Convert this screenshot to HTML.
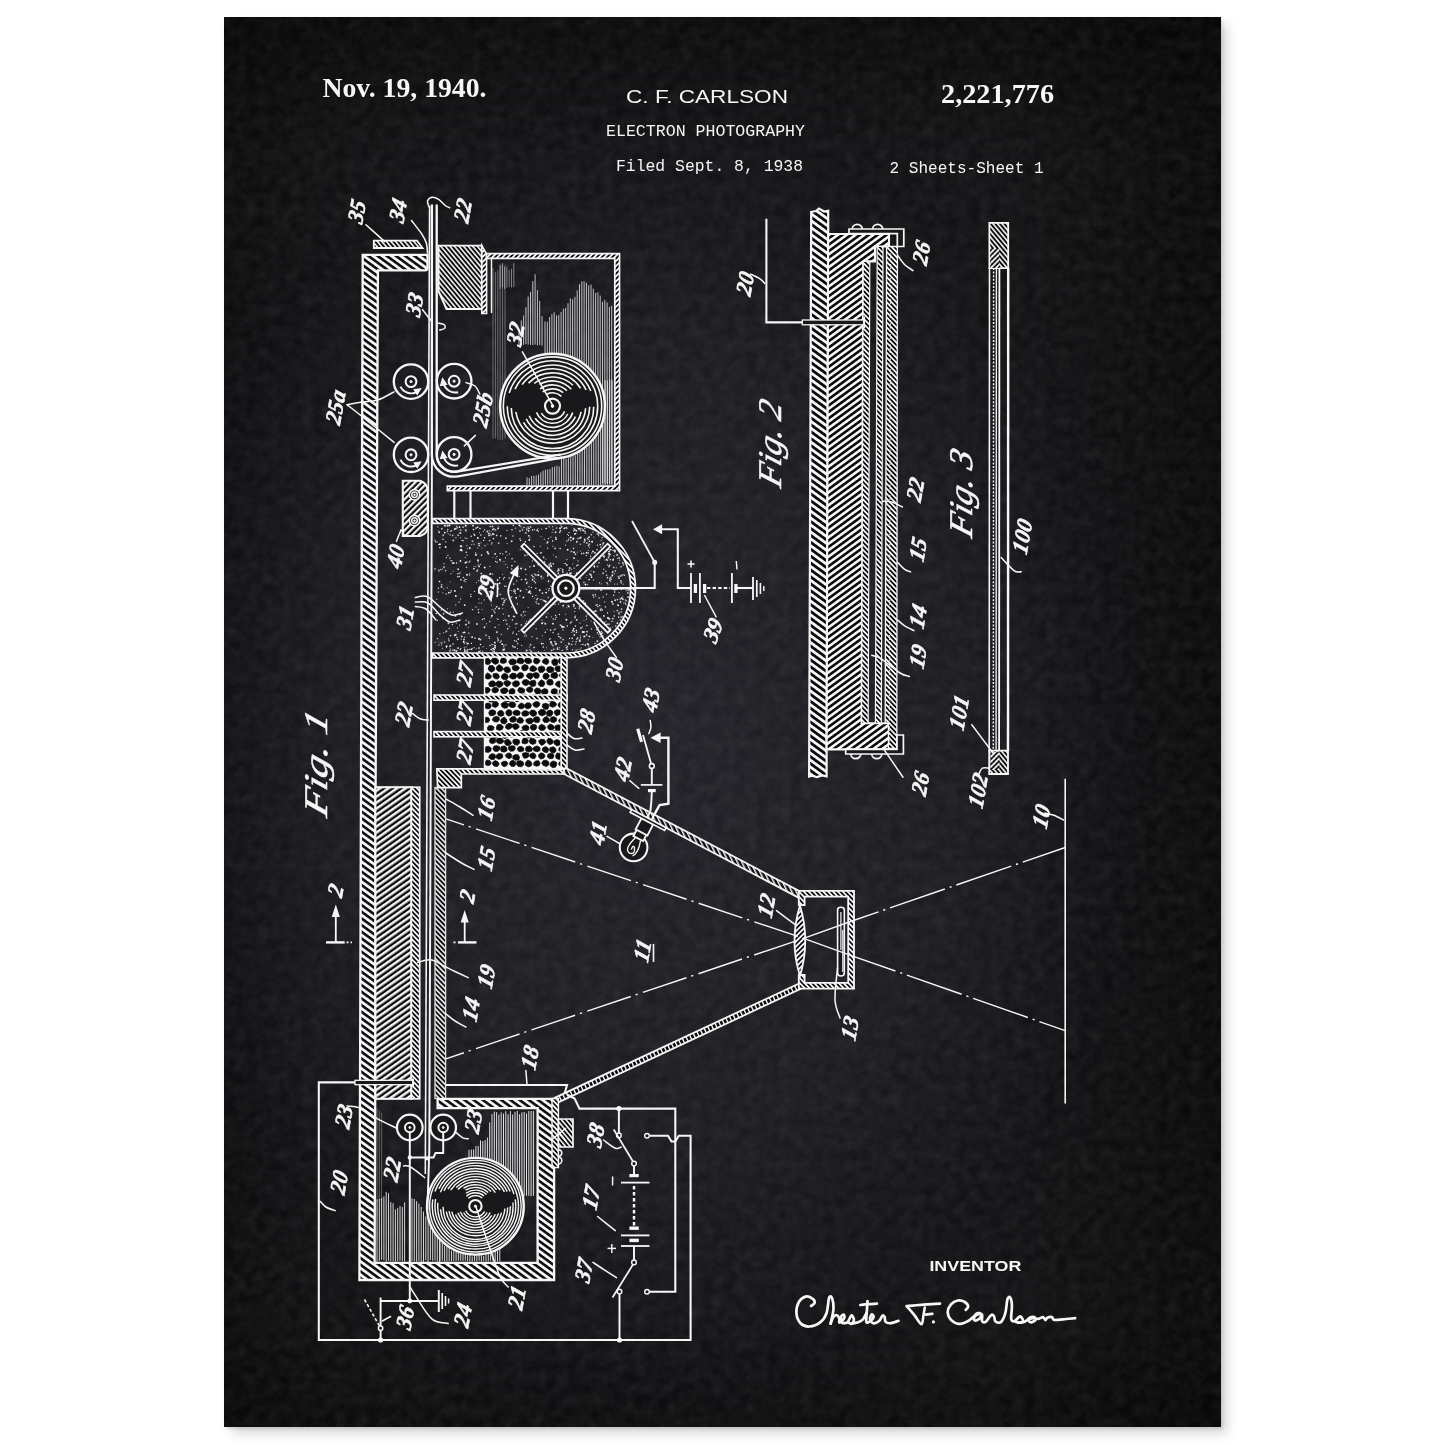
<!DOCTYPE html>
<html><head><meta charset="utf-8"><title>Electron Photography Patent</title>
<style>
html,body{margin:0;padding:0;background:#fff;}
body{width:1445px;height:1445px;overflow:hidden;position:relative;font-family:"Liberation Sans",sans-serif;}
#poster{position:absolute;left:224px;top:17px;width:997px;height:1410px;background:#121214;
 box-shadow:7px 7px 11px -1px rgba(0,0,0,0.17), 2px 2px 3px rgba(0,0,0,0.10);overflow:hidden;}
#poster .g1{position:absolute;inset:0;background:
 radial-gradient(ellipse 620px 800px at 42% 52%, rgba(40,40,48,0.72) 0%, rgba(36,36,44,0.52) 50%, rgba(20,20,26,0.2) 80%, rgba(10,10,14,0) 100%),
 linear-gradient(90deg, rgba(0,0,0,0.35) 0%, rgba(0,0,0,0.12) 9%, rgba(0,0,0,0) 20%, rgba(0,0,0,0) 78%, rgba(0,0,0,0.45) 100%),
 linear-gradient(180deg, rgba(0,0,0,0.45) 0%, rgba(0,0,0,0) 10%, rgba(0,0,0,0) 92%, rgba(0,0,0,0.35) 100%);}
svg{position:absolute;left:0;top:0;}
.lb{font-family:"Liberation Serif",serif;font-style:italic;font-weight:bold;fill:#f6f6f6;stroke:#f6f6f6;stroke-width:0.55;text-anchor:middle;}
</style></head>
<body>
<div id="poster"><div class="g1"></div>
<svg width="997" height="1410" style="position:absolute;left:0;top:0"><filter id="nz" x="0" y="0" width="100%" height="100%"><feTurbulence type="fractalNoise" baseFrequency="0.09" numOctaves="4" seed="11"/><feColorMatrix type="matrix" values="0 0 0 0 1  0 0 0 0 1  0 0 0 0 1  0.065 0.065 0 0 -0.04"/></filter><rect width="997" height="1410" filter="url(#nz)"/></svg>
</div>
<svg width="1445" height="1445" style="will-change:transform" viewBox="0 0 1445 1445">
<defs>
<pattern id="hA" width="5.4" height="5.4" patternUnits="userSpaceOnUse" patternTransform="rotate(-54)"><rect width="5.4" height="5.4" fill="#0c0c0e"/><rect width="2.8" height="5.4" fill="#f6f6f6"/></pattern>
<pattern id="hB" width="3.5" height="3.5" patternUnits="userSpaceOnUse" patternTransform="rotate(-40)"><rect width="3.5" height="3.5" fill="#0c0c0e"/><rect width="1.6" height="3.5" fill="#f6f6f6"/></pattern>
<pattern id="hC" width="3.6" height="3.6" patternUnits="userSpaceOnUse" patternTransform="rotate(45)"><rect width="3.6" height="3.6" fill="#0c0c0e"/><rect width="1.8" height="3.6" fill="#f6f6f6"/></pattern>
<pattern id="hD" width="3.5" height="3.5" patternUnits="userSpaceOnUse" patternTransform="rotate(-44)"><rect width="3.5" height="3.5" fill="#0c0c0e"/><rect width="1.75" height="3.5" fill="#f6f6f6"/></pattern>
<pattern id="hR" width="4.9" height="4.9" patternUnits="userSpaceOnUse" patternTransform="rotate(55)"><rect width="4.9" height="4.9" fill="#0c0c0e"/><rect width="2.5" height="4.9" fill="#f6f6f6"/></pattern>
<pattern id="hF" width="5.0" height="5.0" patternUnits="userSpaceOnUse" patternTransform="rotate(50)"><rect width="5.0" height="5.0" fill="#0c0c0e"/><rect width="2.3" height="5.0" fill="#f6f6f6"/></pattern>
<pattern id="hC40" width="4.4" height="4.4" patternUnits="userSpaceOnUse" patternTransform="rotate(45)"><rect width="4.4" height="4.4" fill="#0c0c0e"/><rect width="2.2" height="4.4" fill="#f6f6f6"/></pattern>
<pattern id="peb" width="25.5" height="27" patternUnits="userSpaceOnUse"><rect width="25.5" height="27" fill="#f6f6f6"/><ellipse cx="-22.31" cy="3.38" rx="2.14" ry="2.43" transform="rotate(33 -22.31 3.38)" fill="#0c0c0e"/><ellipse cx="3.19" cy="3.38" rx="2.14" ry="2.43" transform="rotate(33 3.19 3.38)" fill="#0c0c0e"/><ellipse cx="28.69" cy="3.38" rx="2.14" ry="2.43" transform="rotate(33 28.69 3.38)" fill="#0c0c0e"/><ellipse cx="-15.94" cy="3.38" rx="2.36" ry="2.48" transform="rotate(6 -15.94 3.38)" fill="#0c0c0e"/><ellipse cx="9.56" cy="3.38" rx="2.36" ry="2.48" transform="rotate(6 9.56 3.38)" fill="#0c0c0e"/><ellipse cx="35.06" cy="3.38" rx="2.36" ry="2.48" transform="rotate(6 35.06 3.38)" fill="#0c0c0e"/><ellipse cx="-9.56" cy="3.38" rx="2.01" ry="2.60" transform="rotate(23 -9.56 3.38)" fill="#0c0c0e"/><ellipse cx="15.94" cy="3.38" rx="2.01" ry="2.60" transform="rotate(23 15.94 3.38)" fill="#0c0c0e"/><ellipse cx="41.44" cy="3.38" rx="2.01" ry="2.60" transform="rotate(23 41.44 3.38)" fill="#0c0c0e"/><ellipse cx="-3.19" cy="3.38" rx="2.14" ry="2.70" transform="rotate(42 -3.19 3.38)" fill="#0c0c0e"/><ellipse cx="22.31" cy="3.38" rx="2.14" ry="2.70" transform="rotate(42 22.31 3.38)" fill="#0c0c0e"/><ellipse cx="47.81" cy="3.38" rx="2.14" ry="2.70" transform="rotate(42 47.81 3.38)" fill="#0c0c0e"/><ellipse cx="-19.12" cy="10.12" rx="2.50" ry="2.39" transform="rotate(58 -19.12 10.12)" fill="#0c0c0e"/><ellipse cx="6.38" cy="10.12" rx="2.50" ry="2.39" transform="rotate(58 6.38 10.12)" fill="#0c0c0e"/><ellipse cx="31.88" cy="10.12" rx="2.50" ry="2.39" transform="rotate(58 31.88 10.12)" fill="#0c0c0e"/><ellipse cx="-12.75" cy="10.12" rx="2.09" ry="2.48" transform="rotate(78 -12.75 10.12)" fill="#0c0c0e"/><ellipse cx="12.75" cy="10.12" rx="2.09" ry="2.48" transform="rotate(78 12.75 10.12)" fill="#0c0c0e"/><ellipse cx="38.25" cy="10.12" rx="2.09" ry="2.48" transform="rotate(78 38.25 10.12)" fill="#0c0c0e"/><ellipse cx="-6.38" cy="10.12" rx="2.31" ry="2.54" transform="rotate(60 -6.38 10.12)" fill="#0c0c0e"/><ellipse cx="19.12" cy="10.12" rx="2.31" ry="2.54" transform="rotate(60 19.12 10.12)" fill="#0c0c0e"/><ellipse cx="44.62" cy="10.12" rx="2.31" ry="2.54" transform="rotate(60 44.62 10.12)" fill="#0c0c0e"/><ellipse cx="0.00" cy="10.12" rx="2.04" ry="2.55" transform="rotate(53 0.00 10.12)" fill="#0c0c0e"/><ellipse cx="25.50" cy="10.12" rx="2.04" ry="2.55" transform="rotate(53 25.50 10.12)" fill="#0c0c0e"/><ellipse cx="51.00" cy="10.12" rx="2.04" ry="2.55" transform="rotate(53 51.00 10.12)" fill="#0c0c0e"/><ellipse cx="-22.31" cy="16.88" rx="2.18" ry="2.12" transform="rotate(78 -22.31 16.88)" fill="#0c0c0e"/><ellipse cx="3.19" cy="16.88" rx="2.18" ry="2.12" transform="rotate(78 3.19 16.88)" fill="#0c0c0e"/><ellipse cx="28.69" cy="16.88" rx="2.18" ry="2.12" transform="rotate(78 28.69 16.88)" fill="#0c0c0e"/><ellipse cx="-15.94" cy="16.88" rx="2.28" ry="2.53" transform="rotate(79 -15.94 16.88)" fill="#0c0c0e"/><ellipse cx="9.56" cy="16.88" rx="2.28" ry="2.53" transform="rotate(79 9.56 16.88)" fill="#0c0c0e"/><ellipse cx="35.06" cy="16.88" rx="2.28" ry="2.53" transform="rotate(79 35.06 16.88)" fill="#0c0c0e"/><ellipse cx="-9.56" cy="16.88" rx="2.43" ry="2.65" transform="rotate(36 -9.56 16.88)" fill="#0c0c0e"/><ellipse cx="15.94" cy="16.88" rx="2.43" ry="2.65" transform="rotate(36 15.94 16.88)" fill="#0c0c0e"/><ellipse cx="41.44" cy="16.88" rx="2.43" ry="2.65" transform="rotate(36 41.44 16.88)" fill="#0c0c0e"/><ellipse cx="-3.19" cy="16.88" rx="2.48" ry="2.37" transform="rotate(84 -3.19 16.88)" fill="#0c0c0e"/><ellipse cx="22.31" cy="16.88" rx="2.48" ry="2.37" transform="rotate(84 22.31 16.88)" fill="#0c0c0e"/><ellipse cx="47.81" cy="16.88" rx="2.48" ry="2.37" transform="rotate(84 47.81 16.88)" fill="#0c0c0e"/><ellipse cx="-19.12" cy="23.62" rx="2.53" ry="2.16" transform="rotate(12 -19.12 23.62)" fill="#0c0c0e"/><ellipse cx="6.38" cy="23.62" rx="2.53" ry="2.16" transform="rotate(12 6.38 23.62)" fill="#0c0c0e"/><ellipse cx="31.88" cy="23.62" rx="2.53" ry="2.16" transform="rotate(12 31.88 23.62)" fill="#0c0c0e"/><ellipse cx="-12.75" cy="23.62" rx="2.13" ry="2.68" transform="rotate(39 -12.75 23.62)" fill="#0c0c0e"/><ellipse cx="12.75" cy="23.62" rx="2.13" ry="2.68" transform="rotate(39 12.75 23.62)" fill="#0c0c0e"/><ellipse cx="38.25" cy="23.62" rx="2.13" ry="2.68" transform="rotate(39 38.25 23.62)" fill="#0c0c0e"/><ellipse cx="-6.38" cy="23.62" rx="2.38" ry="2.28" transform="rotate(46 -6.38 23.62)" fill="#0c0c0e"/><ellipse cx="19.12" cy="23.62" rx="2.38" ry="2.28" transform="rotate(46 19.12 23.62)" fill="#0c0c0e"/><ellipse cx="44.62" cy="23.62" rx="2.38" ry="2.28" transform="rotate(46 44.62 23.62)" fill="#0c0c0e"/><ellipse cx="0.00" cy="23.62" rx="2.23" ry="2.31" transform="rotate(53 0.00 23.62)" fill="#0c0c0e"/><ellipse cx="25.50" cy="23.62" rx="2.23" ry="2.31" transform="rotate(53 25.50 23.62)" fill="#0c0c0e"/><ellipse cx="51.00" cy="23.62" rx="2.23" ry="2.31" transform="rotate(53 51.00 23.62)" fill="#0c0c0e"/></pattern>
<pattern id="hSq" width="4" height="5.6" patternUnits="userSpaceOnUse" patternTransform="rotate(-25.1) translate(0,-0.4)"><rect width="4" height="5.6" fill="#f6f6f6"/><rect x="1.3" y="1.7" width="2.7" height="2.4" fill="#0c0c0e"/></pattern>
<pattern id="hA2" width="5.6" height="5.6" patternUnits="userSpaceOnUse" patternTransform="rotate(-54)"><rect width="5.6" height="5.6" fill="#0c0c0e"/><rect width="2.8" height="5.6" fill="#f6f6f6"/></pattern>
<pattern id="hR2" width="5.2" height="5.2" patternUnits="userSpaceOnUse" patternTransform="rotate(54)"><rect width="5.2" height="5.2" fill="#0c0c0e"/><rect width="2.6" height="5.2" fill="#f6f6f6"/></pattern>
<pattern id="hW" width="4.0" height="4.0" patternUnits="userSpaceOnUse" patternTransform="rotate(-26)"><rect width="4.0" height="4.0" fill="#0c0c0e"/><rect width="1.5" height="4.0" fill="#f6f6f6"/></pattern>
</defs>
<g stroke="#f6f6f6" fill="none" stroke-linecap="butt" stroke-linejoin="miter">
<g stroke="none" fill="#f6f6f6">
<text x="322.5" y="96.5" font-family="Liberation Serif" font-weight="bold" font-size="27.5" textLength="164" lengthAdjust="spacingAndGlyphs">Nov. 19, 1940.</text>
<text x="626" y="103.2" font-family="Liberation Sans" font-size="17.5" textLength="162" lengthAdjust="spacingAndGlyphs">C. F. CARLSON</text>
<text x="606" y="135.6" font-family="Liberation Mono" font-size="16.4" textLength="199" lengthAdjust="spacingAndGlyphs">ELECTRON PHOTOGRAPHY</text>
<text x="616" y="170.8" font-family="Liberation Mono" font-size="16.4" textLength="187" lengthAdjust="spacingAndGlyphs">Filed Sept. 8, 1938</text>
<text x="941" y="102.8" font-family="Liberation Serif" font-weight="bold" font-size="27.5" textLength="113" lengthAdjust="spacingAndGlyphs">2,221,776</text>
<text x="889.5" y="173.3" font-family="Liberation Mono" font-size="16" textLength="154" lengthAdjust="spacingAndGlyphs">2 Sheets-Sheet 1</text>
<text x="929.4" y="1270.6" font-family="Liberation Sans" font-weight="bold" font-size="14.6" textLength="92" lengthAdjust="spacingAndGlyphs">INVENTOR</text>
</g>
<path d="M362.7,254.8 L427.5,254.8 L427.5,268 Q427.5,270.3 425,270.3 L377.9,270.3 L375.6,787.2 L375.2,1098.8 L374.6,1262.8 L537.6,1262.8 L537.6,1108.2 L437.6,1108.2 L437.6,1098.8 L554.1,1098.8 L554.1,1280 L359.4,1280 Z" stroke-width="2.32" fill="url(#hA)" />
<path d="M373.8,240.6 L417,240.6 L422.5,248 L373.8,248 Z" stroke-width="1.83" fill="url(#hB)" />
<path d="M438.5,245.6 L481.8,245.6 L481.8,309 L446.5,309 L438.5,291 Z" stroke-width="1.95" fill="url(#hB)" />
<path d="M481.8,245.6 L486.6,254 L486.6,313.5 L481.8,313.5 Z" stroke-width="1.59" fill="url(#hC)" />
<line x1="493.0" y1="267.9" x2="493.0" y2="438.7" stroke-width="0.8" opacity="0.45"/>
<line x1="495.4" y1="271.8" x2="495.4" y2="438.5" stroke-width="0.8" opacity="0.45"/>
<line x1="497.8" y1="270.4" x2="497.8" y2="439.5" stroke-width="0.8" opacity="0.45"/>
<line x1="500.2" y1="264.7" x2="500.2" y2="440.0" stroke-width="0.8" opacity="0.45"/>
<line x1="502.6" y1="264.4" x2="502.6" y2="439.8" stroke-width="0.8" opacity="0.45"/>
<line x1="505.0" y1="264.8" x2="505.0" y2="438.5" stroke-width="0.8" opacity="0.45"/>
<line x1="500.0" y1="265.4" x2="500.0" y2="288.8" stroke-width="0.8" opacity="0.6"/>
<line x1="502.3" y1="263.0" x2="502.3" y2="287.3" stroke-width="0.8" opacity="0.6"/>
<line x1="504.6" y1="267.0" x2="504.6" y2="289.1" stroke-width="0.8" opacity="0.6"/>
<line x1="506.9" y1="266.6" x2="506.9" y2="287.8" stroke-width="0.8" opacity="0.6"/>
<line x1="509.2" y1="269.8" x2="509.2" y2="286.9" stroke-width="0.8" opacity="0.6"/>
<line x1="511.5" y1="268.9" x2="511.5" y2="287.5" stroke-width="0.8" opacity="0.6"/>
<line x1="513.8" y1="263.2" x2="513.8" y2="287.1" stroke-width="0.8" opacity="0.6"/>
<line x1="519.0" y1="328.9" x2="519.0" y2="345.6" stroke-width="0.9" opacity="0.85"/>
<line x1="521.3" y1="320.4" x2="521.3" y2="345.1" stroke-width="0.9" opacity="0.85"/>
<line x1="523.6" y1="315.5" x2="523.6" y2="344.8" stroke-width="0.9" opacity="0.85"/>
<line x1="525.9" y1="307.3" x2="525.9" y2="344.2" stroke-width="0.9" opacity="0.85"/>
<line x1="528.2" y1="296.6" x2="528.2" y2="344.5" stroke-width="0.9" opacity="0.85"/>
<line x1="530.5" y1="291.8" x2="530.5" y2="344.9" stroke-width="0.9" opacity="0.85"/>
<line x1="532.8" y1="281.1" x2="532.8" y2="345.2" stroke-width="0.9" opacity="0.85"/>
<line x1="535.1" y1="274.3" x2="535.1" y2="344.6" stroke-width="0.9" opacity="0.85"/>
<line x1="537.4" y1="290.2" x2="537.4" y2="345.4" stroke-width="0.9" opacity="0.85"/>
<line x1="539.7" y1="300.7" x2="539.7" y2="345.1" stroke-width="0.9" opacity="0.85"/>
<line x1="542.0" y1="316.2" x2="542.0" y2="345.7" stroke-width="0.9" opacity="0.85"/>
<line x1="545.0" y1="321.4" x2="545.0" y2="353.9" stroke-width="0.9" opacity="0.85"/>
<line x1="547.3" y1="321.7" x2="547.3" y2="353.3" stroke-width="0.9" opacity="0.85"/>
<line x1="549.6" y1="317.1" x2="549.6" y2="354.2" stroke-width="0.9" opacity="0.85"/>
<line x1="551.9" y1="314.2" x2="551.9" y2="353.7" stroke-width="0.9" opacity="0.85"/>
<line x1="554.2" y1="312.3" x2="554.2" y2="354.0" stroke-width="0.9" opacity="0.85"/>
<line x1="556.5" y1="315.5" x2="556.5" y2="354.0" stroke-width="0.9" opacity="0.85"/>
<line x1="558.8" y1="314.9" x2="558.8" y2="353.7" stroke-width="0.9" opacity="0.85"/>
<line x1="561.1" y1="312.0" x2="561.1" y2="354.6" stroke-width="0.9" opacity="0.85"/>
<line x1="563.4" y1="308.8" x2="563.4" y2="354.8" stroke-width="0.9" opacity="0.85"/>
<line x1="565.7" y1="307.9" x2="565.7" y2="356.2" stroke-width="0.9" opacity="0.85"/>
<line x1="568.0" y1="303.2" x2="568.0" y2="356.3" stroke-width="0.9" opacity="0.85"/>
<line x1="570.3" y1="298.3" x2="570.3" y2="357.2" stroke-width="0.9" opacity="0.85"/>
<line x1="572.6" y1="299.3" x2="572.6" y2="358.6" stroke-width="0.9" opacity="0.85"/>
<line x1="574.9" y1="296.8" x2="574.9" y2="358.3" stroke-width="0.9" opacity="0.85"/>
<line x1="577.2" y1="290.3" x2="577.2" y2="360.2" stroke-width="0.9" opacity="0.85"/>
<line x1="579.5" y1="284.3" x2="579.5" y2="361.1" stroke-width="0.9" opacity="0.85"/>
<line x1="581.8" y1="281.3" x2="581.8" y2="362.0" stroke-width="0.9" opacity="0.85"/>
<line x1="584.1" y1="281.3" x2="584.1" y2="364.8" stroke-width="0.9" opacity="0.85"/>
<line x1="586.4" y1="282.8" x2="586.4" y2="365.7" stroke-width="0.9" opacity="0.85"/>
<line x1="588.7" y1="285.4" x2="588.7" y2="368.9" stroke-width="0.9" opacity="0.85"/>
<line x1="591.0" y1="284.6" x2="591.0" y2="370.5" stroke-width="0.9" opacity="0.85"/>
<line x1="593.3" y1="288.6" x2="593.3" y2="373.9" stroke-width="0.9" opacity="0.85"/>
<line x1="595.6" y1="292.9" x2="595.6" y2="377.0" stroke-width="0.9" opacity="0.85"/>
<line x1="597.9" y1="292.4" x2="597.9" y2="379.8" stroke-width="0.9" opacity="0.85"/>
<line x1="600.2" y1="295.6" x2="600.2" y2="385.1" stroke-width="0.9" opacity="0.85"/>
<line x1="602.5" y1="301.8" x2="602.5" y2="483.4" stroke-width="0.9" opacity="0.85"/>
<line x1="604.8" y1="299.8" x2="604.8" y2="483.5" stroke-width="0.9" opacity="0.85"/>
<line x1="607.1" y1="302.5" x2="607.1" y2="484.0" stroke-width="0.9" opacity="0.85"/>
<line x1="609.4" y1="306.9" x2="609.4" y2="483.6" stroke-width="0.9" opacity="0.85"/>
<line x1="611.7" y1="305.7" x2="611.7" y2="483.9" stroke-width="0.9" opacity="0.85"/>
<line x1="527.0" y1="477.2" x2="527.0" y2="485.1" stroke-width="0.9" opacity="0.85"/>
<line x1="529.3" y1="478.1" x2="529.3" y2="485.2" stroke-width="0.9" opacity="0.85"/>
<line x1="531.6" y1="476.0" x2="531.6" y2="485.1" stroke-width="0.9" opacity="0.85"/>
<line x1="533.9" y1="475.7" x2="533.9" y2="484.6" stroke-width="0.9" opacity="0.85"/>
<line x1="536.2" y1="475.5" x2="536.2" y2="485.3" stroke-width="0.9" opacity="0.85"/>
<line x1="538.5" y1="474.6" x2="538.5" y2="485.3" stroke-width="0.9" opacity="0.85"/>
<line x1="540.8" y1="472.4" x2="540.8" y2="484.9" stroke-width="0.9" opacity="0.85"/>
<line x1="543.1" y1="470.7" x2="543.1" y2="485.1" stroke-width="0.9" opacity="0.85"/>
<line x1="545.4" y1="469.8" x2="545.4" y2="484.6" stroke-width="0.9" opacity="0.85"/>
<line x1="547.7" y1="469.4" x2="547.7" y2="484.7" stroke-width="0.9" opacity="0.85"/>
<line x1="550.0" y1="469.0" x2="550.0" y2="484.6" stroke-width="0.9" opacity="0.85"/>
<line x1="552.3" y1="467.2" x2="552.3" y2="484.7" stroke-width="0.9" opacity="0.85"/>
<line x1="554.6" y1="466.7" x2="554.6" y2="484.9" stroke-width="0.9" opacity="0.85"/>
<line x1="556.9" y1="465.7" x2="556.9" y2="485.3" stroke-width="0.9" opacity="0.85"/>
<line x1="559.2" y1="466.6" x2="559.2" y2="484.7" stroke-width="0.9" opacity="0.85"/>
<line x1="561.5" y1="458.0" x2="561.5" y2="484.9" stroke-width="0.9" opacity="0.85"/>
<line x1="563.8" y1="457.9" x2="563.8" y2="484.7" stroke-width="0.9" opacity="0.85"/>
<line x1="566.1" y1="458.8" x2="566.1" y2="485.4" stroke-width="0.9" opacity="0.85"/>
<line x1="568.4" y1="456.9" x2="568.4" y2="485.0" stroke-width="0.9" opacity="0.85"/>
<line x1="570.7" y1="455.0" x2="570.7" y2="484.6" stroke-width="0.9" opacity="0.85"/>
<line x1="573.0" y1="454.9" x2="573.0" y2="484.8" stroke-width="0.9" opacity="0.85"/>
<line x1="575.3" y1="455.3" x2="575.3" y2="484.7" stroke-width="0.9" opacity="0.85"/>
<line x1="577.6" y1="451.7" x2="577.6" y2="485.4" stroke-width="0.9" opacity="0.85"/>
<line x1="579.9" y1="451.9" x2="579.9" y2="484.7" stroke-width="0.9" opacity="0.85"/>
<line x1="582.2" y1="450.4" x2="582.2" y2="484.6" stroke-width="0.9" opacity="0.85"/>
<line x1="584.5" y1="448.7" x2="584.5" y2="485.4" stroke-width="0.9" opacity="0.85"/>
<line x1="586.8" y1="447.8" x2="586.8" y2="485.2" stroke-width="0.9" opacity="0.85"/>
<line x1="589.1" y1="443.9" x2="589.1" y2="484.9" stroke-width="0.9" opacity="0.85"/>
<line x1="591.4" y1="441.2" x2="591.4" y2="485.2" stroke-width="0.9" opacity="0.85"/>
<line x1="593.7" y1="439.6" x2="593.7" y2="485.3" stroke-width="0.9" opacity="0.85"/>
<line x1="596.0" y1="435.8" x2="596.0" y2="484.8" stroke-width="0.9" opacity="0.85"/>
<line x1="598.3" y1="433.5" x2="598.3" y2="485.4" stroke-width="0.9" opacity="0.85"/>
<line x1="600.6" y1="428.9" x2="600.6" y2="485.3" stroke-width="0.9" opacity="0.85"/>
<line x1="602.9" y1="422.4" x2="602.9" y2="485.2" stroke-width="0.9" opacity="0.85"/>
<line x1="605.2" y1="380.2" x2="605.2" y2="485.0" stroke-width="0.9" opacity="0.85"/>
<line x1="607.5" y1="380.6" x2="607.5" y2="484.6" stroke-width="0.9" opacity="0.85"/>
<line x1="609.8" y1="379.6" x2="609.8" y2="484.8" stroke-width="0.9" opacity="0.85"/>
<line x1="612.1" y1="380.3" x2="612.1" y2="485.2" stroke-width="0.9" opacity="0.85"/>
<path d="M486.6,253.6 L619.5,253.6 L619.5,490.6 L447.3,490.6 L447.3,486.2 L614.8,486.2 L614.8,258.4 L486.6,258.4 Z" stroke-width="1.71" fill="url(#hC)" />
<line x1="491.5" y1="258.0" x2="491.5" y2="313.0" stroke-width="1.46" />
<line x1="454.3" y1="491.0" x2="454.3" y2="518.0" stroke-width="2.2" />
<line x1="470.5" y1="491.0" x2="470.5" y2="518.0" stroke-width="2.2" />
<line x1="553.0" y1="491.0" x2="553.0" y2="518.0" stroke-width="2.2" />
<line x1="568.0" y1="491.0" x2="568.0" y2="518.0" stroke-width="2.2" />
<circle cx="552.5" cy="406.1" r="52.4" stroke-width="2.44" fill="#19191c" />
<circle cx="552.5" cy="406.1" r="49.2" stroke-width="1.59" fill="none" />
<path d="M597.7,406.1 A45.2,45.2 0 0 1 507.3,406.2" stroke-width="1.59" fill="none" />
<path d="M509.2,393.0 A45.2,45.2 0 0 1 597.7,406.1" stroke-width="1.59" fill="none" />
<path d="M593.7,406.8 A41.2,41.2 0 0 1 511.3,407.9" stroke-width="1.59" fill="none" />
<path d="M515.0,389.1 A41.2,41.2 0 0 1 590.8,390.9" stroke-width="1.59" fill="none" />
<path d="M589.7,406.7 A37.2,37.2 0 0 1 515.8,411.9" stroke-width="1.59" fill="none" />
<path d="M522.1,384.6 A37.2,37.2 0 0 1 586.1,390.0" stroke-width="1.59" fill="none" />
<path d="M585.6,408.2 A33.2,33.2 0 0 1 523.5,422.3" stroke-width="1.59" fill="none" />
<path d="M528.5,383.1 A33.2,33.2 0 0 1 580.5,388.3" stroke-width="1.59" fill="none" />
<path d="M581.1,411.8 A29.2,29.2 0 0 1 526.2,418.9" stroke-width="1.59" fill="none" />
<path d="M534.2,383.4 A29.2,29.2 0 0 1 573.0,385.3" stroke-width="1.59" fill="none" />
<path d="M575.4,416.6 A25.2,25.2 0 0 1 529.2,415.7" stroke-width="1.59" fill="none" />
<path d="M539.5,384.5 A25.2,25.2 0 0 1 571.3,389.3" stroke-width="1.59" fill="none" />
<path d="M572.7,412.5 A21.2,21.2 0 0 1 535.1,418.3" stroke-width="1.59" fill="none" />
<path d="M540.1,388.9 A21.2,21.2 0 0 1 566.9,390.6" stroke-width="1.59" fill="none" />
<path d="M567.8,414.0 A17.2,17.2 0 0 1 536.5,412.4" stroke-width="1.59" fill="none" />
<path d="M542.7,391.9 A17.2,17.2 0 0 1 563.1,392.6" stroke-width="1.59" fill="none" />
<path d="M564.6,411.4 A13.2,13.2 0 0 1 541.3,413.1" stroke-width="1.59" fill="none" />
<path d="M546.7,394.2 A13.2,13.2 0 0 1 561.4,396.3" stroke-width="1.59" fill="none" />
<circle cx="552.5" cy="406.1" r="7.5" stroke-width="2.2" fill="none" />
<circle cx="552.5" cy="406.1" r="1.2" stroke-width="1.22" fill="#f6f6f6" />
<circle cx="411.0" cy="381.6" r="17.2" stroke-width="2.32" fill="none" />
<circle cx="411.0" cy="381.6" r="5.4" stroke-width="2.07" fill="none" />
<circle cx="411.0" cy="381.6" r="1.1" stroke-width="0.98" fill="#f6f6f6" />
<path d="M400.5,386.6 A12,12 0 0 0 417.0,391.9" stroke-width="1.95" fill="none" />
<path d="M420.5,388.8 L414.2,389.8 L417.2,394.4 Z" stroke-width="1.22" fill="#f6f6f6" />
<circle cx="411.0" cy="454.8" r="17.2" stroke-width="2.32" fill="none" />
<circle cx="411.0" cy="454.8" r="5.4" stroke-width="2.07" fill="none" />
<circle cx="411.0" cy="454.8" r="1.1" stroke-width="0.98" fill="#f6f6f6" />
<path d="M400.5,459.8 A12,12 0 0 0 417.0,465.1" stroke-width="1.95" fill="none" />
<path d="M420.5,462.0 L414.2,463.0 L417.2,467.6 Z" stroke-width="1.22" fill="#f6f6f6" />
<circle cx="454.1" cy="381.2" r="17.3" stroke-width="2.32" fill="none" />
<circle cx="454.1" cy="381.2" r="5.4" stroke-width="2.07" fill="none" />
<circle cx="454.1" cy="381.2" r="1.1" stroke-width="0.98" fill="#f6f6f6" />
<path d="M458.1,392.2 A12,12 0 0 1 443.6,383.2" stroke-width="1.95" fill="none" />
<path d="M442.6,378.7 L440.6,385.4 L446.6,384.4 Z" stroke-width="1.22" fill="#f6f6f6" />
<circle cx="454.1" cy="454.4" r="17.3" stroke-width="2.32" fill="none" />
<circle cx="454.1" cy="454.4" r="5.4" stroke-width="2.07" fill="none" />
<circle cx="454.1" cy="454.4" r="1.1" stroke-width="0.98" fill="#f6f6f6" />
<path d="M458.1,465.4 A12,12 0 0 1 443.6,456.4" stroke-width="1.95" fill="none" />
<path d="M442.6,451.9 L440.6,458.6 L446.6,457.6 Z" stroke-width="1.22" fill="#f6f6f6" />
<path d="M436.7,204.5 L436.7,454.4 A17.4,17.4 0 0 0 456.9,471.6 L560.4,454.7" stroke-width="2.32" fill="none" />
<path d="M431.9,204.5 L431.8,454.4 A22.3,22.3 0 0 0 458.1,476.3 L561.8,457.7" stroke-width="2.32" fill="none" />
<rect x="375.4" y="787.2" width="36.0" height="311.6" stroke-width="2.07" fill="url(#hR)" />
<rect x="411.4" y="787.2" width="8.3" height="311.6" stroke-width="1.71" fill="url(#hD)" />
<rect x="435" y="787.5" width="10.6" height="311" fill="url(#hD)" stroke-width="1.3" opacity="0.9"/>
<line x1="429.6" y1="206.0" x2="425.3" y2="1174.0" stroke-width="1.59" />
<line x1="432.0" y1="440.0" x2="429.3" y2="1150.0" stroke-width="1.95" />
<path d="M436.8,768.8 L563.5,768.8 L566,774 L461.3,774 L461.3,787.6 L437.7,787.6 Z" stroke-width="1.71" fill="url(#hD)" />
<path d="M402.8,480.8 L420,480.8 Q427.8,483 427.8,492 L427.8,526 Q427.8,534 420,536 L402.8,536 Z" stroke-width="2.07" fill="url(#hC40)" />
<circle cx="414.5" cy="494.8" r="5.2" stroke-width="1.59" fill="#19191c" />
<circle cx="414.5" cy="494.8" r="2.8" stroke-width="1.46" fill="#19191c" />
<circle cx="414.5" cy="494.8" r="0.9" stroke-width="0.73" fill="#f6f6f6" />
<circle cx="414.5" cy="520.6" r="5.2" stroke-width="1.59" fill="#19191c" />
<circle cx="414.5" cy="520.6" r="2.8" stroke-width="1.46" fill="#19191c" />
<circle cx="414.5" cy="520.6" r="0.9" stroke-width="0.73" fill="#f6f6f6" />
<path d="M432.6,518.6 L565.9,518.6 A69.6,69.6 0 0 1 565.9,657.8 L432.6,657.8 L432.6,653 L565.9,653 A64.8,64.8 0 0 0 565.9,523.4 L432.6,523.4 Z" stroke-width="1.71" fill="url(#hD)" />
<circle cx="549.2" cy="526.7" r="0.75" fill="#f6f6f6" stroke="none" opacity="0.7"/>
<circle cx="617.4" cy="622.2" r="0.55" fill="#f6f6f6" stroke="none" opacity="0.7"/>
<circle cx="558.0" cy="581.5" r="0.55" fill="#f6f6f6" stroke="none" opacity="0.7"/>
<circle cx="588.9" cy="646.9" r="0.65" fill="#f6f6f6" stroke="none" opacity="0.85"/>
<circle cx="474.2" cy="647.6" r="0.55" fill="#f6f6f6" stroke="none" opacity="0.85"/>
<circle cx="517.6" cy="643.8" r="0.75" fill="#f6f6f6" stroke="none" opacity="0.85"/>
<circle cx="575.8" cy="533.4" r="0.75" fill="#f6f6f6" stroke="none" opacity="0.85"/>
<circle cx="573.6" cy="548.5" r="0.65" fill="#f6f6f6" stroke="none" opacity="0.7"/>
<circle cx="537.0" cy="638.4" r="0.85" fill="#f6f6f6" stroke="none" opacity="0.7"/>
<circle cx="453.3" cy="612.1" r="0.55" fill="#f6f6f6" stroke="none" opacity="1"/>
<circle cx="541.2" cy="576.5" r="0.95" fill="#f6f6f6" stroke="none" opacity="0.85"/>
<circle cx="599.4" cy="582.9" r="0.55" fill="#f6f6f6" stroke="none" opacity="1"/>
<circle cx="560.4" cy="625.1" r="0.85" fill="#f6f6f6" stroke="none" opacity="0.85"/>
<circle cx="464.7" cy="632.3" r="0.85" fill="#f6f6f6" stroke="none" opacity="1"/>
<circle cx="626.0" cy="604.6" r="0.75" fill="#f6f6f6" stroke="none" opacity="0.7"/>
<circle cx="564.3" cy="598.7" r="0.95" fill="#f6f6f6" stroke="none" opacity="0.85"/>
<circle cx="499.9" cy="559.8" r="0.95" fill="#f6f6f6" stroke="none" opacity="1"/>
<circle cx="569.1" cy="570.3" r="0.75" fill="#f6f6f6" stroke="none" opacity="1"/>
<circle cx="507.5" cy="567.5" r="0.65" fill="#f6f6f6" stroke="none" opacity="0.7"/>
<circle cx="578.4" cy="528.5" r="0.85" fill="#f6f6f6" stroke="none" opacity="1"/>
<circle cx="560.5" cy="530.3" r="0.65" fill="#f6f6f6" stroke="none" opacity="0.7"/>
<circle cx="445.8" cy="542.0" r="0.65" fill="#f6f6f6" stroke="none" opacity="0.85"/>
<circle cx="473.5" cy="529.5" r="0.85" fill="#f6f6f6" stroke="none" opacity="1"/>
<circle cx="556.7" cy="600.0" r="0.75" fill="#f6f6f6" stroke="none" opacity="0.7"/>
<circle cx="607.4" cy="612.5" r="0.55" fill="#f6f6f6" stroke="none" opacity="1"/>
<circle cx="562.8" cy="571.9" r="0.95" fill="#f6f6f6" stroke="none" opacity="0.85"/>
<circle cx="612.4" cy="572.7" r="0.65" fill="#f6f6f6" stroke="none" opacity="0.85"/>
<circle cx="493.0" cy="648.5" r="0.65" fill="#f6f6f6" stroke="none" opacity="1"/>
<circle cx="553.2" cy="619.1" r="0.75" fill="#f6f6f6" stroke="none" opacity="0.85"/>
<circle cx="438.9" cy="645.0" r="0.75" fill="#f6f6f6" stroke="none" opacity="0.7"/>
<circle cx="590.6" cy="556.2" r="0.65" fill="#f6f6f6" stroke="none" opacity="1"/>
<circle cx="555.2" cy="619.4" r="0.65" fill="#f6f6f6" stroke="none" opacity="0.85"/>
<circle cx="580.5" cy="528.4" r="0.95" fill="#f6f6f6" stroke="none" opacity="0.7"/>
<circle cx="596.6" cy="533.7" r="0.55" fill="#f6f6f6" stroke="none" opacity="0.7"/>
<circle cx="567.1" cy="528.2" r="0.55" fill="#f6f6f6" stroke="none" opacity="0.85"/>
<circle cx="576.8" cy="542.1" r="0.85" fill="#f6f6f6" stroke="none" opacity="0.7"/>
<circle cx="566.4" cy="619.7" r="0.95" fill="#f6f6f6" stroke="none" opacity="1"/>
<circle cx="492.8" cy="644.6" r="0.65" fill="#f6f6f6" stroke="none" opacity="0.85"/>
<circle cx="606.8" cy="582.6" r="0.65" fill="#f6f6f6" stroke="none" opacity="1"/>
<circle cx="575.4" cy="626.1" r="0.75" fill="#f6f6f6" stroke="none" opacity="1"/>
<circle cx="477.8" cy="547.9" r="0.55" fill="#f6f6f6" stroke="none" opacity="0.7"/>
<circle cx="621.5" cy="609.0" r="0.85" fill="#f6f6f6" stroke="none" opacity="0.85"/>
<circle cx="499.3" cy="583.7" r="0.65" fill="#f6f6f6" stroke="none" opacity="0.7"/>
<circle cx="465.3" cy="557.3" r="0.65" fill="#f6f6f6" stroke="none" opacity="0.85"/>
<circle cx="503.5" cy="620.5" r="0.55" fill="#f6f6f6" stroke="none" opacity="1"/>
<circle cx="466.0" cy="624.7" r="0.85" fill="#f6f6f6" stroke="none" opacity="1"/>
<circle cx="482.7" cy="651.2" r="0.55" fill="#f6f6f6" stroke="none" opacity="1"/>
<circle cx="480.9" cy="534.9" r="0.75" fill="#f6f6f6" stroke="none" opacity="1"/>
<circle cx="497.1" cy="584.4" r="0.85" fill="#f6f6f6" stroke="none" opacity="0.7"/>
<circle cx="589.4" cy="547.3" r="0.55" fill="#f6f6f6" stroke="none" opacity="1"/>
<circle cx="556.1" cy="617.3" r="0.85" fill="#f6f6f6" stroke="none" opacity="0.7"/>
<circle cx="525.2" cy="611.5" r="0.55" fill="#f6f6f6" stroke="none" opacity="1"/>
<circle cx="601.3" cy="631.3" r="0.55" fill="#f6f6f6" stroke="none" opacity="1"/>
<circle cx="483.4" cy="531.4" r="0.55" fill="#f6f6f6" stroke="none" opacity="0.7"/>
<circle cx="485.8" cy="576.7" r="0.55" fill="#f6f6f6" stroke="none" opacity="0.7"/>
<circle cx="573.5" cy="606.4" r="0.65" fill="#f6f6f6" stroke="none" opacity="0.7"/>
<circle cx="452.3" cy="650.1" r="0.55" fill="#f6f6f6" stroke="none" opacity="1"/>
<circle cx="477.7" cy="527.2" r="0.85" fill="#f6f6f6" stroke="none" opacity="0.85"/>
<circle cx="579.4" cy="641.0" r="0.85" fill="#f6f6f6" stroke="none" opacity="0.7"/>
<circle cx="590.2" cy="558.5" r="0.65" fill="#f6f6f6" stroke="none" opacity="0.7"/>
<circle cx="491.9" cy="644.4" r="0.55" fill="#f6f6f6" stroke="none" opacity="0.85"/>
<circle cx="438.7" cy="531.0" r="0.55" fill="#f6f6f6" stroke="none" opacity="0.85"/>
<circle cx="546.8" cy="565.8" r="0.65" fill="#f6f6f6" stroke="none" opacity="0.85"/>
<circle cx="534.0" cy="566.0" r="0.95" fill="#f6f6f6" stroke="none" opacity="1"/>
<circle cx="545.9" cy="528.5" r="0.65" fill="#f6f6f6" stroke="none" opacity="0.85"/>
<circle cx="438.3" cy="592.0" r="0.65" fill="#f6f6f6" stroke="none" opacity="0.85"/>
<circle cx="467.5" cy="649.8" r="0.95" fill="#f6f6f6" stroke="none" opacity="0.7"/>
<circle cx="521.5" cy="579.5" r="0.85" fill="#f6f6f6" stroke="none" opacity="0.7"/>
<circle cx="587.7" cy="643.9" r="0.85" fill="#f6f6f6" stroke="none" opacity="1"/>
<circle cx="571.4" cy="551.4" r="0.95" fill="#f6f6f6" stroke="none" opacity="0.7"/>
<circle cx="477.9" cy="560.2" r="0.95" fill="#f6f6f6" stroke="none" opacity="1"/>
<circle cx="506.0" cy="620.4" r="0.75" fill="#f6f6f6" stroke="none" opacity="0.7"/>
<circle cx="447.4" cy="587.8" r="0.65" fill="#f6f6f6" stroke="none" opacity="0.7"/>
<circle cx="532.5" cy="529.8" r="0.55" fill="#f6f6f6" stroke="none" opacity="1"/>
<circle cx="541.2" cy="536.6" r="0.55" fill="#f6f6f6" stroke="none" opacity="0.7"/>
<circle cx="536.8" cy="599.5" r="0.85" fill="#f6f6f6" stroke="none" opacity="0.7"/>
<circle cx="498.1" cy="528.4" r="0.85" fill="#f6f6f6" stroke="none" opacity="1"/>
<circle cx="618.9" cy="613.0" r="0.95" fill="#f6f6f6" stroke="none" opacity="0.7"/>
<circle cx="570.2" cy="591.3" r="0.55" fill="#f6f6f6" stroke="none" opacity="0.7"/>
<circle cx="586.2" cy="615.7" r="0.55" fill="#f6f6f6" stroke="none" opacity="0.85"/>
<circle cx="620.5" cy="601.9" r="0.85" fill="#f6f6f6" stroke="none" opacity="1"/>
<circle cx="453.3" cy="540.4" r="0.95" fill="#f6f6f6" stroke="none" opacity="0.85"/>
<circle cx="513.3" cy="525.4" r="0.65" fill="#f6f6f6" stroke="none" opacity="1"/>
<circle cx="484.6" cy="537.7" r="0.75" fill="#f6f6f6" stroke="none" opacity="1"/>
<circle cx="450.5" cy="645.7" r="0.85" fill="#f6f6f6" stroke="none" opacity="0.7"/>
<circle cx="600.2" cy="636.6" r="0.85" fill="#f6f6f6" stroke="none" opacity="0.7"/>
<circle cx="555.1" cy="548.4" r="0.95" fill="#f6f6f6" stroke="none" opacity="0.7"/>
<circle cx="529.9" cy="537.8" r="0.65" fill="#f6f6f6" stroke="none" opacity="0.7"/>
<circle cx="559.4" cy="647.6" r="0.55" fill="#f6f6f6" stroke="none" opacity="0.7"/>
<circle cx="473.9" cy="566.2" r="0.55" fill="#f6f6f6" stroke="none" opacity="0.7"/>
<circle cx="586.2" cy="616.6" r="0.55" fill="#f6f6f6" stroke="none" opacity="0.85"/>
<circle cx="473.9" cy="568.6" r="0.85" fill="#f6f6f6" stroke="none" opacity="1"/>
<circle cx="538.3" cy="531.4" r="0.65" fill="#f6f6f6" stroke="none" opacity="0.85"/>
<circle cx="567.6" cy="534.3" r="0.55" fill="#f6f6f6" stroke="none" opacity="1"/>
<circle cx="530.0" cy="650.0" r="0.85" fill="#f6f6f6" stroke="none" opacity="0.7"/>
<circle cx="511.2" cy="590.6" r="0.65" fill="#f6f6f6" stroke="none" opacity="0.7"/>
<circle cx="528.9" cy="535.8" r="0.85" fill="#f6f6f6" stroke="none" opacity="1"/>
<circle cx="596.7" cy="629.6" r="0.85" fill="#f6f6f6" stroke="none" opacity="0.7"/>
<circle cx="492.0" cy="609.6" r="0.65" fill="#f6f6f6" stroke="none" opacity="0.85"/>
<circle cx="450.3" cy="612.3" r="0.85" fill="#f6f6f6" stroke="none" opacity="0.7"/>
<circle cx="626.2" cy="601.1" r="0.65" fill="#f6f6f6" stroke="none" opacity="0.7"/>
<circle cx="589.3" cy="544.3" r="0.95" fill="#f6f6f6" stroke="none" opacity="0.7"/>
<circle cx="463.0" cy="527.2" r="0.85" fill="#f6f6f6" stroke="none" opacity="0.7"/>
<circle cx="482.3" cy="609.5" r="0.55" fill="#f6f6f6" stroke="none" opacity="0.7"/>
<circle cx="592.8" cy="532.1" r="0.55" fill="#f6f6f6" stroke="none" opacity="1"/>
<circle cx="511.7" cy="568.9" r="0.75" fill="#f6f6f6" stroke="none" opacity="0.85"/>
<circle cx="468.2" cy="643.4" r="0.85" fill="#f6f6f6" stroke="none" opacity="0.7"/>
<circle cx="619.0" cy="563.0" r="0.85" fill="#f6f6f6" stroke="none" opacity="0.7"/>
<circle cx="525.8" cy="533.0" r="0.95" fill="#f6f6f6" stroke="none" opacity="0.7"/>
<circle cx="463.6" cy="540.8" r="0.55" fill="#f6f6f6" stroke="none" opacity="1"/>
<circle cx="564.3" cy="528.3" r="0.85" fill="#f6f6f6" stroke="none" opacity="1"/>
<circle cx="578.1" cy="600.1" r="0.85" fill="#f6f6f6" stroke="none" opacity="0.85"/>
<circle cx="459.0" cy="620.8" r="0.75" fill="#f6f6f6" stroke="none" opacity="0.85"/>
<circle cx="614.5" cy="584.1" r="0.65" fill="#f6f6f6" stroke="none" opacity="0.85"/>
<circle cx="464.9" cy="651.2" r="0.85" fill="#f6f6f6" stroke="none" opacity="1"/>
<circle cx="538.1" cy="575.1" r="0.85" fill="#f6f6f6" stroke="none" opacity="0.7"/>
<circle cx="493.4" cy="538.7" r="0.75" fill="#f6f6f6" stroke="none" opacity="1"/>
<circle cx="588.2" cy="567.7" r="0.75" fill="#f6f6f6" stroke="none" opacity="1"/>
<circle cx="497.1" cy="562.2" r="0.85" fill="#f6f6f6" stroke="none" opacity="0.7"/>
<circle cx="448.2" cy="533.8" r="0.55" fill="#f6f6f6" stroke="none" opacity="1"/>
<circle cx="613.4" cy="589.3" r="0.85" fill="#f6f6f6" stroke="none" opacity="0.7"/>
<circle cx="480.0" cy="528.4" r="0.75" fill="#f6f6f6" stroke="none" opacity="1"/>
<circle cx="623.2" cy="584.2" r="0.65" fill="#f6f6f6" stroke="none" opacity="0.7"/>
<circle cx="567.1" cy="573.3" r="0.75" fill="#f6f6f6" stroke="none" opacity="1"/>
<circle cx="525.3" cy="629.2" r="0.95" fill="#f6f6f6" stroke="none" opacity="0.7"/>
<circle cx="549.2" cy="588.5" r="0.75" fill="#f6f6f6" stroke="none" opacity="0.85"/>
<circle cx="461.5" cy="546.3" r="0.85" fill="#f6f6f6" stroke="none" opacity="0.85"/>
<circle cx="558.3" cy="633.9" r="0.85" fill="#f6f6f6" stroke="none" opacity="0.7"/>
<circle cx="476.1" cy="528.0" r="0.85" fill="#f6f6f6" stroke="none" opacity="1"/>
<circle cx="602.6" cy="636.1" r="0.95" fill="#f6f6f6" stroke="none" opacity="0.85"/>
<circle cx="555.5" cy="532.3" r="0.95" fill="#f6f6f6" stroke="none" opacity="0.85"/>
<circle cx="441.5" cy="586.9" r="0.85" fill="#f6f6f6" stroke="none" opacity="1"/>
<circle cx="509.3" cy="553.9" r="0.55" fill="#f6f6f6" stroke="none" opacity="1"/>
<circle cx="511.6" cy="606.9" r="0.75" fill="#f6f6f6" stroke="none" opacity="0.7"/>
<circle cx="475.8" cy="555.0" r="0.95" fill="#f6f6f6" stroke="none" opacity="0.85"/>
<circle cx="523.5" cy="612.1" r="0.75" fill="#f6f6f6" stroke="none" opacity="1"/>
<circle cx="602.3" cy="543.7" r="0.55" fill="#f6f6f6" stroke="none" opacity="0.7"/>
<circle cx="587.5" cy="538.5" r="0.85" fill="#f6f6f6" stroke="none" opacity="0.85"/>
<circle cx="529.8" cy="591.3" r="0.95" fill="#f6f6f6" stroke="none" opacity="1"/>
<circle cx="469.3" cy="575.2" r="0.55" fill="#f6f6f6" stroke="none" opacity="0.85"/>
<circle cx="588.6" cy="539.5" r="0.65" fill="#f6f6f6" stroke="none" opacity="0.7"/>
<circle cx="461.3" cy="639.3" r="0.55" fill="#f6f6f6" stroke="none" opacity="0.85"/>
<circle cx="523.2" cy="549.2" r="0.75" fill="#f6f6f6" stroke="none" opacity="1"/>
<circle cx="570.7" cy="622.7" r="0.95" fill="#f6f6f6" stroke="none" opacity="0.7"/>
<circle cx="507.1" cy="543.3" r="0.55" fill="#f6f6f6" stroke="none" opacity="1"/>
<circle cx="464.6" cy="579.0" r="0.55" fill="#f6f6f6" stroke="none" opacity="1"/>
<circle cx="499.9" cy="642.4" r="0.65" fill="#f6f6f6" stroke="none" opacity="0.85"/>
<circle cx="522.6" cy="629.5" r="0.75" fill="#f6f6f6" stroke="none" opacity="0.7"/>
<circle cx="597.5" cy="534.0" r="0.65" fill="#f6f6f6" stroke="none" opacity="0.7"/>
<circle cx="567.4" cy="600.5" r="0.75" fill="#f6f6f6" stroke="none" opacity="0.85"/>
<circle cx="587.1" cy="635.6" r="0.55" fill="#f6f6f6" stroke="none" opacity="0.7"/>
<circle cx="531.9" cy="636.7" r="0.75" fill="#f6f6f6" stroke="none" opacity="0.7"/>
<circle cx="628.0" cy="590.6" r="0.55" fill="#f6f6f6" stroke="none" opacity="1"/>
<circle cx="495.2" cy="643.3" r="0.55" fill="#f6f6f6" stroke="none" opacity="0.7"/>
<circle cx="503.8" cy="645.0" r="0.75" fill="#f6f6f6" stroke="none" opacity="0.7"/>
<circle cx="505.9" cy="538.2" r="0.85" fill="#f6f6f6" stroke="none" opacity="0.85"/>
<circle cx="539.7" cy="590.2" r="0.95" fill="#f6f6f6" stroke="none" opacity="1"/>
<circle cx="610.7" cy="577.4" r="0.85" fill="#f6f6f6" stroke="none" opacity="0.85"/>
<circle cx="459.7" cy="533.0" r="0.55" fill="#f6f6f6" stroke="none" opacity="0.85"/>
<circle cx="456.5" cy="526.2" r="0.75" fill="#f6f6f6" stroke="none" opacity="0.7"/>
<circle cx="444.5" cy="642.1" r="0.75" fill="#f6f6f6" stroke="none" opacity="0.85"/>
<circle cx="502.7" cy="604.7" r="0.85" fill="#f6f6f6" stroke="none" opacity="0.85"/>
<circle cx="620.4" cy="576.1" r="0.95" fill="#f6f6f6" stroke="none" opacity="0.7"/>
<circle cx="589.9" cy="563.9" r="0.95" fill="#f6f6f6" stroke="none" opacity="0.85"/>
<circle cx="467.3" cy="643.6" r="0.85" fill="#f6f6f6" stroke="none" opacity="0.7"/>
<circle cx="489.4" cy="591.8" r="0.65" fill="#f6f6f6" stroke="none" opacity="0.85"/>
<circle cx="591.8" cy="553.1" r="0.55" fill="#f6f6f6" stroke="none" opacity="1"/>
<circle cx="497.0" cy="556.5" r="0.55" fill="#f6f6f6" stroke="none" opacity="1"/>
<circle cx="551.3" cy="642.1" r="0.75" fill="#f6f6f6" stroke="none" opacity="0.85"/>
<circle cx="516.8" cy="623.7" r="0.85" fill="#f6f6f6" stroke="none" opacity="0.7"/>
<circle cx="587.7" cy="584.7" r="0.55" fill="#f6f6f6" stroke="none" opacity="1"/>
<circle cx="478.4" cy="609.5" r="0.85" fill="#f6f6f6" stroke="none" opacity="0.7"/>
<circle cx="571.8" cy="525.5" r="0.55" fill="#f6f6f6" stroke="none" opacity="0.7"/>
<circle cx="436.3" cy="613.5" r="0.75" fill="#f6f6f6" stroke="none" opacity="1"/>
<circle cx="605.2" cy="625.4" r="0.65" fill="#f6f6f6" stroke="none" opacity="1"/>
<circle cx="436.8" cy="599.2" r="0.55" fill="#f6f6f6" stroke="none" opacity="1"/>
<circle cx="495.1" cy="554.0" r="0.95" fill="#f6f6f6" stroke="none" opacity="0.7"/>
<circle cx="491.1" cy="617.8" r="0.65" fill="#f6f6f6" stroke="none" opacity="0.7"/>
<circle cx="437.9" cy="526.8" r="0.65" fill="#f6f6f6" stroke="none" opacity="1"/>
<circle cx="604.5" cy="601.9" r="0.65" fill="#f6f6f6" stroke="none" opacity="0.85"/>
<circle cx="471.0" cy="594.4" r="0.65" fill="#f6f6f6" stroke="none" opacity="0.85"/>
<circle cx="514.6" cy="640.5" r="0.75" fill="#f6f6f6" stroke="none" opacity="0.85"/>
<circle cx="573.3" cy="604.4" r="0.65" fill="#f6f6f6" stroke="none" opacity="0.85"/>
<circle cx="486.4" cy="588.9" r="0.85" fill="#f6f6f6" stroke="none" opacity="1"/>
<circle cx="595.8" cy="610.9" r="0.85" fill="#f6f6f6" stroke="none" opacity="1"/>
<circle cx="491.3" cy="649.5" r="0.85" fill="#f6f6f6" stroke="none" opacity="1"/>
<circle cx="478.9" cy="543.6" r="0.85" fill="#f6f6f6" stroke="none" opacity="1"/>
<circle cx="528.2" cy="607.6" r="0.65" fill="#f6f6f6" stroke="none" opacity="0.7"/>
<circle cx="498.4" cy="588.5" r="0.65" fill="#f6f6f6" stroke="none" opacity="1"/>
<circle cx="619.8" cy="560.2" r="0.65" fill="#f6f6f6" stroke="none" opacity="0.85"/>
<circle cx="529.9" cy="566.7" r="0.75" fill="#f6f6f6" stroke="none" opacity="0.85"/>
<circle cx="435.0" cy="540.2" r="0.75" fill="#f6f6f6" stroke="none" opacity="0.85"/>
<circle cx="587.9" cy="644.6" r="0.65" fill="#f6f6f6" stroke="none" opacity="0.85"/>
<circle cx="455.8" cy="596.0" r="0.95" fill="#f6f6f6" stroke="none" opacity="1"/>
<circle cx="479.1" cy="566.4" r="0.85" fill="#f6f6f6" stroke="none" opacity="1"/>
<circle cx="519.4" cy="525.4" r="0.95" fill="#f6f6f6" stroke="none" opacity="1"/>
<circle cx="512.9" cy="536.1" r="0.75" fill="#f6f6f6" stroke="none" opacity="0.85"/>
<circle cx="607.3" cy="560.3" r="0.95" fill="#f6f6f6" stroke="none" opacity="0.7"/>
<circle cx="483.6" cy="578.7" r="0.65" fill="#f6f6f6" stroke="none" opacity="1"/>
<circle cx="538.7" cy="571.6" r="0.55" fill="#f6f6f6" stroke="none" opacity="0.7"/>
<circle cx="459.1" cy="576.5" r="0.85" fill="#f6f6f6" stroke="none" opacity="0.85"/>
<circle cx="445.6" cy="547.0" r="0.95" fill="#f6f6f6" stroke="none" opacity="1"/>
<circle cx="589.2" cy="579.5" r="0.85" fill="#f6f6f6" stroke="none" opacity="1"/>
<circle cx="494.2" cy="649.5" r="0.75" fill="#f6f6f6" stroke="none" opacity="1"/>
<circle cx="621.0" cy="617.3" r="0.75" fill="#f6f6f6" stroke="none" opacity="1"/>
<circle cx="442.8" cy="569.1" r="0.65" fill="#f6f6f6" stroke="none" opacity="0.7"/>
<circle cx="518.8" cy="631.2" r="0.65" fill="#f6f6f6" stroke="none" opacity="1"/>
<circle cx="520.2" cy="549.7" r="0.55" fill="#f6f6f6" stroke="none" opacity="1"/>
<circle cx="504.4" cy="577.4" r="0.75" fill="#f6f6f6" stroke="none" opacity="0.85"/>
<circle cx="612.8" cy="621.2" r="0.55" fill="#f6f6f6" stroke="none" opacity="1"/>
<circle cx="533.9" cy="647.7" r="0.65" fill="#f6f6f6" stroke="none" opacity="1"/>
<circle cx="563.1" cy="639.6" r="0.95" fill="#f6f6f6" stroke="none" opacity="0.7"/>
<circle cx="572.5" cy="649.8" r="0.65" fill="#f6f6f6" stroke="none" opacity="1"/>
<circle cx="531.3" cy="651.5" r="0.85" fill="#f6f6f6" stroke="none" opacity="0.85"/>
<circle cx="577.9" cy="564.9" r="0.75" fill="#f6f6f6" stroke="none" opacity="1"/>
<circle cx="461.7" cy="636.5" r="0.95" fill="#f6f6f6" stroke="none" opacity="0.85"/>
<circle cx="499.0" cy="608.4" r="0.95" fill="#f6f6f6" stroke="none" opacity="1"/>
<circle cx="553.3" cy="554.7" r="0.55" fill="#f6f6f6" stroke="none" opacity="0.7"/>
<circle cx="454.9" cy="590.9" r="0.95" fill="#f6f6f6" stroke="none" opacity="1"/>
<circle cx="550.5" cy="563.4" r="0.95" fill="#f6f6f6" stroke="none" opacity="0.85"/>
<circle cx="512.0" cy="529.7" r="0.75" fill="#f6f6f6" stroke="none" opacity="1"/>
<circle cx="597.5" cy="566.5" r="0.85" fill="#f6f6f6" stroke="none" opacity="0.7"/>
<circle cx="621.1" cy="566.7" r="0.85" fill="#f6f6f6" stroke="none" opacity="0.7"/>
<circle cx="502.5" cy="574.5" r="0.55" fill="#f6f6f6" stroke="none" opacity="0.7"/>
<circle cx="568.7" cy="590.4" r="0.85" fill="#f6f6f6" stroke="none" opacity="0.85"/>
<circle cx="585.2" cy="568.9" r="0.75" fill="#f6f6f6" stroke="none" opacity="0.7"/>
<circle cx="615.1" cy="600.3" r="0.95" fill="#f6f6f6" stroke="none" opacity="0.85"/>
<circle cx="625.3" cy="600.0" r="0.65" fill="#f6f6f6" stroke="none" opacity="0.85"/>
<circle cx="560.4" cy="531.1" r="0.75" fill="#f6f6f6" stroke="none" opacity="0.85"/>
<circle cx="450.5" cy="635.6" r="0.95" fill="#f6f6f6" stroke="none" opacity="0.7"/>
<circle cx="547.2" cy="629.5" r="0.55" fill="#f6f6f6" stroke="none" opacity="0.85"/>
<circle cx="607.3" cy="630.9" r="0.65" fill="#f6f6f6" stroke="none" opacity="1"/>
<circle cx="526.8" cy="528.3" r="0.75" fill="#f6f6f6" stroke="none" opacity="0.7"/>
<circle cx="443.0" cy="539.2" r="0.75" fill="#f6f6f6" stroke="none" opacity="0.85"/>
<circle cx="479.0" cy="648.0" r="0.95" fill="#f6f6f6" stroke="none" opacity="0.7"/>
<circle cx="552.7" cy="604.4" r="0.75" fill="#f6f6f6" stroke="none" opacity="1"/>
<circle cx="530.6" cy="526.9" r="0.85" fill="#f6f6f6" stroke="none" opacity="0.7"/>
<circle cx="463.5" cy="641.4" r="0.75" fill="#f6f6f6" stroke="none" opacity="1"/>
<circle cx="573.4" cy="548.4" r="0.65" fill="#f6f6f6" stroke="none" opacity="0.85"/>
<circle cx="484.7" cy="567.5" r="0.95" fill="#f6f6f6" stroke="none" opacity="1"/>
<circle cx="492.9" cy="557.3" r="0.55" fill="#f6f6f6" stroke="none" opacity="0.85"/>
<circle cx="607.4" cy="624.1" r="0.65" fill="#f6f6f6" stroke="none" opacity="1"/>
<circle cx="502.7" cy="553.9" r="0.55" fill="#f6f6f6" stroke="none" opacity="1"/>
<circle cx="544.8" cy="601.0" r="0.95" fill="#f6f6f6" stroke="none" opacity="0.85"/>
<circle cx="599.2" cy="552.0" r="0.75" fill="#f6f6f6" stroke="none" opacity="0.7"/>
<circle cx="615.4" cy="571.0" r="0.75" fill="#f6f6f6" stroke="none" opacity="1"/>
<circle cx="486.6" cy="648.5" r="0.55" fill="#f6f6f6" stroke="none" opacity="0.7"/>
<circle cx="545.8" cy="601.8" r="0.95" fill="#f6f6f6" stroke="none" opacity="1"/>
<circle cx="599.7" cy="605.4" r="0.75" fill="#f6f6f6" stroke="none" opacity="0.85"/>
<circle cx="460.7" cy="648.6" r="0.65" fill="#f6f6f6" stroke="none" opacity="1"/>
<circle cx="467.0" cy="574.8" r="0.95" fill="#f6f6f6" stroke="none" opacity="1"/>
<circle cx="493.8" cy="528.6" r="0.95" fill="#f6f6f6" stroke="none" opacity="0.7"/>
<circle cx="438.4" cy="588.3" r="0.75" fill="#f6f6f6" stroke="none" opacity="0.85"/>
<circle cx="466.2" cy="642.2" r="0.55" fill="#f6f6f6" stroke="none" opacity="0.85"/>
<circle cx="464.7" cy="637.2" r="0.65" fill="#f6f6f6" stroke="none" opacity="0.7"/>
<circle cx="524.8" cy="555.4" r="0.95" fill="#f6f6f6" stroke="none" opacity="0.7"/>
<circle cx="607.4" cy="547.1" r="0.95" fill="#f6f6f6" stroke="none" opacity="0.7"/>
<circle cx="559.1" cy="649.2" r="0.55" fill="#f6f6f6" stroke="none" opacity="0.7"/>
<circle cx="614.3" cy="616.1" r="0.75" fill="#f6f6f6" stroke="none" opacity="1"/>
<circle cx="452.7" cy="535.4" r="0.85" fill="#f6f6f6" stroke="none" opacity="0.7"/>
<circle cx="513.7" cy="584.1" r="0.85" fill="#f6f6f6" stroke="none" opacity="0.7"/>
<circle cx="560.5" cy="637.8" r="0.85" fill="#f6f6f6" stroke="none" opacity="0.85"/>
<circle cx="477.6" cy="569.6" r="0.65" fill="#f6f6f6" stroke="none" opacity="0.7"/>
<circle cx="599.0" cy="562.7" r="0.75" fill="#f6f6f6" stroke="none" opacity="0.85"/>
<circle cx="604.4" cy="556.0" r="0.85" fill="#f6f6f6" stroke="none" opacity="0.7"/>
<circle cx="596.4" cy="615.3" r="0.85" fill="#f6f6f6" stroke="none" opacity="1"/>
<circle cx="489.7" cy="621.5" r="0.85" fill="#f6f6f6" stroke="none" opacity="0.7"/>
<circle cx="584.8" cy="568.5" r="0.75" fill="#f6f6f6" stroke="none" opacity="0.85"/>
<circle cx="608.3" cy="546.8" r="0.55" fill="#f6f6f6" stroke="none" opacity="0.7"/>
<circle cx="580.8" cy="537.4" r="0.95" fill="#f6f6f6" stroke="none" opacity="0.85"/>
<circle cx="584.0" cy="620.5" r="0.55" fill="#f6f6f6" stroke="none" opacity="0.7"/>
<circle cx="604.8" cy="548.0" r="0.65" fill="#f6f6f6" stroke="none" opacity="0.85"/>
<circle cx="540.9" cy="552.8" r="0.85" fill="#f6f6f6" stroke="none" opacity="1"/>
<circle cx="472.1" cy="637.1" r="0.95" fill="#f6f6f6" stroke="none" opacity="1"/>
<circle cx="495.1" cy="627.2" r="0.75" fill="#f6f6f6" stroke="none" opacity="1"/>
<circle cx="444.6" cy="526.1" r="0.65" fill="#f6f6f6" stroke="none" opacity="0.7"/>
<circle cx="466.2" cy="620.3" r="0.75" fill="#f6f6f6" stroke="none" opacity="0.7"/>
<circle cx="515.5" cy="528.1" r="0.65" fill="#f6f6f6" stroke="none" opacity="1"/>
<circle cx="586.8" cy="543.1" r="0.95" fill="#f6f6f6" stroke="none" opacity="0.7"/>
<circle cx="597.9" cy="606.6" r="0.75" fill="#f6f6f6" stroke="none" opacity="0.85"/>
<circle cx="543.9" cy="569.6" r="0.55" fill="#f6f6f6" stroke="none" opacity="0.7"/>
<circle cx="611.6" cy="621.2" r="0.55" fill="#f6f6f6" stroke="none" opacity="1"/>
<circle cx="446.1" cy="593.9" r="0.75" fill="#f6f6f6" stroke="none" opacity="0.85"/>
<circle cx="576.5" cy="632.3" r="0.85" fill="#f6f6f6" stroke="none" opacity="0.85"/>
<circle cx="623.5" cy="565.0" r="0.65" fill="#f6f6f6" stroke="none" opacity="0.85"/>
<circle cx="466.1" cy="579.4" r="0.65" fill="#f6f6f6" stroke="none" opacity="1"/>
<circle cx="557.4" cy="649.0" r="0.95" fill="#f6f6f6" stroke="none" opacity="0.85"/>
<circle cx="596.4" cy="589.4" r="0.75" fill="#f6f6f6" stroke="none" opacity="0.7"/>
<circle cx="536.0" cy="595.6" r="0.65" fill="#f6f6f6" stroke="none" opacity="1"/>
<circle cx="531.5" cy="587.5" r="0.65" fill="#f6f6f6" stroke="none" opacity="0.85"/>
<circle cx="474.0" cy="544.2" r="0.65" fill="#f6f6f6" stroke="none" opacity="0.85"/>
<circle cx="574.9" cy="529.9" r="0.95" fill="#f6f6f6" stroke="none" opacity="1"/>
<circle cx="598.7" cy="634.3" r="0.55" fill="#f6f6f6" stroke="none" opacity="1"/>
<circle cx="528.7" cy="528.4" r="0.85" fill="#f6f6f6" stroke="none" opacity="0.7"/>
<circle cx="529.1" cy="592.4" r="0.85" fill="#f6f6f6" stroke="none" opacity="1"/>
<circle cx="582.7" cy="632.0" r="0.95" fill="#f6f6f6" stroke="none" opacity="1"/>
<circle cx="441.6" cy="584.7" r="0.85" fill="#f6f6f6" stroke="none" opacity="0.7"/>
<circle cx="550.7" cy="642.1" r="0.85" fill="#f6f6f6" stroke="none" opacity="1"/>
<circle cx="526.3" cy="621.2" r="0.55" fill="#f6f6f6" stroke="none" opacity="1"/>
<circle cx="578.9" cy="575.8" r="0.95" fill="#f6f6f6" stroke="none" opacity="0.85"/>
<circle cx="520.5" cy="590.8" r="0.95" fill="#f6f6f6" stroke="none" opacity="1"/>
<circle cx="580.0" cy="623.1" r="0.55" fill="#f6f6f6" stroke="none" opacity="1"/>
<circle cx="543.4" cy="600.5" r="0.95" fill="#f6f6f6" stroke="none" opacity="0.7"/>
<circle cx="558.4" cy="604.1" r="0.55" fill="#f6f6f6" stroke="none" opacity="1"/>
<circle cx="496.0" cy="558.5" r="0.55" fill="#f6f6f6" stroke="none" opacity="0.85"/>
<circle cx="622.3" cy="616.7" r="0.85" fill="#f6f6f6" stroke="none" opacity="0.7"/>
<circle cx="574.0" cy="528.6" r="0.85" fill="#f6f6f6" stroke="none" opacity="0.7"/>
<circle cx="588.7" cy="645.0" r="0.75" fill="#f6f6f6" stroke="none" opacity="0.7"/>
<circle cx="457.1" cy="528.9" r="0.55" fill="#f6f6f6" stroke="none" opacity="0.7"/>
<circle cx="495.0" cy="553.7" r="0.55" fill="#f6f6f6" stroke="none" opacity="0.85"/>
<circle cx="585.1" cy="636.2" r="0.65" fill="#f6f6f6" stroke="none" opacity="0.7"/>
<circle cx="532.7" cy="579.7" r="0.95" fill="#f6f6f6" stroke="none" opacity="0.85"/>
<circle cx="540.9" cy="613.9" r="0.95" fill="#f6f6f6" stroke="none" opacity="1"/>
<circle cx="474.4" cy="591.3" r="0.65" fill="#f6f6f6" stroke="none" opacity="1"/>
<circle cx="492.9" cy="533.9" r="0.95" fill="#f6f6f6" stroke="none" opacity="1"/>
<circle cx="563.8" cy="627.1" r="0.95" fill="#f6f6f6" stroke="none" opacity="1"/>
<circle cx="467.5" cy="643.9" r="0.65" fill="#f6f6f6" stroke="none" opacity="0.7"/>
<circle cx="558.9" cy="636.5" r="0.75" fill="#f6f6f6" stroke="none" opacity="1"/>
<circle cx="541.9" cy="578.6" r="0.65" fill="#f6f6f6" stroke="none" opacity="0.7"/>
<circle cx="487.3" cy="531.5" r="0.95" fill="#f6f6f6" stroke="none" opacity="0.85"/>
<circle cx="594.4" cy="567.0" r="0.75" fill="#f6f6f6" stroke="none" opacity="0.85"/>
<circle cx="559.1" cy="597.1" r="0.95" fill="#f6f6f6" stroke="none" opacity="0.7"/>
<circle cx="518.3" cy="639.1" r="0.85" fill="#f6f6f6" stroke="none" opacity="1"/>
<circle cx="617.3" cy="584.1" r="0.65" fill="#f6f6f6" stroke="none" opacity="0.85"/>
<circle cx="609.3" cy="553.9" r="0.95" fill="#f6f6f6" stroke="none" opacity="0.85"/>
<circle cx="496.9" cy="632.1" r="0.85" fill="#f6f6f6" stroke="none" opacity="1"/>
<circle cx="464.2" cy="647.2" r="0.55" fill="#f6f6f6" stroke="none" opacity="0.85"/>
<circle cx="440.9" cy="569.5" r="0.65" fill="#f6f6f6" stroke="none" opacity="1"/>
<circle cx="577.3" cy="552.1" r="0.55" fill="#f6f6f6" stroke="none" opacity="0.7"/>
<circle cx="501.0" cy="641.1" r="0.95" fill="#f6f6f6" stroke="none" opacity="0.7"/>
<circle cx="568.4" cy="535.3" r="0.65" fill="#f6f6f6" stroke="none" opacity="1"/>
<circle cx="571.6" cy="644.4" r="0.95" fill="#f6f6f6" stroke="none" opacity="0.7"/>
<circle cx="514.6" cy="616.8" r="0.75" fill="#f6f6f6" stroke="none" opacity="0.7"/>
<circle cx="497.1" cy="618.6" r="0.55" fill="#f6f6f6" stroke="none" opacity="0.85"/>
<circle cx="450.2" cy="535.1" r="0.75" fill="#f6f6f6" stroke="none" opacity="0.7"/>
<circle cx="629.2" cy="589.4" r="0.85" fill="#f6f6f6" stroke="none" opacity="0.85"/>
<circle cx="513.7" cy="616.4" r="0.95" fill="#f6f6f6" stroke="none" opacity="0.85"/>
<circle cx="612.8" cy="618.6" r="0.95" fill="#f6f6f6" stroke="none" opacity="0.85"/>
<circle cx="573.3" cy="538.9" r="0.85" fill="#f6f6f6" stroke="none" opacity="1"/>
<circle cx="486.4" cy="623.7" r="0.55" fill="#f6f6f6" stroke="none" opacity="1"/>
<circle cx="455.3" cy="528.6" r="0.75" fill="#f6f6f6" stroke="none" opacity="0.7"/>
<circle cx="529.3" cy="646.8" r="0.65" fill="#f6f6f6" stroke="none" opacity="0.7"/>
<circle cx="464.7" cy="605.1" r="0.95" fill="#f6f6f6" stroke="none" opacity="1"/>
<circle cx="582.2" cy="529.1" r="0.85" fill="#f6f6f6" stroke="none" opacity="0.7"/>
<circle cx="523.4" cy="597.4" r="0.95" fill="#f6f6f6" stroke="none" opacity="1"/>
<circle cx="512.4" cy="619.9" r="0.75" fill="#f6f6f6" stroke="none" opacity="1"/>
<circle cx="486.1" cy="582.6" r="0.85" fill="#f6f6f6" stroke="none" opacity="0.85"/>
<circle cx="553.7" cy="649.3" r="0.85" fill="#f6f6f6" stroke="none" opacity="0.85"/>
<circle cx="526.5" cy="589.6" r="0.75" fill="#f6f6f6" stroke="none" opacity="0.7"/>
<circle cx="509.0" cy="590.8" r="0.75" fill="#f6f6f6" stroke="none" opacity="0.85"/>
<circle cx="580.0" cy="639.6" r="0.75" fill="#f6f6f6" stroke="none" opacity="0.7"/>
<circle cx="497.7" cy="641.3" r="0.55" fill="#f6f6f6" stroke="none" opacity="0.7"/>
<circle cx="601.7" cy="608.8" r="0.65" fill="#f6f6f6" stroke="none" opacity="0.85"/>
<circle cx="535.9" cy="588.3" r="0.75" fill="#f6f6f6" stroke="none" opacity="1"/>
<circle cx="467.0" cy="538.5" r="0.75" fill="#f6f6f6" stroke="none" opacity="0.7"/>
<circle cx="599.6" cy="558.5" r="0.95" fill="#f6f6f6" stroke="none" opacity="0.85"/>
<circle cx="607.9" cy="618.0" r="0.95" fill="#f6f6f6" stroke="none" opacity="1"/>
<circle cx="538.1" cy="528.7" r="0.55" fill="#f6f6f6" stroke="none" opacity="0.85"/>
<circle cx="465.6" cy="581.7" r="0.55" fill="#f6f6f6" stroke="none" opacity="1"/>
<circle cx="446.6" cy="646.2" r="0.95" fill="#f6f6f6" stroke="none" opacity="1"/>
<circle cx="548.4" cy="581.6" r="0.55" fill="#f6f6f6" stroke="none" opacity="1"/>
<circle cx="624.3" cy="575.3" r="0.75" fill="#f6f6f6" stroke="none" opacity="0.85"/>
<circle cx="449.2" cy="628.3" r="0.65" fill="#f6f6f6" stroke="none" opacity="1"/>
<circle cx="605.4" cy="606.8" r="0.85" fill="#f6f6f6" stroke="none" opacity="0.7"/>
<circle cx="494.8" cy="612.7" r="0.85" fill="#f6f6f6" stroke="none" opacity="0.7"/>
<circle cx="566.6" cy="647.8" r="0.95" fill="#f6f6f6" stroke="none" opacity="0.85"/>
<circle cx="490.7" cy="573.6" r="0.85" fill="#f6f6f6" stroke="none" opacity="0.85"/>
<circle cx="454.3" cy="650.3" r="0.95" fill="#f6f6f6" stroke="none" opacity="1"/>
<circle cx="507.1" cy="555.5" r="0.55" fill="#f6f6f6" stroke="none" opacity="0.7"/>
<circle cx="520.6" cy="540.4" r="0.75" fill="#f6f6f6" stroke="none" opacity="0.85"/>
<circle cx="462.0" cy="550.6" r="0.85" fill="#f6f6f6" stroke="none" opacity="0.85"/>
<circle cx="584.2" cy="636.5" r="0.95" fill="#f6f6f6" stroke="none" opacity="0.85"/>
<circle cx="597.2" cy="604.7" r="0.65" fill="#f6f6f6" stroke="none" opacity="0.85"/>
<circle cx="609.3" cy="551.3" r="0.85" fill="#f6f6f6" stroke="none" opacity="0.7"/>
<circle cx="576.6" cy="573.1" r="0.75" fill="#f6f6f6" stroke="none" opacity="1"/>
<circle cx="586.6" cy="634.7" r="0.65" fill="#f6f6f6" stroke="none" opacity="1"/>
<circle cx="521.3" cy="614.9" r="0.95" fill="#f6f6f6" stroke="none" opacity="0.7"/>
<circle cx="552.9" cy="546.3" r="0.55" fill="#f6f6f6" stroke="none" opacity="1"/>
<circle cx="612.3" cy="575.6" r="0.85" fill="#f6f6f6" stroke="none" opacity="1"/>
<circle cx="609.9" cy="618.6" r="0.55" fill="#f6f6f6" stroke="none" opacity="0.7"/>
<circle cx="580.9" cy="628.1" r="0.85" fill="#f6f6f6" stroke="none" opacity="1"/>
<circle cx="585.0" cy="540.5" r="0.95" fill="#f6f6f6" stroke="none" opacity="0.7"/>
<circle cx="568.9" cy="606.6" r="0.95" fill="#f6f6f6" stroke="none" opacity="0.85"/>
<circle cx="440.2" cy="615.2" r="0.55" fill="#f6f6f6" stroke="none" opacity="0.85"/>
<circle cx="521.2" cy="625.0" r="0.75" fill="#f6f6f6" stroke="none" opacity="1"/>
<circle cx="598.1" cy="556.4" r="0.95" fill="#f6f6f6" stroke="none" opacity="0.7"/>
<circle cx="532.5" cy="596.4" r="0.55" fill="#f6f6f6" stroke="none" opacity="1"/>
<circle cx="564.2" cy="563.3" r="0.55" fill="#f6f6f6" stroke="none" opacity="0.7"/>
<circle cx="579.4" cy="528.9" r="0.95" fill="#f6f6f6" stroke="none" opacity="1"/>
<circle cx="481.0" cy="542.8" r="0.55" fill="#f6f6f6" stroke="none" opacity="0.85"/>
<circle cx="578.0" cy="538.4" r="0.85" fill="#f6f6f6" stroke="none" opacity="0.7"/>
<circle cx="481.3" cy="593.7" r="0.75" fill="#f6f6f6" stroke="none" opacity="0.7"/>
<circle cx="531.3" cy="555.7" r="0.55" fill="#f6f6f6" stroke="none" opacity="0.85"/>
<circle cx="545.3" cy="566.3" r="0.65" fill="#f6f6f6" stroke="none" opacity="1"/>
<circle cx="550.0" cy="602.4" r="0.65" fill="#f6f6f6" stroke="none" opacity="0.85"/>
<circle cx="615.7" cy="626.1" r="0.95" fill="#f6f6f6" stroke="none" opacity="0.7"/>
<circle cx="477.0" cy="624.0" r="0.95" fill="#f6f6f6" stroke="none" opacity="0.85"/>
<circle cx="474.6" cy="535.1" r="0.85" fill="#f6f6f6" stroke="none" opacity="1"/>
<circle cx="568.8" cy="643.4" r="0.95" fill="#f6f6f6" stroke="none" opacity="0.7"/>
<circle cx="566.8" cy="541.0" r="0.75" fill="#f6f6f6" stroke="none" opacity="0.85"/>
<circle cx="620.9" cy="580.9" r="0.95" fill="#f6f6f6" stroke="none" opacity="0.7"/>
<circle cx="517.1" cy="613.5" r="0.55" fill="#f6f6f6" stroke="none" opacity="1"/>
<circle cx="453.0" cy="643.9" r="0.85" fill="#f6f6f6" stroke="none" opacity="0.7"/>
<circle cx="503.9" cy="561.4" r="0.55" fill="#f6f6f6" stroke="none" opacity="0.7"/>
<circle cx="545.3" cy="623.8" r="0.95" fill="#f6f6f6" stroke="none" opacity="0.85"/>
<circle cx="443.6" cy="613.7" r="0.95" fill="#f6f6f6" stroke="none" opacity="0.7"/>
<circle cx="574.0" cy="606.0" r="0.65" fill="#f6f6f6" stroke="none" opacity="0.85"/>
<circle cx="560.1" cy="528.3" r="0.95" fill="#f6f6f6" stroke="none" opacity="1"/>
<circle cx="523.7" cy="549.2" r="0.55" fill="#f6f6f6" stroke="none" opacity="0.7"/>
<circle cx="577.5" cy="638.3" r="0.95" fill="#f6f6f6" stroke="none" opacity="0.85"/>
<circle cx="594.0" cy="611.8" r="0.95" fill="#f6f6f6" stroke="none" opacity="0.85"/>
<circle cx="567.7" cy="549.8" r="0.95" fill="#f6f6f6" stroke="none" opacity="1"/>
<circle cx="489.0" cy="535.5" r="0.85" fill="#f6f6f6" stroke="none" opacity="1"/>
<circle cx="536.9" cy="603.6" r="0.65" fill="#f6f6f6" stroke="none" opacity="0.85"/>
<circle cx="503.8" cy="602.4" r="0.95" fill="#f6f6f6" stroke="none" opacity="0.85"/>
<circle cx="464.2" cy="580.7" r="0.85" fill="#f6f6f6" stroke="none" opacity="0.7"/>
<circle cx="447.5" cy="608.9" r="0.55" fill="#f6f6f6" stroke="none" opacity="0.7"/>
<circle cx="555.0" cy="604.2" r="0.65" fill="#f6f6f6" stroke="none" opacity="1"/>
<circle cx="478.9" cy="651.9" r="0.95" fill="#f6f6f6" stroke="none" opacity="1"/>
<circle cx="555.5" cy="644.6" r="0.75" fill="#f6f6f6" stroke="none" opacity="0.85"/>
<circle cx="605.9" cy="621.6" r="0.65" fill="#f6f6f6" stroke="none" opacity="0.85"/>
<circle cx="446.5" cy="631.3" r="0.95" fill="#f6f6f6" stroke="none" opacity="0.7"/>
<circle cx="457.4" cy="627.9" r="0.55" fill="#f6f6f6" stroke="none" opacity="1"/>
<circle cx="603.4" cy="542.9" r="0.95" fill="#f6f6f6" stroke="none" opacity="0.85"/>
<circle cx="586.5" cy="619.1" r="0.55" fill="#f6f6f6" stroke="none" opacity="1"/>
<circle cx="608.9" cy="566.5" r="0.95" fill="#f6f6f6" stroke="none" opacity="0.7"/>
<circle cx="601.1" cy="590.1" r="0.85" fill="#f6f6f6" stroke="none" opacity="1"/>
<circle cx="459.1" cy="602.2" r="0.65" fill="#f6f6f6" stroke="none" opacity="1"/>
<circle cx="617.0" cy="588.9" r="0.85" fill="#f6f6f6" stroke="none" opacity="1"/>
<circle cx="527.0" cy="582.2" r="0.75" fill="#f6f6f6" stroke="none" opacity="0.85"/>
<circle cx="535.5" cy="617.3" r="0.55" fill="#f6f6f6" stroke="none" opacity="1"/>
<circle cx="562.2" cy="650.4" r="0.65" fill="#f6f6f6" stroke="none" opacity="1"/>
<circle cx="506.1" cy="586.3" r="0.65" fill="#f6f6f6" stroke="none" opacity="1"/>
<circle cx="582.9" cy="644.5" r="0.75" fill="#f6f6f6" stroke="none" opacity="1"/>
<circle cx="628.4" cy="596.9" r="0.75" fill="#f6f6f6" stroke="none" opacity="0.85"/>
<circle cx="451.2" cy="590.8" r="0.85" fill="#f6f6f6" stroke="none" opacity="0.7"/>
<circle cx="514.4" cy="590.0" r="0.95" fill="#f6f6f6" stroke="none" opacity="0.7"/>
<circle cx="499.7" cy="583.2" r="0.85" fill="#f6f6f6" stroke="none" opacity="0.85"/>
<circle cx="463.8" cy="642.1" r="0.95" fill="#f6f6f6" stroke="none" opacity="0.85"/>
<circle cx="575.0" cy="617.5" r="0.95" fill="#f6f6f6" stroke="none" opacity="0.7"/>
<circle cx="498.7" cy="543.1" r="0.95" fill="#f6f6f6" stroke="none" opacity="0.7"/>
<circle cx="445.6" cy="632.0" r="0.55" fill="#f6f6f6" stroke="none" opacity="0.85"/>
<circle cx="466.0" cy="647.1" r="0.65" fill="#f6f6f6" stroke="none" opacity="0.7"/>
<circle cx="591.4" cy="629.0" r="0.65" fill="#f6f6f6" stroke="none" opacity="0.85"/>
<circle cx="588.1" cy="639.7" r="0.55" fill="#f6f6f6" stroke="none" opacity="1"/>
<circle cx="503.4" cy="579.0" r="0.65" fill="#f6f6f6" stroke="none" opacity="1"/>
<circle cx="575.4" cy="591.2" r="0.85" fill="#f6f6f6" stroke="none" opacity="0.85"/>
<circle cx="550.2" cy="638.7" r="0.75" fill="#f6f6f6" stroke="none" opacity="0.85"/>
<circle cx="552.8" cy="645.6" r="0.85" fill="#f6f6f6" stroke="none" opacity="0.7"/>
<circle cx="519.6" cy="538.9" r="0.65" fill="#f6f6f6" stroke="none" opacity="0.7"/>
<circle cx="498.2" cy="640.0" r="0.95" fill="#f6f6f6" stroke="none" opacity="0.7"/>
<circle cx="517.4" cy="603.9" r="0.65" fill="#f6f6f6" stroke="none" opacity="1"/>
<circle cx="552.6" cy="526.7" r="0.65" fill="#f6f6f6" stroke="none" opacity="0.7"/>
<circle cx="460.1" cy="614.3" r="0.85" fill="#f6f6f6" stroke="none" opacity="1"/>
<circle cx="563.2" cy="605.7" r="0.85" fill="#f6f6f6" stroke="none" opacity="1"/>
<circle cx="609.3" cy="619.0" r="0.95" fill="#f6f6f6" stroke="none" opacity="0.85"/>
<circle cx="548.5" cy="538.5" r="0.65" fill="#f6f6f6" stroke="none" opacity="0.85"/>
<circle cx="583.9" cy="582.3" r="0.85" fill="#f6f6f6" stroke="none" opacity="0.7"/>
<circle cx="552.2" cy="599.9" r="0.75" fill="#f6f6f6" stroke="none" opacity="0.85"/>
<circle cx="469.9" cy="561.3" r="0.75" fill="#f6f6f6" stroke="none" opacity="0.85"/>
<circle cx="571.2" cy="572.9" r="0.75" fill="#f6f6f6" stroke="none" opacity="1"/>
<circle cx="554.6" cy="584.6" r="0.55" fill="#f6f6f6" stroke="none" opacity="0.7"/>
<circle cx="583.5" cy="601.0" r="0.95" fill="#f6f6f6" stroke="none" opacity="0.7"/>
<circle cx="574.1" cy="604.8" r="0.85" fill="#f6f6f6" stroke="none" opacity="0.85"/>
<circle cx="495.4" cy="529.9" r="0.95" fill="#f6f6f6" stroke="none" opacity="0.7"/>
<circle cx="610.3" cy="559.6" r="0.85" fill="#f6f6f6" stroke="none" opacity="0.7"/>
<circle cx="622.9" cy="563.6" r="0.65" fill="#f6f6f6" stroke="none" opacity="0.85"/>
<circle cx="602.1" cy="537.8" r="0.75" fill="#f6f6f6" stroke="none" opacity="0.85"/>
<circle cx="473.0" cy="525.8" r="0.95" fill="#f6f6f6" stroke="none" opacity="0.85"/>
<circle cx="537.2" cy="530.2" r="0.85" fill="#f6f6f6" stroke="none" opacity="1"/>
<circle cx="605.1" cy="626.2" r="0.95" fill="#f6f6f6" stroke="none" opacity="1"/>
<circle cx="443.9" cy="588.8" r="0.55" fill="#f6f6f6" stroke="none" opacity="0.85"/>
<circle cx="457.9" cy="573.8" r="0.75" fill="#f6f6f6" stroke="none" opacity="1"/>
<circle cx="514.8" cy="592.1" r="0.75" fill="#f6f6f6" stroke="none" opacity="0.7"/>
<circle cx="477.1" cy="570.9" r="0.95" fill="#f6f6f6" stroke="none" opacity="0.85"/>
<circle cx="567.1" cy="649.4" r="0.75" fill="#f6f6f6" stroke="none" opacity="0.85"/>
<circle cx="524.5" cy="635.9" r="0.65" fill="#f6f6f6" stroke="none" opacity="0.7"/>
<circle cx="562.1" cy="626.6" r="0.95" fill="#f6f6f6" stroke="none" opacity="0.7"/>
<circle cx="573.0" cy="630.5" r="0.95" fill="#f6f6f6" stroke="none" opacity="1"/>
<circle cx="457.2" cy="527.5" r="0.65" fill="#f6f6f6" stroke="none" opacity="0.85"/>
<circle cx="460.4" cy="560.9" r="0.85" fill="#f6f6f6" stroke="none" opacity="1"/>
<circle cx="536.1" cy="602.0" r="0.65" fill="#f6f6f6" stroke="none" opacity="1"/>
<circle cx="500.8" cy="561.1" r="0.55" fill="#f6f6f6" stroke="none" opacity="0.7"/>
<circle cx="450.6" cy="592.6" r="0.65" fill="#f6f6f6" stroke="none" opacity="0.85"/>
<circle cx="556.1" cy="643.8" r="0.95" fill="#f6f6f6" stroke="none" opacity="1"/>
<circle cx="607.4" cy="564.9" r="0.55" fill="#f6f6f6" stroke="none" opacity="0.85"/>
<circle cx="614.1" cy="611.6" r="0.65" fill="#f6f6f6" stroke="none" opacity="0.7"/>
<circle cx="439.3" cy="532.4" r="0.75" fill="#f6f6f6" stroke="none" opacity="1"/>
<circle cx="583.5" cy="530.4" r="0.95" fill="#f6f6f6" stroke="none" opacity="0.85"/>
<circle cx="443.2" cy="535.3" r="0.95" fill="#f6f6f6" stroke="none" opacity="0.7"/>
<circle cx="487.6" cy="552.3" r="0.95" fill="#f6f6f6" stroke="none" opacity="0.7"/>
<circle cx="556.3" cy="581.4" r="0.75" fill="#f6f6f6" stroke="none" opacity="0.7"/>
<circle cx="465.8" cy="530.0" r="0.85" fill="#f6f6f6" stroke="none" opacity="0.85"/>
<circle cx="460.5" cy="599.0" r="0.75" fill="#f6f6f6" stroke="none" opacity="0.7"/>
<circle cx="526.6" cy="583.5" r="0.65" fill="#f6f6f6" stroke="none" opacity="1"/>
<circle cx="467.0" cy="651.2" r="0.85" fill="#f6f6f6" stroke="none" opacity="0.85"/>
<circle cx="448.9" cy="640.0" r="0.75" fill="#f6f6f6" stroke="none" opacity="0.85"/>
<circle cx="618.1" cy="605.2" r="0.95" fill="#f6f6f6" stroke="none" opacity="1"/>
<circle cx="447.9" cy="555.4" r="0.65" fill="#f6f6f6" stroke="none" opacity="0.85"/>
<circle cx="480.1" cy="650.9" r="0.75" fill="#f6f6f6" stroke="none" opacity="0.7"/>
<circle cx="462.2" cy="540.4" r="0.75" fill="#f6f6f6" stroke="none" opacity="0.85"/>
<circle cx="572.2" cy="638.3" r="0.95" fill="#f6f6f6" stroke="none" opacity="0.7"/>
<circle cx="542.5" cy="593.2" r="0.85" fill="#f6f6f6" stroke="none" opacity="0.85"/>
<circle cx="569.5" cy="638.4" r="0.55" fill="#f6f6f6" stroke="none" opacity="1"/>
<circle cx="544.2" cy="650.2" r="0.55" fill="#f6f6f6" stroke="none" opacity="0.7"/>
<circle cx="577.0" cy="591.1" r="0.85" fill="#f6f6f6" stroke="none" opacity="0.85"/>
<circle cx="585.5" cy="584.5" r="0.95" fill="#f6f6f6" stroke="none" opacity="1"/>
<circle cx="588.3" cy="553.0" r="0.75" fill="#f6f6f6" stroke="none" opacity="0.85"/>
<circle cx="541.0" cy="599.4" r="0.75" fill="#f6f6f6" stroke="none" opacity="0.85"/>
<circle cx="626.7" cy="600.5" r="0.55" fill="#f6f6f6" stroke="none" opacity="0.7"/>
<circle cx="456.4" cy="623.2" r="0.65" fill="#f6f6f6" stroke="none" opacity="0.7"/>
<circle cx="556.3" cy="600.6" r="0.75" fill="#f6f6f6" stroke="none" opacity="1"/>
<circle cx="560.6" cy="601.9" r="0.95" fill="#f6f6f6" stroke="none" opacity="1"/>
<circle cx="543.5" cy="557.1" r="0.75" fill="#f6f6f6" stroke="none" opacity="0.7"/>
<circle cx="534.5" cy="578.0" r="0.55" fill="#f6f6f6" stroke="none" opacity="1"/>
<circle cx="467.3" cy="548.8" r="0.55" fill="#f6f6f6" stroke="none" opacity="0.7"/>
<circle cx="574.3" cy="634.9" r="0.85" fill="#f6f6f6" stroke="none" opacity="1"/>
<circle cx="593.0" cy="637.2" r="0.55" fill="#f6f6f6" stroke="none" opacity="0.7"/>
<circle cx="444.8" cy="532.7" r="0.85" fill="#f6f6f6" stroke="none" opacity="1"/>
<circle cx="499.0" cy="624.7" r="0.55" fill="#f6f6f6" stroke="none" opacity="0.85"/>
<circle cx="565.4" cy="614.3" r="0.55" fill="#f6f6f6" stroke="none" opacity="0.85"/>
<circle cx="535.8" cy="574.9" r="0.95" fill="#f6f6f6" stroke="none" opacity="0.7"/>
<circle cx="613.0" cy="559.9" r="0.95" fill="#f6f6f6" stroke="none" opacity="0.85"/>
<circle cx="546.4" cy="528.6" r="0.65" fill="#f6f6f6" stroke="none" opacity="1"/>
<circle cx="583.5" cy="553.4" r="0.95" fill="#f6f6f6" stroke="none" opacity="0.7"/>
<circle cx="547.7" cy="575.8" r="0.85" fill="#f6f6f6" stroke="none" opacity="1"/>
<circle cx="612.5" cy="547.8" r="0.55" fill="#f6f6f6" stroke="none" opacity="1"/>
<circle cx="455.9" cy="537.8" r="0.75" fill="#f6f6f6" stroke="none" opacity="0.7"/>
<circle cx="493.4" cy="648.6" r="0.95" fill="#f6f6f6" stroke="none" opacity="1"/>
<circle cx="551.4" cy="616.7" r="0.55" fill="#f6f6f6" stroke="none" opacity="0.85"/>
<circle cx="550.9" cy="537.1" r="0.55" fill="#f6f6f6" stroke="none" opacity="1"/>
<circle cx="602.3" cy="610.0" r="0.85" fill="#f6f6f6" stroke="none" opacity="0.7"/>
<circle cx="441.6" cy="645.1" r="0.55" fill="#f6f6f6" stroke="none" opacity="0.85"/>
<circle cx="495.5" cy="561.4" r="0.55" fill="#f6f6f6" stroke="none" opacity="1"/>
<circle cx="558.8" cy="570.3" r="0.95" fill="#f6f6f6" stroke="none" opacity="0.85"/>
<circle cx="495.4" cy="583.8" r="0.85" fill="#f6f6f6" stroke="none" opacity="1"/>
<circle cx="476.7" cy="554.5" r="0.65" fill="#f6f6f6" stroke="none" opacity="0.7"/>
<circle cx="551.0" cy="586.2" r="0.75" fill="#f6f6f6" stroke="none" opacity="0.85"/>
<circle cx="591.6" cy="577.2" r="0.85" fill="#f6f6f6" stroke="none" opacity="1"/>
<circle cx="542.4" cy="635.7" r="0.55" fill="#f6f6f6" stroke="none" opacity="0.85"/>
<circle cx="608.7" cy="553.5" r="0.85" fill="#f6f6f6" stroke="none" opacity="0.7"/>
<circle cx="494.0" cy="610.8" r="0.85" fill="#f6f6f6" stroke="none" opacity="0.7"/>
<circle cx="591.3" cy="534.7" r="0.85" fill="#f6f6f6" stroke="none" opacity="0.7"/>
<circle cx="516.7" cy="580.9" r="0.65" fill="#f6f6f6" stroke="none" opacity="1"/>
<circle cx="618.6" cy="617.4" r="0.55" fill="#f6f6f6" stroke="none" opacity="0.85"/>
<circle cx="580.3" cy="544.2" r="0.75" fill="#f6f6f6" stroke="none" opacity="0.7"/>
<circle cx="575.5" cy="554.2" r="0.85" fill="#f6f6f6" stroke="none" opacity="0.85"/>
<circle cx="564.8" cy="575.5" r="0.85" fill="#f6f6f6" stroke="none" opacity="0.85"/>
<circle cx="511.7" cy="541.3" r="0.95" fill="#f6f6f6" stroke="none" opacity="0.85"/>
<circle cx="548.6" cy="590.6" r="0.75" fill="#f6f6f6" stroke="none" opacity="0.85"/>
<circle cx="569.3" cy="644.1" r="0.55" fill="#f6f6f6" stroke="none" opacity="0.85"/>
<circle cx="479.1" cy="602.9" r="0.55" fill="#f6f6f6" stroke="none" opacity="0.7"/>
<circle cx="505.8" cy="564.4" r="0.55" fill="#f6f6f6" stroke="none" opacity="0.7"/>
<circle cx="506.1" cy="551.8" r="0.85" fill="#f6f6f6" stroke="none" opacity="0.85"/>
<circle cx="600.9" cy="621.3" r="0.55" fill="#f6f6f6" stroke="none" opacity="0.7"/>
<circle cx="610.2" cy="549.8" r="0.85" fill="#f6f6f6" stroke="none" opacity="1"/>
<circle cx="525.6" cy="634.0" r="0.55" fill="#f6f6f6" stroke="none" opacity="1"/>
<circle cx="506.9" cy="530.4" r="0.75" fill="#f6f6f6" stroke="none" opacity="0.7"/>
<circle cx="489.6" cy="540.5" r="0.85" fill="#f6f6f6" stroke="none" opacity="0.85"/>
<circle cx="555.6" cy="537.5" r="0.75" fill="#f6f6f6" stroke="none" opacity="1"/>
<circle cx="574.7" cy="611.5" r="0.55" fill="#f6f6f6" stroke="none" opacity="1"/>
<circle cx="450.6" cy="581.7" r="0.55" fill="#f6f6f6" stroke="none" opacity="0.7"/>
<circle cx="608.4" cy="557.7" r="0.85" fill="#f6f6f6" stroke="none" opacity="0.85"/>
<circle cx="482.0" cy="584.6" r="0.55" fill="#f6f6f6" stroke="none" opacity="1"/>
<circle cx="598.3" cy="627.4" r="0.75" fill="#f6f6f6" stroke="none" opacity="0.7"/>
<circle cx="550.5" cy="599.7" r="0.55" fill="#f6f6f6" stroke="none" opacity="0.85"/>
<circle cx="490.0" cy="574.1" r="0.95" fill="#f6f6f6" stroke="none" opacity="0.85"/>
<circle cx="481.9" cy="548.0" r="0.55" fill="#f6f6f6" stroke="none" opacity="0.7"/>
<circle cx="585.4" cy="645.0" r="0.85" fill="#f6f6f6" stroke="none" opacity="1"/>
<circle cx="519.3" cy="576.5" r="0.55" fill="#f6f6f6" stroke="none" opacity="0.85"/>
<circle cx="491.7" cy="605.1" r="0.55" fill="#f6f6f6" stroke="none" opacity="0.85"/>
<circle cx="544.5" cy="562.0" r="0.75" fill="#f6f6f6" stroke="none" opacity="1"/>
<circle cx="478.9" cy="638.9" r="0.85" fill="#f6f6f6" stroke="none" opacity="0.7"/>
<circle cx="601.3" cy="583.8" r="0.65" fill="#f6f6f6" stroke="none" opacity="0.7"/>
<circle cx="542.7" cy="608.5" r="0.65" fill="#f6f6f6" stroke="none" opacity="0.7"/>
<circle cx="584.8" cy="528.3" r="0.85" fill="#f6f6f6" stroke="none" opacity="0.7"/>
<circle cx="618.5" cy="576.6" r="0.95" fill="#f6f6f6" stroke="none" opacity="0.7"/>
<circle cx="572.8" cy="641.4" r="0.55" fill="#f6f6f6" stroke="none" opacity="0.85"/>
<circle cx="588.3" cy="550.3" r="0.55" fill="#f6f6f6" stroke="none" opacity="1"/>
<circle cx="567.7" cy="594.2" r="0.85" fill="#f6f6f6" stroke="none" opacity="0.7"/>
<circle cx="603.6" cy="569.2" r="0.75" fill="#f6f6f6" stroke="none" opacity="0.7"/>
<circle cx="476.0" cy="607.0" r="0.75" fill="#f6f6f6" stroke="none" opacity="0.7"/>
<circle cx="457.6" cy="639.4" r="0.75" fill="#f6f6f6" stroke="none" opacity="1"/>
<circle cx="439.1" cy="531.7" r="0.55" fill="#f6f6f6" stroke="none" opacity="0.85"/>
<circle cx="573.7" cy="628.7" r="0.85" fill="#f6f6f6" stroke="none" opacity="1"/>
<circle cx="555.3" cy="629.1" r="0.75" fill="#f6f6f6" stroke="none" opacity="0.7"/>
<circle cx="600.6" cy="555.0" r="0.95" fill="#f6f6f6" stroke="none" opacity="1"/>
<circle cx="460.6" cy="530.1" r="0.95" fill="#f6f6f6" stroke="none" opacity="0.7"/>
<circle cx="568.7" cy="539.0" r="0.65" fill="#f6f6f6" stroke="none" opacity="0.85"/>
<circle cx="447.5" cy="531.3" r="0.85" fill="#f6f6f6" stroke="none" opacity="0.7"/>
<circle cx="619.1" cy="557.9" r="0.85" fill="#f6f6f6" stroke="none" opacity="0.85"/>
<circle cx="479.1" cy="545.5" r="0.85" fill="#f6f6f6" stroke="none" opacity="0.85"/>
<circle cx="458.1" cy="648.1" r="0.85" fill="#f6f6f6" stroke="none" opacity="1"/>
<circle cx="503.8" cy="646.8" r="0.75" fill="#f6f6f6" stroke="none" opacity="0.85"/>
<circle cx="627.8" cy="592.9" r="0.95" fill="#f6f6f6" stroke="none" opacity="0.7"/>
<circle cx="460.5" cy="550.2" r="0.95" fill="#f6f6f6" stroke="none" opacity="0.85"/>
<circle cx="579.9" cy="641.0" r="0.95" fill="#f6f6f6" stroke="none" opacity="0.85"/>
<circle cx="609.1" cy="555.8" r="0.85" fill="#f6f6f6" stroke="none" opacity="0.85"/>
<circle cx="532.8" cy="530.3" r="0.65" fill="#f6f6f6" stroke="none" opacity="0.7"/>
<circle cx="526.9" cy="530.0" r="0.75" fill="#f6f6f6" stroke="none" opacity="1"/>
<circle cx="456.9" cy="637.4" r="0.75" fill="#f6f6f6" stroke="none" opacity="0.85"/>
<circle cx="509.2" cy="578.0" r="0.65" fill="#f6f6f6" stroke="none" opacity="1"/>
<circle cx="571.8" cy="632.4" r="0.65" fill="#f6f6f6" stroke="none" opacity="0.7"/>
<circle cx="458.1" cy="569.2" r="0.95" fill="#f6f6f6" stroke="none" opacity="0.85"/>
<circle cx="573.4" cy="538.5" r="0.95" fill="#f6f6f6" stroke="none" opacity="1"/>
<circle cx="612.8" cy="571.7" r="0.95" fill="#f6f6f6" stroke="none" opacity="0.7"/>
<circle cx="476.3" cy="648.8" r="0.65" fill="#f6f6f6" stroke="none" opacity="0.7"/>
<circle cx="500.1" cy="553.5" r="0.65" fill="#f6f6f6" stroke="none" opacity="1"/>
<circle cx="454.6" cy="635.4" r="0.75" fill="#f6f6f6" stroke="none" opacity="1"/>
<circle cx="605.7" cy="571.0" r="0.65" fill="#f6f6f6" stroke="none" opacity="0.7"/>
<circle cx="454.7" cy="529.3" r="0.95" fill="#f6f6f6" stroke="none" opacity="0.85"/>
<circle cx="456.0" cy="528.5" r="0.75" fill="#f6f6f6" stroke="none" opacity="0.85"/>
<circle cx="530.6" cy="619.9" r="0.75" fill="#f6f6f6" stroke="none" opacity="0.85"/>
<circle cx="506.0" cy="644.9" r="0.75" fill="#f6f6f6" stroke="none" opacity="0.7"/>
<circle cx="608.7" cy="551.8" r="0.75" fill="#f6f6f6" stroke="none" opacity="0.85"/>
<circle cx="592.1" cy="541.8" r="0.95" fill="#f6f6f6" stroke="none" opacity="1"/>
<circle cx="469.8" cy="548.0" r="0.95" fill="#f6f6f6" stroke="none" opacity="1"/>
<circle cx="453.6" cy="563.0" r="0.95" fill="#f6f6f6" stroke="none" opacity="1"/>
<circle cx="550.8" cy="564.9" r="0.55" fill="#f6f6f6" stroke="none" opacity="0.7"/>
<circle cx="614.5" cy="573.6" r="0.55" fill="#f6f6f6" stroke="none" opacity="0.7"/>
<circle cx="494.2" cy="651.4" r="0.95" fill="#f6f6f6" stroke="none" opacity="0.85"/>
<circle cx="505.4" cy="557.8" r="0.65" fill="#f6f6f6" stroke="none" opacity="1"/>
<circle cx="542.1" cy="623.2" r="0.95" fill="#f6f6f6" stroke="none" opacity="1"/>
<circle cx="554.8" cy="641.6" r="0.95" fill="#f6f6f6" stroke="none" opacity="0.7"/>
<circle cx="621.6" cy="575.4" r="0.85" fill="#f6f6f6" stroke="none" opacity="0.7"/>
<circle cx="606.4" cy="624.6" r="0.95" fill="#f6f6f6" stroke="none" opacity="0.7"/>
<circle cx="512.1" cy="558.7" r="0.85" fill="#f6f6f6" stroke="none" opacity="0.7"/>
<circle cx="528.6" cy="592.2" r="0.95" fill="#f6f6f6" stroke="none" opacity="0.7"/>
<circle cx="495.1" cy="647.2" r="0.95" fill="#f6f6f6" stroke="none" opacity="0.85"/>
<circle cx="517.9" cy="589.2" r="0.85" fill="#f6f6f6" stroke="none" opacity="1"/>
<circle cx="566.2" cy="527.7" r="0.95" fill="#f6f6f6" stroke="none" opacity="0.85"/>
<circle cx="546.1" cy="592.6" r="0.95" fill="#f6f6f6" stroke="none" opacity="1"/>
<circle cx="598.7" cy="535.8" r="0.75" fill="#f6f6f6" stroke="none" opacity="0.7"/>
<circle cx="442.7" cy="618.6" r="0.75" fill="#f6f6f6" stroke="none" opacity="0.7"/>
<circle cx="569.7" cy="568.0" r="0.95" fill="#f6f6f6" stroke="none" opacity="0.85"/>
<circle cx="584.2" cy="542.1" r="0.95" fill="#f6f6f6" stroke="none" opacity="0.7"/>
<circle cx="607.5" cy="577.7" r="0.85" fill="#f6f6f6" stroke="none" opacity="0.85"/>
<circle cx="487.6" cy="578.1" r="0.75" fill="#f6f6f6" stroke="none" opacity="0.7"/>
<circle cx="464.6" cy="649.2" r="0.75" fill="#f6f6f6" stroke="none" opacity="1"/>
<circle cx="595.0" cy="643.4" r="0.65" fill="#f6f6f6" stroke="none" opacity="1"/>
<circle cx="566.8" cy="559.4" r="0.75" fill="#f6f6f6" stroke="none" opacity="0.7"/>
<circle cx="495.5" cy="648.2" r="0.55" fill="#f6f6f6" stroke="none" opacity="0.7"/>
<circle cx="612.7" cy="574.9" r="0.65" fill="#f6f6f6" stroke="none" opacity="0.85"/>
<circle cx="575.2" cy="608.3" r="0.75" fill="#f6f6f6" stroke="none" opacity="0.85"/>
<circle cx="607.4" cy="583.4" r="0.65" fill="#f6f6f6" stroke="none" opacity="0.7"/>
<circle cx="574.3" cy="631.6" r="0.65" fill="#f6f6f6" stroke="none" opacity="1"/>
<circle cx="593.6" cy="597.0" r="0.65" fill="#f6f6f6" stroke="none" opacity="0.85"/>
<circle cx="503.2" cy="614.1" r="0.65" fill="#f6f6f6" stroke="none" opacity="1"/>
<circle cx="593.1" cy="595.1" r="0.85" fill="#f6f6f6" stroke="none" opacity="0.85"/>
<circle cx="516.4" cy="641.3" r="0.85" fill="#f6f6f6" stroke="none" opacity="0.7"/>
<circle cx="444.0" cy="567.1" r="0.85" fill="#f6f6f6" stroke="none" opacity="0.85"/>
<circle cx="466.5" cy="562.1" r="0.85" fill="#f6f6f6" stroke="none" opacity="0.85"/>
<circle cx="464.0" cy="639.5" r="0.95" fill="#f6f6f6" stroke="none" opacity="0.85"/>
<circle cx="544.0" cy="622.2" r="0.55" fill="#f6f6f6" stroke="none" opacity="0.7"/>
<circle cx="512.8" cy="633.2" r="0.65" fill="#f6f6f6" stroke="none" opacity="1"/>
<circle cx="446.4" cy="557.5" r="0.65" fill="#f6f6f6" stroke="none" opacity="0.85"/>
<circle cx="515.4" cy="623.9" r="0.75" fill="#f6f6f6" stroke="none" opacity="0.7"/>
<circle cx="496.3" cy="607.0" r="0.75" fill="#f6f6f6" stroke="none" opacity="0.7"/>
<circle cx="557.6" cy="647.4" r="0.65" fill="#f6f6f6" stroke="none" opacity="0.7"/>
<circle cx="576.8" cy="541.5" r="0.75" fill="#f6f6f6" stroke="none" opacity="0.85"/>
<circle cx="489.3" cy="530.6" r="0.55" fill="#f6f6f6" stroke="none" opacity="0.85"/>
<circle cx="468.8" cy="621.9" r="0.75" fill="#f6f6f6" stroke="none" opacity="1"/>
<circle cx="541.7" cy="643.6" r="0.85" fill="#f6f6f6" stroke="none" opacity="1"/>
<circle cx="566.9" cy="607.6" r="0.55" fill="#f6f6f6" stroke="none" opacity="0.7"/>
<circle cx="560.9" cy="568.4" r="0.55" fill="#f6f6f6" stroke="none" opacity="0.85"/>
<circle cx="439.9" cy="544.3" r="0.95" fill="#f6f6f6" stroke="none" opacity="1"/>
<circle cx="551.6" cy="650.4" r="0.85" fill="#f6f6f6" stroke="none" opacity="0.7"/>
<circle cx="468.9" cy="623.3" r="0.65" fill="#f6f6f6" stroke="none" opacity="1"/>
<circle cx="501.3" cy="634.3" r="0.65" fill="#f6f6f6" stroke="none" opacity="0.85"/>
<circle cx="588.6" cy="609.0" r="0.75" fill="#f6f6f6" stroke="none" opacity="0.7"/>
<circle cx="538.8" cy="604.0" r="0.75" fill="#f6f6f6" stroke="none" opacity="1"/>
<circle cx="565.3" cy="563.5" r="0.65" fill="#f6f6f6" stroke="none" opacity="0.85"/>
<circle cx="572.7" cy="563.9" r="0.55" fill="#f6f6f6" stroke="none" opacity="0.7"/>
<circle cx="485.0" cy="545.7" r="0.65" fill="#f6f6f6" stroke="none" opacity="1"/>
<circle cx="574.1" cy="552.2" r="0.95" fill="#f6f6f6" stroke="none" opacity="1"/>
<circle cx="613.3" cy="559.3" r="0.85" fill="#f6f6f6" stroke="none" opacity="0.85"/>
<circle cx="460.3" cy="649.6" r="0.65" fill="#f6f6f6" stroke="none" opacity="1"/>
<circle cx="621.1" cy="582.7" r="0.85" fill="#f6f6f6" stroke="none" opacity="0.7"/>
<circle cx="596.2" cy="614.3" r="0.65" fill="#f6f6f6" stroke="none" opacity="0.85"/>
<circle cx="537.6" cy="598.6" r="0.75" fill="#f6f6f6" stroke="none" opacity="0.85"/>
<circle cx="437.5" cy="638.7" r="0.65" fill="#f6f6f6" stroke="none" opacity="0.85"/>
<circle cx="489.4" cy="638.3" r="0.75" fill="#f6f6f6" stroke="none" opacity="0.85"/>
<circle cx="617.2" cy="610.8" r="0.75" fill="#f6f6f6" stroke="none" opacity="1"/>
<circle cx="528.7" cy="530.6" r="0.65" fill="#f6f6f6" stroke="none" opacity="1"/>
<circle cx="537.2" cy="553.3" r="0.65" fill="#f6f6f6" stroke="none" opacity="1"/>
<circle cx="620.2" cy="620.0" r="0.75" fill="#f6f6f6" stroke="none" opacity="0.85"/>
<circle cx="545.2" cy="632.3" r="0.75" fill="#f6f6f6" stroke="none" opacity="1"/>
<circle cx="594.3" cy="566.2" r="0.85" fill="#f6f6f6" stroke="none" opacity="1"/>
<circle cx="490.2" cy="526.4" r="0.85" fill="#f6f6f6" stroke="none" opacity="0.7"/>
<circle cx="622.8" cy="596.7" r="0.55" fill="#f6f6f6" stroke="none" opacity="0.85"/>
<circle cx="596.7" cy="560.2" r="0.75" fill="#f6f6f6" stroke="none" opacity="0.7"/>
<circle cx="537.7" cy="560.1" r="0.55" fill="#f6f6f6" stroke="none" opacity="0.85"/>
<circle cx="439.9" cy="547.6" r="0.85" fill="#f6f6f6" stroke="none" opacity="0.7"/>
<circle cx="484.9" cy="626.8" r="0.65" fill="#f6f6f6" stroke="none" opacity="1"/>
<circle cx="567.3" cy="626.0" r="0.75" fill="#f6f6f6" stroke="none" opacity="1"/>
<circle cx="559.7" cy="532.2" r="0.75" fill="#f6f6f6" stroke="none" opacity="1"/>
<circle cx="505.0" cy="619.6" r="0.55" fill="#f6f6f6" stroke="none" opacity="0.7"/>
<circle cx="548.6" cy="580.9" r="0.85" fill="#f6f6f6" stroke="none" opacity="0.7"/>
<circle cx="444.9" cy="525.6" r="0.95" fill="#f6f6f6" stroke="none" opacity="1"/>
<circle cx="526.1" cy="574.6" r="0.65" fill="#f6f6f6" stroke="none" opacity="0.7"/>
<circle cx="466.5" cy="567.3" r="0.85" fill="#f6f6f6" stroke="none" opacity="0.7"/>
<circle cx="458.2" cy="631.5" r="0.55" fill="#f6f6f6" stroke="none" opacity="0.85"/>
<circle cx="484.3" cy="627.6" r="0.75" fill="#f6f6f6" stroke="none" opacity="1"/>
<circle cx="545.4" cy="604.9" r="0.65" fill="#f6f6f6" stroke="none" opacity="0.7"/>
<circle cx="565.5" cy="545.1" r="0.55" fill="#f6f6f6" stroke="none" opacity="1"/>
<circle cx="562.7" cy="569.7" r="0.95" fill="#f6f6f6" stroke="none" opacity="0.85"/>
<circle cx="515.2" cy="591.0" r="0.65" fill="#f6f6f6" stroke="none" opacity="0.85"/>
<circle cx="609.9" cy="580.1" r="0.95" fill="#f6f6f6" stroke="none" opacity="0.85"/>
<circle cx="456.5" cy="563.1" r="0.75" fill="#f6f6f6" stroke="none" opacity="1"/>
<circle cx="587.8" cy="614.6" r="0.65" fill="#f6f6f6" stroke="none" opacity="0.7"/>
<circle cx="554.6" cy="587.5" r="0.95" fill="#f6f6f6" stroke="none" opacity="0.85"/>
<circle cx="559.4" cy="575.2" r="0.65" fill="#f6f6f6" stroke="none" opacity="0.7"/>
<circle cx="491.9" cy="615.7" r="0.95" fill="#f6f6f6" stroke="none" opacity="1"/>
<circle cx="528.1" cy="526.9" r="0.55" fill="#f6f6f6" stroke="none" opacity="1"/>
<circle cx="461.5" cy="587.2" r="0.95" fill="#f6f6f6" stroke="none" opacity="1"/>
<circle cx="580.0" cy="538.1" r="0.95" fill="#f6f6f6" stroke="none" opacity="0.85"/>
<circle cx="524.9" cy="615.2" r="0.75" fill="#f6f6f6" stroke="none" opacity="0.7"/>
<circle cx="549.5" cy="566.9" r="0.95" fill="#f6f6f6" stroke="none" opacity="0.85"/>
<circle cx="486.0" cy="635.2" r="0.75" fill="#f6f6f6" stroke="none" opacity="1"/>
<circle cx="459.5" cy="527.1" r="0.95" fill="#f6f6f6" stroke="none" opacity="1"/>
<circle cx="471.7" cy="544.5" r="0.55" fill="#f6f6f6" stroke="none" opacity="0.85"/>
<circle cx="502.7" cy="608.6" r="0.55" fill="#f6f6f6" stroke="none" opacity="0.7"/>
<circle cx="612.4" cy="588.3" r="0.95" fill="#f6f6f6" stroke="none" opacity="0.7"/>
<circle cx="439.0" cy="571.0" r="0.65" fill="#f6f6f6" stroke="none" opacity="0.85"/>
<circle cx="525.6" cy="579.4" r="0.85" fill="#f6f6f6" stroke="none" opacity="1"/>
<circle cx="601.2" cy="631.9" r="0.75" fill="#f6f6f6" stroke="none" opacity="0.85"/>
<circle cx="604.1" cy="616.1" r="0.95" fill="#f6f6f6" stroke="none" opacity="0.7"/>
<circle cx="580.7" cy="578.6" r="0.65" fill="#f6f6f6" stroke="none" opacity="0.85"/>
<circle cx="609.9" cy="578.6" r="0.75" fill="#f6f6f6" stroke="none" opacity="0.7"/>
<circle cx="623.4" cy="603.0" r="0.55" fill="#f6f6f6" stroke="none" opacity="0.85"/>
<circle cx="570.9" cy="540.4" r="0.85" fill="#f6f6f6" stroke="none" opacity="0.7"/>
<circle cx="495.2" cy="608.8" r="0.75" fill="#f6f6f6" stroke="none" opacity="0.85"/>
<circle cx="596.1" cy="605.1" r="0.85" fill="#f6f6f6" stroke="none" opacity="0.7"/>
<circle cx="614.9" cy="589.6" r="0.85" fill="#f6f6f6" stroke="none" opacity="1"/>
<circle cx="441.7" cy="643.0" r="0.85" fill="#f6f6f6" stroke="none" opacity="0.7"/>
<circle cx="532.9" cy="576.7" r="0.85" fill="#f6f6f6" stroke="none" opacity="0.85"/>
<circle cx="561.2" cy="642.0" r="0.85" fill="#f6f6f6" stroke="none" opacity="0.85"/>
<circle cx="619.0" cy="578.2" r="0.85" fill="#f6f6f6" stroke="none" opacity="0.85"/>
<circle cx="576.7" cy="639.4" r="0.55" fill="#f6f6f6" stroke="none" opacity="0.7"/>
<circle cx="484.7" cy="529.8" r="0.65" fill="#f6f6f6" stroke="none" opacity="1"/>
<circle cx="575.2" cy="616.1" r="0.65" fill="#f6f6f6" stroke="none" opacity="1"/>
<circle cx="562.8" cy="629.9" r="0.75" fill="#f6f6f6" stroke="none" opacity="0.7"/>
<circle cx="580.2" cy="649.1" r="0.55" fill="#f6f6f6" stroke="none" opacity="1"/>
<circle cx="585.3" cy="608.8" r="0.85" fill="#f6f6f6" stroke="none" opacity="0.7"/>
<circle cx="568.7" cy="643.9" r="0.55" fill="#f6f6f6" stroke="none" opacity="0.85"/>
<circle cx="456.0" cy="651.0" r="0.65" fill="#f6f6f6" stroke="none" opacity="1"/>
<circle cx="461.2" cy="549.8" r="0.95" fill="#f6f6f6" stroke="none" opacity="1"/>
<circle cx="460.5" cy="532.9" r="0.95" fill="#f6f6f6" stroke="none" opacity="0.85"/>
<circle cx="437.1" cy="542.1" r="0.75" fill="#f6f6f6" stroke="none" opacity="0.7"/>
<circle cx="466.9" cy="545.7" r="0.65" fill="#f6f6f6" stroke="none" opacity="0.7"/>
<circle cx="529.1" cy="586.8" r="0.75" fill="#f6f6f6" stroke="none" opacity="0.7"/>
<circle cx="511.4" cy="597.1" r="0.95" fill="#f6f6f6" stroke="none" opacity="0.7"/>
<circle cx="552.7" cy="541.1" r="0.75" fill="#f6f6f6" stroke="none" opacity="1"/>
<circle cx="607.3" cy="630.8" r="0.95" fill="#f6f6f6" stroke="none" opacity="0.7"/>
<circle cx="441.3" cy="610.0" r="0.65" fill="#f6f6f6" stroke="none" opacity="1"/>
<circle cx="593.7" cy="571.8" r="0.85" fill="#f6f6f6" stroke="none" opacity="0.85"/>
<circle cx="621.2" cy="611.8" r="0.85" fill="#f6f6f6" stroke="none" opacity="0.7"/>
<circle cx="493.3" cy="593.2" r="0.75" fill="#f6f6f6" stroke="none" opacity="0.7"/>
<circle cx="621.6" cy="598.1" r="0.95" fill="#f6f6f6" stroke="none" opacity="1"/>
<circle cx="526.4" cy="636.1" r="0.75" fill="#f6f6f6" stroke="none" opacity="0.7"/>
<circle cx="600.7" cy="610.1" r="0.85" fill="#f6f6f6" stroke="none" opacity="0.85"/>
<circle cx="504.1" cy="649.2" r="0.85" fill="#f6f6f6" stroke="none" opacity="0.85"/>
<circle cx="528.7" cy="530.9" r="0.75" fill="#f6f6f6" stroke="none" opacity="1"/>
<circle cx="570.9" cy="537.4" r="0.75" fill="#f6f6f6" stroke="none" opacity="1"/>
<circle cx="548.1" cy="597.5" r="0.75" fill="#f6f6f6" stroke="none" opacity="0.7"/>
<circle cx="451.1" cy="560.8" r="0.75" fill="#f6f6f6" stroke="none" opacity="0.85"/>
<circle cx="518.0" cy="568.7" r="0.95" fill="#f6f6f6" stroke="none" opacity="0.7"/>
<circle cx="600.4" cy="609.2" r="0.75" fill="#f6f6f6" stroke="none" opacity="0.7"/>
<circle cx="589.8" cy="573.9" r="0.85" fill="#f6f6f6" stroke="none" opacity="0.7"/>
<circle cx="512.6" cy="646.0" r="0.65" fill="#f6f6f6" stroke="none" opacity="1"/>
<circle cx="554.1" cy="629.8" r="0.65" fill="#f6f6f6" stroke="none" opacity="1"/>
<circle cx="549.7" cy="639.4" r="0.55" fill="#f6f6f6" stroke="none" opacity="0.7"/>
<circle cx="580.3" cy="635.8" r="0.55" fill="#f6f6f6" stroke="none" opacity="1"/>
<circle cx="604.8" cy="560.0" r="0.55" fill="#f6f6f6" stroke="none" opacity="0.85"/>
<circle cx="484.2" cy="599.9" r="0.65" fill="#f6f6f6" stroke="none" opacity="0.85"/>
<circle cx="529.0" cy="552.5" r="0.85" fill="#f6f6f6" stroke="none" opacity="1"/>
<circle cx="459.9" cy="573.1" r="0.85" fill="#f6f6f6" stroke="none" opacity="0.7"/>
<circle cx="491.8" cy="616.1" r="0.55" fill="#f6f6f6" stroke="none" opacity="0.85"/>
<circle cx="483.7" cy="540.4" r="0.65" fill="#f6f6f6" stroke="none" opacity="1"/>
<circle cx="608.6" cy="617.3" r="0.65" fill="#f6f6f6" stroke="none" opacity="0.7"/>
<circle cx="472.5" cy="541.3" r="0.95" fill="#f6f6f6" stroke="none" opacity="0.7"/>
<circle cx="516.6" cy="634.2" r="0.75" fill="#f6f6f6" stroke="none" opacity="1"/>
<circle cx="516.2" cy="597.5" r="0.85" fill="#f6f6f6" stroke="none" opacity="1"/>
<circle cx="486.7" cy="582.3" r="0.75" fill="#f6f6f6" stroke="none" opacity="0.7"/>
<circle cx="509.4" cy="626.3" r="0.65" fill="#f6f6f6" stroke="none" opacity="0.85"/>
<circle cx="594.9" cy="552.7" r="0.95" fill="#f6f6f6" stroke="none" opacity="0.85"/>
<circle cx="492.8" cy="650.9" r="0.55" fill="#f6f6f6" stroke="none" opacity="1"/>
<circle cx="478.6" cy="580.5" r="0.75" fill="#f6f6f6" stroke="none" opacity="0.7"/>
<circle cx="452.5" cy="624.7" r="0.65" fill="#f6f6f6" stroke="none" opacity="1"/>
<circle cx="581.6" cy="553.5" r="0.65" fill="#f6f6f6" stroke="none" opacity="1"/>
<circle cx="585.3" cy="603.1" r="0.85" fill="#f6f6f6" stroke="none" opacity="1"/>
<circle cx="450.0" cy="650.7" r="0.95" fill="#f6f6f6" stroke="none" opacity="0.7"/>
<circle cx="544.3" cy="539.1" r="0.55" fill="#f6f6f6" stroke="none" opacity="1"/>
<circle cx="556.1" cy="539.2" r="0.85" fill="#f6f6f6" stroke="none" opacity="1"/>
<circle cx="600.7" cy="618.6" r="0.95" fill="#f6f6f6" stroke="none" opacity="0.7"/>
<circle cx="589.4" cy="613.7" r="0.75" fill="#f6f6f6" stroke="none" opacity="0.85"/>
<circle cx="590.9" cy="574.9" r="0.95" fill="#f6f6f6" stroke="none" opacity="1"/>
<circle cx="552.2" cy="532.4" r="0.55" fill="#f6f6f6" stroke="none" opacity="0.7"/>
<circle cx="514.8" cy="561.5" r="0.75" fill="#f6f6f6" stroke="none" opacity="0.7"/>
<circle cx="617.9" cy="610.0" r="0.55" fill="#f6f6f6" stroke="none" opacity="0.7"/>
<circle cx="444.0" cy="563.7" r="0.65" fill="#f6f6f6" stroke="none" opacity="0.85"/>
<circle cx="467.2" cy="555.1" r="0.75" fill="#f6f6f6" stroke="none" opacity="0.7"/>
<circle cx="589.4" cy="636.5" r="0.95" fill="#f6f6f6" stroke="none" opacity="0.85"/>
<circle cx="489.9" cy="566.3" r="0.65" fill="#f6f6f6" stroke="none" opacity="0.85"/>
<circle cx="502.9" cy="649.9" r="0.75" fill="#f6f6f6" stroke="none" opacity="0.85"/>
<circle cx="600.3" cy="544.5" r="0.85" fill="#f6f6f6" stroke="none" opacity="1"/>
<circle cx="449.9" cy="646.5" r="0.65" fill="#f6f6f6" stroke="none" opacity="1"/>
<circle cx="500.8" cy="535.8" r="0.85" fill="#f6f6f6" stroke="none" opacity="0.85"/>
<circle cx="488.4" cy="553.7" r="0.95" fill="#f6f6f6" stroke="none" opacity="0.85"/>
<circle cx="534.4" cy="581.3" r="0.85" fill="#f6f6f6" stroke="none" opacity="0.7"/>
<circle cx="603.4" cy="556.3" r="0.95" fill="#f6f6f6" stroke="none" opacity="0.85"/>
<circle cx="553.1" cy="632.6" r="0.85" fill="#f6f6f6" stroke="none" opacity="0.7"/>
<circle cx="506.8" cy="624.0" r="0.85" fill="#f6f6f6" stroke="none" opacity="0.85"/>
<circle cx="439.9" cy="633.7" r="0.75" fill="#f6f6f6" stroke="none" opacity="0.7"/>
<circle cx="504.7" cy="586.2" r="0.75" fill="#f6f6f6" stroke="none" opacity="0.85"/>
<circle cx="460.9" cy="579.7" r="0.95" fill="#f6f6f6" stroke="none" opacity="0.7"/>
<circle cx="576.2" cy="641.7" r="0.85" fill="#f6f6f6" stroke="none" opacity="0.7"/>
<circle cx="548.8" cy="606.4" r="0.75" fill="#f6f6f6" stroke="none" opacity="0.7"/>
<circle cx="595.7" cy="596.2" r="0.55" fill="#f6f6f6" stroke="none" opacity="0.7"/>
<circle cx="614.1" cy="556.1" r="0.75" fill="#f6f6f6" stroke="none" opacity="0.7"/>
<circle cx="576.4" cy="630.4" r="0.75" fill="#f6f6f6" stroke="none" opacity="1"/>
<circle cx="617.4" cy="623.3" r="0.85" fill="#f6f6f6" stroke="none" opacity="1"/>
<circle cx="606.3" cy="571.7" r="0.55" fill="#f6f6f6" stroke="none" opacity="0.7"/>
<circle cx="562.2" cy="626.9" r="0.85" fill="#f6f6f6" stroke="none" opacity="1"/>
<circle cx="552.3" cy="600.4" r="0.55" fill="#f6f6f6" stroke="none" opacity="0.7"/>
<circle cx="460.7" cy="546.2" r="0.95" fill="#f6f6f6" stroke="none" opacity="1"/>
<circle cx="557.7" cy="589.4" r="0.65" fill="#f6f6f6" stroke="none" opacity="1"/>
<circle cx="551.2" cy="643.9" r="0.55" fill="#f6f6f6" stroke="none" opacity="0.85"/>
<circle cx="491.3" cy="544.6" r="0.55" fill="#f6f6f6" stroke="none" opacity="0.7"/>
<circle cx="492.4" cy="526.4" r="0.85" fill="#f6f6f6" stroke="none" opacity="0.85"/>
<circle cx="497.9" cy="619.4" r="0.65" fill="#f6f6f6" stroke="none" opacity="0.85"/>
<circle cx="585.0" cy="531.5" r="0.65" fill="#f6f6f6" stroke="none" opacity="1"/>
<circle cx="622.8" cy="599.3" r="0.95" fill="#f6f6f6" stroke="none" opacity="0.85"/>
<circle cx="591.0" cy="621.0" r="0.55" fill="#f6f6f6" stroke="none" opacity="0.85"/>
<circle cx="598.3" cy="534.1" r="0.75" fill="#f6f6f6" stroke="none" opacity="1"/>
<circle cx="546.5" cy="617.1" r="0.85" fill="#f6f6f6" stroke="none" opacity="0.85"/>
<circle cx="583.9" cy="632.0" r="0.95" fill="#f6f6f6" stroke="none" opacity="1"/>
<circle cx="452.0" cy="560.6" r="0.55" fill="#f6f6f6" stroke="none" opacity="0.85"/>
<circle cx="530.3" cy="619.7" r="0.95" fill="#f6f6f6" stroke="none" opacity="0.7"/>
<circle cx="465.7" cy="525.8" r="0.95" fill="#f6f6f6" stroke="none" opacity="1"/>
<circle cx="517.7" cy="588.4" r="0.75" fill="#f6f6f6" stroke="none" opacity="0.7"/>
<circle cx="562.6" cy="598.8" r="0.55" fill="#f6f6f6" stroke="none" opacity="0.7"/>
<circle cx="573.6" cy="530.9" r="0.65" fill="#f6f6f6" stroke="none" opacity="1"/>
<circle cx="586.9" cy="631.6" r="0.95" fill="#f6f6f6" stroke="none" opacity="0.7"/>
<circle cx="442.4" cy="648.3" r="0.65" fill="#f6f6f6" stroke="none" opacity="0.7"/>
<circle cx="529.3" cy="528.3" r="0.65" fill="#f6f6f6" stroke="none" opacity="0.7"/>
<circle cx="570.5" cy="537.4" r="0.85" fill="#f6f6f6" stroke="none" opacity="0.85"/>
<circle cx="502.0" cy="598.8" r="0.75" fill="#f6f6f6" stroke="none" opacity="1"/>
<circle cx="476.7" cy="582.6" r="0.55" fill="#f6f6f6" stroke="none" opacity="0.85"/>
<circle cx="471.4" cy="643.4" r="0.65" fill="#f6f6f6" stroke="none" opacity="1"/>
<circle cx="468.8" cy="633.2" r="0.65" fill="#f6f6f6" stroke="none" opacity="1"/>
<circle cx="619.1" cy="592.6" r="0.65" fill="#f6f6f6" stroke="none" opacity="0.85"/>
<circle cx="598.2" cy="619.9" r="0.85" fill="#f6f6f6" stroke="none" opacity="0.85"/>
<circle cx="572.1" cy="583.0" r="0.85" fill="#f6f6f6" stroke="none" opacity="1"/>
<circle cx="614.6" cy="592.1" r="0.75" fill="#f6f6f6" stroke="none" opacity="1"/>
<circle cx="586.1" cy="577.6" r="0.55" fill="#f6f6f6" stroke="none" opacity="0.7"/>
<circle cx="602.1" cy="588.9" r="0.55" fill="#f6f6f6" stroke="none" opacity="0.85"/>
<circle cx="556.0" cy="593.6" r="0.95" fill="#f6f6f6" stroke="none" opacity="1"/>
<circle cx="579.8" cy="597.7" r="0.75" fill="#f6f6f6" stroke="none" opacity="0.85"/>
<circle cx="442.7" cy="592.8" r="0.65" fill="#f6f6f6" stroke="none" opacity="0.7"/>
<circle cx="443.7" cy="632.8" r="0.55" fill="#f6f6f6" stroke="none" opacity="1"/>
<circle cx="446.4" cy="647.2" r="0.75" fill="#f6f6f6" stroke="none" opacity="0.7"/>
<circle cx="574.0" cy="558.1" r="0.95" fill="#f6f6f6" stroke="none" opacity="1"/>
<circle cx="597.0" cy="549.7" r="0.95" fill="#f6f6f6" stroke="none" opacity="0.7"/>
<circle cx="597.3" cy="641.3" r="0.95" fill="#f6f6f6" stroke="none" opacity="0.85"/>
<circle cx="606.5" cy="594.3" r="0.75" fill="#f6f6f6" stroke="none" opacity="0.85"/>
<circle cx="609.0" cy="624.2" r="0.95" fill="#f6f6f6" stroke="none" opacity="0.7"/>
<circle cx="543.6" cy="577.8" r="0.55" fill="#f6f6f6" stroke="none" opacity="0.7"/>
<circle cx="547.6" cy="542.1" r="0.85" fill="#f6f6f6" stroke="none" opacity="1"/>
<circle cx="450.3" cy="648.8" r="0.65" fill="#f6f6f6" stroke="none" opacity="0.7"/>
<circle cx="490.1" cy="645.5" r="0.85" fill="#f6f6f6" stroke="none" opacity="0.7"/>
<circle cx="551.9" cy="643.9" r="0.75" fill="#f6f6f6" stroke="none" opacity="0.85"/>
<circle cx="487.9" cy="544.1" r="0.55" fill="#f6f6f6" stroke="none" opacity="0.7"/>
<circle cx="497.6" cy="638.1" r="0.75" fill="#f6f6f6" stroke="none" opacity="0.85"/>
<circle cx="602.7" cy="632.9" r="0.75" fill="#f6f6f6" stroke="none" opacity="0.7"/>
<circle cx="621.4" cy="589.4" r="0.65" fill="#f6f6f6" stroke="none" opacity="1"/>
<circle cx="449.4" cy="525.5" r="0.95" fill="#f6f6f6" stroke="none" opacity="1"/>
<circle cx="479.4" cy="532.7" r="0.55" fill="#f6f6f6" stroke="none" opacity="1"/>
<circle cx="465.1" cy="538.1" r="0.75" fill="#f6f6f6" stroke="none" opacity="0.7"/>
<circle cx="455.4" cy="615.9" r="0.95" fill="#f6f6f6" stroke="none" opacity="0.85"/>
<circle cx="595.3" cy="594.7" r="0.65" fill="#f6f6f6" stroke="none" opacity="1"/>
<circle cx="496.7" cy="535.4" r="0.85" fill="#f6f6f6" stroke="none" opacity="0.85"/>
<circle cx="622.8" cy="574.5" r="0.55" fill="#f6f6f6" stroke="none" opacity="1"/>
<circle cx="528.7" cy="553.2" r="0.65" fill="#f6f6f6" stroke="none" opacity="0.7"/>
<circle cx="497.6" cy="580.0" r="0.95" fill="#f6f6f6" stroke="none" opacity="0.85"/>
<circle cx="491.1" cy="531.6" r="0.55" fill="#f6f6f6" stroke="none" opacity="0.7"/>
<circle cx="553.3" cy="563.7" r="0.95" fill="#f6f6f6" stroke="none" opacity="0.7"/>
<circle cx="566.8" cy="565.0" r="0.95" fill="#f6f6f6" stroke="none" opacity="0.85"/>
<circle cx="513.4" cy="631.9" r="0.65" fill="#f6f6f6" stroke="none" opacity="0.7"/>
<circle cx="508.8" cy="615.9" r="0.95" fill="#f6f6f6" stroke="none" opacity="0.85"/>
<circle cx="521.6" cy="645.6" r="0.75" fill="#f6f6f6" stroke="none" opacity="0.7"/>
<circle cx="587.2" cy="631.8" r="0.65" fill="#f6f6f6" stroke="none" opacity="0.7"/>
<circle cx="574.9" cy="534.0" r="0.95" fill="#f6f6f6" stroke="none" opacity="0.85"/>
<circle cx="490.2" cy="534.1" r="0.65" fill="#f6f6f6" stroke="none" opacity="0.85"/>
<circle cx="597.5" cy="545.3" r="0.75" fill="#f6f6f6" stroke="none" opacity="0.85"/>
<circle cx="612.9" cy="604.0" r="0.95" fill="#f6f6f6" stroke="none" opacity="0.7"/>
<circle cx="466.2" cy="552.2" r="0.75" fill="#f6f6f6" stroke="none" opacity="1"/>
<circle cx="577.8" cy="649.4" r="0.55" fill="#f6f6f6" stroke="none" opacity="0.7"/>
<circle cx="447.5" cy="525.7" r="0.95" fill="#f6f6f6" stroke="none" opacity="0.85"/>
<circle cx="586.3" cy="555.5" r="0.65" fill="#f6f6f6" stroke="none" opacity="0.85"/>
<circle cx="540.4" cy="546.3" r="0.65" fill="#f6f6f6" stroke="none" opacity="0.7"/>
<circle cx="603.1" cy="573.3" r="0.95" fill="#f6f6f6" stroke="none" opacity="0.7"/>
<circle cx="530.7" cy="593.3" r="0.75" fill="#f6f6f6" stroke="none" opacity="1"/>
<circle cx="570.1" cy="573.4" r="0.95" fill="#f6f6f6" stroke="none" opacity="1"/>
<circle cx="448.8" cy="592.7" r="0.85" fill="#f6f6f6" stroke="none" opacity="1"/>
<circle cx="575.5" cy="644.3" r="0.75" fill="#f6f6f6" stroke="none" opacity="0.7"/>
<circle cx="571.4" cy="569.2" r="0.65" fill="#f6f6f6" stroke="none" opacity="0.85"/>
<circle cx="558.3" cy="573.4" r="0.85" fill="#f6f6f6" stroke="none" opacity="0.85"/>
<circle cx="498.3" cy="526.8" r="0.65" fill="#f6f6f6" stroke="none" opacity="0.7"/>
<circle cx="480.5" cy="644.6" r="0.75" fill="#f6f6f6" stroke="none" opacity="1"/>
<circle cx="448.2" cy="621.5" r="0.85" fill="#f6f6f6" stroke="none" opacity="1"/>
<circle cx="463.3" cy="577.5" r="0.75" fill="#f6f6f6" stroke="none" opacity="0.85"/>
<circle cx="527.2" cy="555.0" r="0.75" fill="#f6f6f6" stroke="none" opacity="0.7"/>
<circle cx="492.8" cy="594.8" r="0.65" fill="#f6f6f6" stroke="none" opacity="0.7"/>
<circle cx="526.7" cy="650.5" r="0.95" fill="#f6f6f6" stroke="none" opacity="0.85"/>
<circle cx="519.8" cy="595.9" r="0.65" fill="#f6f6f6" stroke="none" opacity="0.7"/>
<circle cx="574.1" cy="568.1" r="0.65" fill="#f6f6f6" stroke="none" opacity="1"/>
<circle cx="543.2" cy="646.9" r="0.75" fill="#f6f6f6" stroke="none" opacity="1"/>
<circle cx="586.4" cy="565.2" r="0.55" fill="#f6f6f6" stroke="none" opacity="0.85"/>
<circle cx="478.6" cy="612.5" r="0.75" fill="#f6f6f6" stroke="none" opacity="1"/>
<circle cx="515.9" cy="627.8" r="0.65" fill="#f6f6f6" stroke="none" opacity="0.85"/>
<circle cx="472.5" cy="648.3" r="0.55" fill="#f6f6f6" stroke="none" opacity="0.85"/>
<circle cx="589.4" cy="541.2" r="0.75" fill="#f6f6f6" stroke="none" opacity="1"/>
<circle cx="463.3" cy="632.6" r="0.85" fill="#f6f6f6" stroke="none" opacity="0.85"/>
<circle cx="511.9" cy="565.7" r="0.95" fill="#f6f6f6" stroke="none" opacity="0.7"/>
<circle cx="491.2" cy="535.2" r="0.75" fill="#f6f6f6" stroke="none" opacity="0.7"/>
<circle cx="520.0" cy="531.0" r="0.95" fill="#f6f6f6" stroke="none" opacity="0.7"/>
<circle cx="551.7" cy="566.7" r="0.55" fill="#f6f6f6" stroke="none" opacity="0.7"/>
<circle cx="546.4" cy="647.7" r="0.55" fill="#f6f6f6" stroke="none" opacity="0.85"/>
<circle cx="438.6" cy="544.6" r="0.65" fill="#f6f6f6" stroke="none" opacity="0.85"/>
<circle cx="627.8" cy="597.1" r="0.65" fill="#f6f6f6" stroke="none" opacity="1"/>
<circle cx="553.0" cy="529.6" r="0.65" fill="#f6f6f6" stroke="none" opacity="1"/>
<circle cx="565.9" cy="645.6" r="0.55" fill="#f6f6f6" stroke="none" opacity="1"/>
<circle cx="459.5" cy="625.2" r="0.65" fill="#f6f6f6" stroke="none" opacity="0.7"/>
<circle cx="536.8" cy="560.9" r="0.95" fill="#f6f6f6" stroke="none" opacity="1"/>
<circle cx="620.2" cy="599.0" r="0.75" fill="#f6f6f6" stroke="none" opacity="1"/>
<circle cx="610.3" cy="554.6" r="0.75" fill="#f6f6f6" stroke="none" opacity="0.85"/>
<circle cx="522.6" cy="530.1" r="0.75" fill="#f6f6f6" stroke="none" opacity="1"/>
<circle cx="492.9" cy="529.6" r="0.95" fill="#f6f6f6" stroke="none" opacity="0.85"/>
<circle cx="475.7" cy="566.5" r="0.65" fill="#f6f6f6" stroke="none" opacity="0.7"/>
<circle cx="471.1" cy="536.2" r="0.75" fill="#f6f6f6" stroke="none" opacity="1"/>
<circle cx="568.3" cy="540.3" r="0.55" fill="#f6f6f6" stroke="none" opacity="1"/>
<circle cx="441.8" cy="528.7" r="0.85" fill="#f6f6f6" stroke="none" opacity="0.85"/>
<circle cx="478.8" cy="598.9" r="0.65" fill="#f6f6f6" stroke="none" opacity="0.7"/>
<circle cx="451.0" cy="573.8" r="0.75" fill="#f6f6f6" stroke="none" opacity="0.7"/>
<circle cx="502.1" cy="644.1" r="0.95" fill="#f6f6f6" stroke="none" opacity="1"/>
<circle cx="613.7" cy="595.3" r="0.75" fill="#f6f6f6" stroke="none" opacity="0.85"/>
<circle cx="525.5" cy="569.3" r="0.85" fill="#f6f6f6" stroke="none" opacity="1"/>
<circle cx="470.8" cy="596.5" r="0.75" fill="#f6f6f6" stroke="none" opacity="1"/>
<circle cx="557.6" cy="571.1" r="0.95" fill="#f6f6f6" stroke="none" opacity="0.7"/>
<circle cx="478.9" cy="638.6" r="0.95" fill="#f6f6f6" stroke="none" opacity="0.85"/>
<circle cx="591.1" cy="571.1" r="0.55" fill="#f6f6f6" stroke="none" opacity="0.7"/>
<circle cx="496.9" cy="606.5" r="0.85" fill="#f6f6f6" stroke="none" opacity="0.7"/>
<circle cx="472.5" cy="609.8" r="0.75" fill="#f6f6f6" stroke="none" opacity="0.85"/>
<circle cx="536.1" cy="628.7" r="0.75" fill="#f6f6f6" stroke="none" opacity="0.7"/>
<circle cx="580.3" cy="551.0" r="0.55" fill="#f6f6f6" stroke="none" opacity="0.7"/>
<circle cx="515.4" cy="593.5" r="0.65" fill="#f6f6f6" stroke="none" opacity="1"/>
<circle cx="525.6" cy="623.4" r="0.65" fill="#f6f6f6" stroke="none" opacity="0.7"/>
<circle cx="581.0" cy="644.5" r="0.55" fill="#f6f6f6" stroke="none" opacity="0.7"/>
<circle cx="452.4" cy="563.2" r="0.75" fill="#f6f6f6" stroke="none" opacity="0.85"/>
<circle cx="618.7" cy="616.8" r="0.65" fill="#f6f6f6" stroke="none" opacity="0.85"/>
<circle cx="571.7" cy="621.8" r="0.55" fill="#f6f6f6" stroke="none" opacity="1"/>
<circle cx="525.4" cy="541.7" r="0.75" fill="#f6f6f6" stroke="none" opacity="1"/>
<circle cx="521.8" cy="528.1" r="0.55" fill="#f6f6f6" stroke="none" opacity="0.7"/>
<circle cx="548.1" cy="574.6" r="0.95" fill="#f6f6f6" stroke="none" opacity="0.85"/>
<circle cx="611.8" cy="549.7" r="0.65" fill="#f6f6f6" stroke="none" opacity="0.7"/>
<circle cx="560.1" cy="548.4" r="0.75" fill="#f6f6f6" stroke="none" opacity="1"/>
<circle cx="455.8" cy="604.9" r="0.55" fill="#f6f6f6" stroke="none" opacity="1"/>
<circle cx="556.1" cy="556.8" r="0.85" fill="#f6f6f6" stroke="none" opacity="0.7"/>
<circle cx="531.9" cy="575.2" r="0.75" fill="#f6f6f6" stroke="none" opacity="1"/>
<circle cx="607.9" cy="584.8" r="0.65" fill="#f6f6f6" stroke="none" opacity="0.7"/>
<circle cx="538.4" cy="575.1" r="0.95" fill="#f6f6f6" stroke="none" opacity="1"/>
<circle cx="612.8" cy="627.0" r="0.55" fill="#f6f6f6" stroke="none" opacity="0.7"/>
<circle cx="547.7" cy="548.2" r="0.65" fill="#f6f6f6" stroke="none" opacity="1"/>
<circle cx="592.9" cy="551.4" r="0.85" fill="#f6f6f6" stroke="none" opacity="1"/>
<circle cx="538.4" cy="651.6" r="0.65" fill="#f6f6f6" stroke="none" opacity="0.85"/>
<circle cx="475.6" cy="553.0" r="0.65" fill="#f6f6f6" stroke="none" opacity="0.85"/>
<circle cx="626.3" cy="590.8" r="0.55" fill="#f6f6f6" stroke="none" opacity="1"/>
<circle cx="468.5" cy="627.6" r="0.65" fill="#f6f6f6" stroke="none" opacity="0.7"/>
<circle cx="447.8" cy="529.5" r="0.65" fill="#f6f6f6" stroke="none" opacity="1"/>
<circle cx="606.5" cy="559.6" r="0.85" fill="#f6f6f6" stroke="none" opacity="1"/>
<circle cx="469.7" cy="649.4" r="0.55" fill="#f6f6f6" stroke="none" opacity="1"/>
<circle cx="619.1" cy="614.2" r="0.65" fill="#f6f6f6" stroke="none" opacity="0.7"/>
<circle cx="622.8" cy="562.8" r="0.75" fill="#f6f6f6" stroke="none" opacity="1"/>
<circle cx="455.7" cy="634.7" r="0.95" fill="#f6f6f6" stroke="none" opacity="0.85"/>
<circle cx="551.2" cy="565.9" r="0.85" fill="#f6f6f6" stroke="none" opacity="1"/>
<circle cx="552.9" cy="623.6" r="0.95" fill="#f6f6f6" stroke="none" opacity="0.85"/>
<circle cx="532.3" cy="561.1" r="0.75" fill="#f6f6f6" stroke="none" opacity="0.7"/>
<circle cx="527.0" cy="552.5" r="0.75" fill="#f6f6f6" stroke="none" opacity="0.7"/>
<circle cx="435.1" cy="642.2" r="0.55" fill="#f6f6f6" stroke="none" opacity="1"/>
<circle cx="435.6" cy="541.9" r="0.65" fill="#f6f6f6" stroke="none" opacity="1"/>
<circle cx="610.7" cy="581.6" r="0.55" fill="#f6f6f6" stroke="none" opacity="0.7"/>
<circle cx="579.3" cy="608.8" r="0.75" fill="#f6f6f6" stroke="none" opacity="0.7"/>
<circle cx="616.5" cy="567.8" r="0.55" fill="#f6f6f6" stroke="none" opacity="0.7"/>
<circle cx="603.7" cy="615.7" r="0.65" fill="#f6f6f6" stroke="none" opacity="0.85"/>
<circle cx="521.0" cy="526.6" r="0.55" fill="#f6f6f6" stroke="none" opacity="1"/>
<circle cx="568.1" cy="605.5" r="0.75" fill="#f6f6f6" stroke="none" opacity="0.85"/>
<circle cx="555.6" cy="615.4" r="0.65" fill="#f6f6f6" stroke="none" opacity="1"/>
<circle cx="617.4" cy="599.6" r="0.95" fill="#f6f6f6" stroke="none" opacity="0.7"/>
<circle cx="559.4" cy="614.4" r="0.65" fill="#f6f6f6" stroke="none" opacity="1"/>
<circle cx="448.4" cy="623.4" r="0.85" fill="#f6f6f6" stroke="none" opacity="0.85"/>
<circle cx="481.6" cy="555.1" r="0.85" fill="#f6f6f6" stroke="none" opacity="0.85"/>
<circle cx="495.0" cy="645.6" r="0.95" fill="#f6f6f6" stroke="none" opacity="1"/>
<circle cx="613.2" cy="550.5" r="0.65" fill="#f6f6f6" stroke="none" opacity="1"/>
<circle cx="556.6" cy="528.0" r="0.85" fill="#f6f6f6" stroke="none" opacity="0.7"/>
<circle cx="492.7" cy="574.1" r="0.65" fill="#f6f6f6" stroke="none" opacity="1"/>
<circle cx="513.4" cy="647.0" r="0.75" fill="#f6f6f6" stroke="none" opacity="0.7"/>
<circle cx="593.9" cy="537.0" r="0.55" fill="#f6f6f6" stroke="none" opacity="1"/>
<circle cx="628.0" cy="588.2" r="0.95" fill="#f6f6f6" stroke="none" opacity="1"/>
<circle cx="457.5" cy="576.7" r="0.75" fill="#f6f6f6" stroke="none" opacity="0.7"/>
<circle cx="455.0" cy="634.9" r="0.75" fill="#f6f6f6" stroke="none" opacity="1"/>
<circle cx="440.1" cy="642.7" r="0.55" fill="#f6f6f6" stroke="none" opacity="0.7"/>
<circle cx="520.2" cy="538.7" r="0.55" fill="#f6f6f6" stroke="none" opacity="1"/>
<circle cx="578.1" cy="560.9" r="0.65" fill="#f6f6f6" stroke="none" opacity="0.85"/>
<circle cx="604.5" cy="622.3" r="0.55" fill="#f6f6f6" stroke="none" opacity="0.85"/>
<circle cx="513.7" cy="591.6" r="0.65" fill="#f6f6f6" stroke="none" opacity="1"/>
<circle cx="586.9" cy="625.5" r="0.75" fill="#f6f6f6" stroke="none" opacity="1"/>
<circle cx="489.3" cy="591.8" r="0.65" fill="#f6f6f6" stroke="none" opacity="0.85"/>
<circle cx="541.6" cy="529.2" r="0.65" fill="#f6f6f6" stroke="none" opacity="0.7"/>
<circle cx="534.2" cy="598.1" r="0.55" fill="#f6f6f6" stroke="none" opacity="0.7"/>
<circle cx="464.4" cy="643.5" r="0.65" fill="#f6f6f6" stroke="none" opacity="0.7"/>
<circle cx="499.6" cy="577.8" r="0.75" fill="#f6f6f6" stroke="none" opacity="1"/>
<circle cx="480.8" cy="590.1" r="0.75" fill="#f6f6f6" stroke="none" opacity="0.85"/>
<circle cx="603.2" cy="597.1" r="0.75" fill="#f6f6f6" stroke="none" opacity="0.7"/>
<circle cx="484.1" cy="618.7" r="0.75" fill="#f6f6f6" stroke="none" opacity="1"/>
<circle cx="553.6" cy="575.1" r="0.95" fill="#f6f6f6" stroke="none" opacity="0.85"/>
<circle cx="533.6" cy="624.0" r="0.85" fill="#f6f6f6" stroke="none" opacity="0.85"/>
<circle cx="561.0" cy="525.0" r="0.75" fill="#f6f6f6" stroke="none" opacity="0.7"/>
<circle cx="614.9" cy="551.7" r="0.85" fill="#f6f6f6" stroke="none" opacity="1"/>
<circle cx="517.5" cy="648.6" r="0.55" fill="#f6f6f6" stroke="none" opacity="0.85"/>
<circle cx="549.2" cy="564.9" r="0.95" fill="#f6f6f6" stroke="none" opacity="0.7"/>
<circle cx="609.6" cy="565.2" r="0.75" fill="#f6f6f6" stroke="none" opacity="1"/>
<circle cx="583.0" cy="530.7" r="0.65" fill="#f6f6f6" stroke="none" opacity="1"/>
<circle cx="516.2" cy="598.7" r="0.65" fill="#f6f6f6" stroke="none" opacity="0.7"/>
<circle cx="610.6" cy="628.0" r="0.65" fill="#f6f6f6" stroke="none" opacity="0.85"/>
<circle cx="625.3" cy="603.1" r="0.85" fill="#f6f6f6" stroke="none" opacity="0.7"/>
<circle cx="548.0" cy="613.3" r="0.55" fill="#f6f6f6" stroke="none" opacity="0.7"/>
<circle cx="611.9" cy="601.7" r="0.95" fill="#f6f6f6" stroke="none" opacity="1"/>
<circle cx="506.0" cy="599.3" r="0.75" fill="#f6f6f6" stroke="none" opacity="0.7"/>
<circle cx="489.1" cy="636.8" r="0.75" fill="#f6f6f6" stroke="none" opacity="0.85"/>
<circle cx="477.8" cy="537.9" r="0.95" fill="#f6f6f6" stroke="none" opacity="1"/>
<circle cx="503.7" cy="598.7" r="0.65" fill="#f6f6f6" stroke="none" opacity="0.7"/>
<circle cx="503.8" cy="650.0" r="0.95" fill="#f6f6f6" stroke="none" opacity="0.7"/>
<circle cx="453.3" cy="571.2" r="0.55" fill="#f6f6f6" stroke="none" opacity="0.85"/>
<circle cx="606.6" cy="575.3" r="0.75" fill="#f6f6f6" stroke="none" opacity="0.85"/>
<circle cx="497.1" cy="596.3" r="0.95" fill="#f6f6f6" stroke="none" opacity="1"/>
<circle cx="586.9" cy="575.4" r="0.55" fill="#f6f6f6" stroke="none" opacity="0.7"/>
<circle cx="576.1" cy="650.3" r="0.85" fill="#f6f6f6" stroke="none" opacity="0.7"/>
<circle cx="449.1" cy="641.0" r="0.55" fill="#f6f6f6" stroke="none" opacity="1"/>
<circle cx="515.0" cy="647.0" r="0.95" fill="#f6f6f6" stroke="none" opacity="0.7"/>
<circle cx="487.4" cy="551.9" r="0.95" fill="#f6f6f6" stroke="none" opacity="0.7"/>
<circle cx="561.6" cy="526.9" r="0.95" fill="#f6f6f6" stroke="none" opacity="0.7"/>
<circle cx="561.8" cy="626.3" r="0.95" fill="#f6f6f6" stroke="none" opacity="0.7"/>
<circle cx="523.0" cy="616.8" r="0.55" fill="#f6f6f6" stroke="none" opacity="0.7"/>
<circle cx="533.9" cy="546.5" r="0.85" fill="#f6f6f6" stroke="none" opacity="0.7"/>
<circle cx="439.5" cy="581.5" r="0.85" fill="#f6f6f6" stroke="none" opacity="1"/>
<circle cx="614.9" cy="550.3" r="0.85" fill="#f6f6f6" stroke="none" opacity="1"/>
<circle cx="541.0" cy="615.0" r="0.65" fill="#f6f6f6" stroke="none" opacity="0.7"/>
<circle cx="576.7" cy="565.7" r="0.65" fill="#f6f6f6" stroke="none" opacity="1"/>
<circle cx="543.2" cy="643.6" r="0.65" fill="#f6f6f6" stroke="none" opacity="1"/>
<circle cx="493.8" cy="534.4" r="0.75" fill="#f6f6f6" stroke="none" opacity="1"/>
<circle cx="437.5" cy="620.3" r="0.65" fill="#f6f6f6" stroke="none" opacity="0.85"/>
<circle cx="624.1" cy="575.1" r="0.55" fill="#f6f6f6" stroke="none" opacity="0.85"/>
<circle cx="565.7" cy="592.9" r="0.75" fill="#f6f6f6" stroke="none" opacity="0.7"/>
<circle cx="483.1" cy="646.8" r="0.65" fill="#f6f6f6" stroke="none" opacity="0.85"/>
<circle cx="488.9" cy="533.5" r="0.95" fill="#f6f6f6" stroke="none" opacity="0.85"/>
<circle cx="601.1" cy="540.4" r="0.65" fill="#f6f6f6" stroke="none" opacity="0.7"/>
<circle cx="579.5" cy="606.8" r="0.95" fill="#f6f6f6" stroke="none" opacity="0.7"/>
<circle cx="576.7" cy="619.9" r="0.95" fill="#f6f6f6" stroke="none" opacity="0.85"/>
<circle cx="569.1" cy="532.6" r="0.65" fill="#f6f6f6" stroke="none" opacity="1"/>
<circle cx="486.9" cy="596.0" r="0.85" fill="#f6f6f6" stroke="none" opacity="0.7"/>
<circle cx="593.5" cy="579.9" r="0.75" fill="#f6f6f6" stroke="none" opacity="0.7"/>
<circle cx="438.7" cy="570.1" r="0.75" fill="#f6f6f6" stroke="none" opacity="0.7"/>
<circle cx="534.4" cy="529.6" r="0.65" fill="#f6f6f6" stroke="none" opacity="1"/>
<circle cx="607.7" cy="613.5" r="0.55" fill="#f6f6f6" stroke="none" opacity="0.7"/>
<circle cx="535.5" cy="582.7" r="0.75" fill="#f6f6f6" stroke="none" opacity="0.85"/>
<circle cx="613.8" cy="567.4" r="0.95" fill="#f6f6f6" stroke="none" opacity="0.7"/>
<circle cx="584.6" cy="539.3" r="0.85" fill="#f6f6f6" stroke="none" opacity="1"/>
<circle cx="471.4" cy="649.2" r="0.95" fill="#f6f6f6" stroke="none" opacity="0.85"/>
<circle cx="494.8" cy="642.5" r="0.95" fill="#f6f6f6" stroke="none" opacity="0.85"/>
<circle cx="588.4" cy="545.7" r="0.75" fill="#f6f6f6" stroke="none" opacity="1"/>
<circle cx="448.5" cy="638.2" r="0.55" fill="#f6f6f6" stroke="none" opacity="0.85"/>
<circle cx="539.9" cy="616.0" r="0.75" fill="#f6f6f6" stroke="none" opacity="0.7"/>
<circle cx="480.3" cy="564.3" r="0.65" fill="#f6f6f6" stroke="none" opacity="1"/>
<circle cx="460.5" cy="537.7" r="0.55" fill="#f6f6f6" stroke="none" opacity="0.85"/>
<circle cx="491.9" cy="543.1" r="0.75" fill="#f6f6f6" stroke="none" opacity="1"/>
<circle cx="541.9" cy="620.1" r="0.65" fill="#f6f6f6" stroke="none" opacity="0.85"/>
<circle cx="538.3" cy="564.5" r="0.85" fill="#f6f6f6" stroke="none" opacity="0.85"/>
<circle cx="585.8" cy="606.7" r="0.55" fill="#f6f6f6" stroke="none" opacity="0.85"/>
<circle cx="589.0" cy="537.2" r="0.85" fill="#f6f6f6" stroke="none" opacity="1"/>
<circle cx="580.5" cy="637.8" r="0.65" fill="#f6f6f6" stroke="none" opacity="1"/>
<circle cx="478.2" cy="561.9" r="0.65" fill="#f6f6f6" stroke="none" opacity="0.85"/>
<circle cx="547.0" cy="543.2" r="0.75" fill="#f6f6f6" stroke="none" opacity="0.7"/>
<circle cx="507.7" cy="628.7" r="0.95" fill="#f6f6f6" stroke="none" opacity="0.7"/>
<circle cx="446.8" cy="620.3" r="0.55" fill="#f6f6f6" stroke="none" opacity="0.7"/>
<circle cx="528.7" cy="621.8" r="0.95" fill="#f6f6f6" stroke="none" opacity="0.85"/>
<circle cx="464.7" cy="650.1" r="0.65" fill="#f6f6f6" stroke="none" opacity="0.85"/>
<circle cx="473.8" cy="533.9" r="0.55" fill="#f6f6f6" stroke="none" opacity="1"/>
<circle cx="469.7" cy="573.9" r="0.65" fill="#f6f6f6" stroke="none" opacity="1"/>
<circle cx="553.4" cy="623.9" r="0.55" fill="#f6f6f6" stroke="none" opacity="0.7"/>
<circle cx="482.4" cy="619.6" r="0.75" fill="#f6f6f6" stroke="none" opacity="0.85"/>
<circle cx="465.9" cy="530.9" r="0.75" fill="#f6f6f6" stroke="none" opacity="0.7"/>
<circle cx="545.8" cy="559.1" r="0.65" fill="#f6f6f6" stroke="none" opacity="0.7"/>
<circle cx="449.9" cy="558.2" r="0.65" fill="#f6f6f6" stroke="none" opacity="1"/>
<circle cx="581.3" cy="647.8" r="0.65" fill="#f6f6f6" stroke="none" opacity="0.7"/>
<circle cx="602.6" cy="637.6" r="0.85" fill="#f6f6f6" stroke="none" opacity="0.7"/>
<circle cx="529.3" cy="540.0" r="0.95" fill="#f6f6f6" stroke="none" opacity="1"/>
<circle cx="458.2" cy="535.2" r="0.95" fill="#f6f6f6" stroke="none" opacity="0.7"/>
<circle cx="524.1" cy="527.3" r="0.85" fill="#f6f6f6" stroke="none" opacity="0.7"/>
<circle cx="435.0" cy="569.0" r="0.75" fill="#f6f6f6" stroke="none" opacity="1"/>
<circle cx="611.2" cy="579.4" r="0.65" fill="#f6f6f6" stroke="none" opacity="1"/>
<circle cx="617.1" cy="554.9" r="0.85" fill="#f6f6f6" stroke="none" opacity="1"/>
<circle cx="478.1" cy="564.9" r="0.75" fill="#f6f6f6" stroke="none" opacity="0.7"/>
<circle cx="576.5" cy="530.8" r="0.95" fill="#f6f6f6" stroke="none" opacity="0.85"/>
<circle cx="543.7" cy="557.6" r="0.75" fill="#f6f6f6" stroke="none" opacity="0.85"/>
<circle cx="521.1" cy="568.5" r="0.95" fill="#f6f6f6" stroke="none" opacity="1"/>
<circle cx="580.5" cy="530.8" r="0.75" fill="#f6f6f6" stroke="none" opacity="0.85"/>
<circle cx="600.9" cy="547.1" r="0.85" fill="#f6f6f6" stroke="none" opacity="0.7"/>
<circle cx="450.7" cy="531.2" r="0.85" fill="#f6f6f6" stroke="none" opacity="0.7"/>
<circle cx="534.7" cy="573.9" r="0.75" fill="#f6f6f6" stroke="none" opacity="0.7"/>
<circle cx="481.3" cy="573.5" r="0.85" fill="#f6f6f6" stroke="none" opacity="1"/>
<circle cx="601.6" cy="633.5" r="0.85" fill="#f6f6f6" stroke="none" opacity="0.85"/>
<circle cx="602.8" cy="544.9" r="0.75" fill="#f6f6f6" stroke="none" opacity="0.7"/>
<circle cx="599.1" cy="598.0" r="0.75" fill="#f6f6f6" stroke="none" opacity="0.85"/>
<circle cx="500.4" cy="594.4" r="0.85" fill="#f6f6f6" stroke="none" opacity="0.7"/>
<circle cx="617.6" cy="558.4" r="0.65" fill="#f6f6f6" stroke="none" opacity="0.7"/>
<circle cx="465.4" cy="562.7" r="0.95" fill="#f6f6f6" stroke="none" opacity="0.85"/>
<circle cx="582.3" cy="626.9" r="0.55" fill="#f6f6f6" stroke="none" opacity="1"/>
<circle cx="585.3" cy="533.0" r="0.85" fill="#f6f6f6" stroke="none" opacity="0.7"/>
<circle cx="530.6" cy="644.8" r="0.95" fill="#f6f6f6" stroke="none" opacity="0.7"/>
<circle cx="544.3" cy="611.4" r="0.65" fill="#f6f6f6" stroke="none" opacity="0.85"/>
<circle cx="586.6" cy="552.8" r="0.95" fill="#f6f6f6" stroke="none" opacity="1"/>
<circle cx="534.4" cy="647.2" r="0.65" fill="#f6f6f6" stroke="none" opacity="0.7"/>
<circle cx="567.5" cy="646.5" r="0.65" fill="#f6f6f6" stroke="none" opacity="0.85"/>
<circle cx="604.3" cy="557.5" r="0.75" fill="#f6f6f6" stroke="none" opacity="0.7"/>
<circle cx="475.0" cy="638.2" r="0.85" fill="#f6f6f6" stroke="none" opacity="0.7"/>
<circle cx="550.6" cy="630.1" r="0.85" fill="#f6f6f6" stroke="none" opacity="0.85"/>
<circle cx="481.4" cy="603.2" r="0.65" fill="#f6f6f6" stroke="none" opacity="0.7"/>
<circle cx="601.7" cy="626.5" r="0.95" fill="#f6f6f6" stroke="none" opacity="0.7"/>
<circle cx="546.2" cy="589.1" r="0.65" fill="#f6f6f6" stroke="none" opacity="0.7"/>
<circle cx="451.8" cy="530.2" r="0.55" fill="#f6f6f6" stroke="none" opacity="1"/>
<circle cx="524.6" cy="628.0" r="0.75" fill="#f6f6f6" stroke="none" opacity="0.7"/>
<circle cx="456.6" cy="650.8" r="0.85" fill="#f6f6f6" stroke="none" opacity="0.85"/>
<circle cx="480.4" cy="639.6" r="0.95" fill="#f6f6f6" stroke="none" opacity="0.85"/>
<circle cx="491.1" cy="601.7" r="0.65" fill="#f6f6f6" stroke="none" opacity="0.85"/>
<circle cx="469.0" cy="562.2" r="0.55" fill="#f6f6f6" stroke="none" opacity="1"/>
<circle cx="445.6" cy="570.7" r="0.75" fill="#f6f6f6" stroke="none" opacity="0.85"/>
<circle cx="597.4" cy="632.7" r="0.75" fill="#f6f6f6" stroke="none" opacity="0.85"/>
<circle cx="558.5" cy="568.9" r="0.95" fill="#f6f6f6" stroke="none" opacity="0.7"/>
<circle cx="504.5" cy="600.6" r="0.95" fill="#f6f6f6" stroke="none" opacity="0.85"/>
<path d="M573.7,598.7 L607.7,632.7 L610.4,630.0 L576.4,596.0" stroke-width="1.83" fill="#19191c" />
<path d="M555.4,596.0 L521.4,630.0 L524.1,632.7 L558.1,598.7" stroke-width="1.83" fill="#19191c" />
<path d="M558.1,577.7 L524.1,543.7 L521.4,546.4 L555.4,580.4" stroke-width="1.83" fill="#19191c" />
<path d="M576.4,580.4 L610.4,546.4 L607.7,543.7 L573.7,577.7" stroke-width="1.83" fill="#19191c" />
<circle cx="565.9" cy="588.2" r="13.4" stroke-width="2.32" fill="#19191c" />
<circle cx="565.9" cy="588.2" r="7.8" stroke-width="2.2" fill="none" />
<circle cx="565.9" cy="588.2" r="1.2" stroke-width="0.98" fill="#f6f6f6" />
<line x1="579.3" y1="588.7" x2="630.7" y2="588.7" stroke-width="1.71" />
<rect x="484.5" y="658" width="77" height="111" fill="#f6f6f6" stroke="none"/>
<path d="M490.5,660.2 L490.7,662.9 L488.3,664.7 L485.5,663.9 L483.8,661.7 L485.0,659.1 L488.2,658.3 Z" fill="#0c0c0e" stroke="#0c0c0e" stroke-width="0.7" stroke-linejoin="round"/>
<path d="M498.3,663.0 L495.4,664.4 L492.8,663.0 L490.9,660.7 L492.9,658.1 L496.2,658.0 L498.5,660.1 Z" fill="#0c0c0e" stroke="#0c0c0e" stroke-width="0.7" stroke-linejoin="round"/>
<path d="M500.4,660.1 L501.9,658.0 L504.7,657.9 L506.4,659.8 L506.3,662.3 L503.6,663.6 L500.5,662.8 Z" fill="#0c0c0e" stroke="#0c0c0e" stroke-width="0.7" stroke-linejoin="round"/>
<path d="M508.7,661.8 L510.2,659.4 L513.2,658.9 L516.1,660.2 L516.1,663.3 L513.3,665.1 L510.1,664.4 Z" fill="#0c0c0e" stroke="#0c0c0e" stroke-width="0.7" stroke-linejoin="round"/>
<path d="M519.6,663.6 L516.8,662.4 L517.2,659.6 L519.5,657.6 L522.5,658.6 L524.4,661.0 L522.7,663.7 Z" fill="#0c0c0e" stroke="#0c0c0e" stroke-width="0.7" stroke-linejoin="round"/>
<path d="M531.0,659.3 L531.9,662.1 L529.2,663.8 L526.4,663.2 L524.3,661.3 L525.3,658.5 L528.4,658.0 Z" fill="#0c0c0e" stroke="#0c0c0e" stroke-width="0.7" stroke-linejoin="round"/>
<path d="M540.2,660.4 L538.9,662.9 L536.5,664.1 L534.0,662.9 L533.5,660.6 L534.8,658.1 L537.9,658.6 Z" fill="#0c0c0e" stroke="#0c0c0e" stroke-width="0.7" stroke-linejoin="round"/>
<path d="M547.1,664.5 L544.1,663.8 L542.0,661.9 L543.4,659.5 L546.0,658.3 L548.4,659.8 L548.9,662.3 Z" fill="#0c0c0e" stroke="#0c0c0e" stroke-width="0.7" stroke-linejoin="round"/>
<path d="M553.5,665.4 L551.8,663.0 L551.9,660.5 L554.4,658.7 L557.5,659.8 L558.0,662.4 L557.0,665.2 Z" fill="#0c0c0e" stroke="#0c0c0e" stroke-width="0.7" stroke-linejoin="round"/>
<path d="M562.1,658.1 L564.5,659.5 L564.5,662.0 L562.6,663.6 L559.6,663.7 L558.4,661.3 L559.1,658.7 Z" fill="#0c0c0e" stroke="#0c0c0e" stroke-width="0.7" stroke-linejoin="round"/>
<path d="M494.8,667.9 L494.3,670.6 L491.5,672.2 L488.9,670.6 L488.2,668.2 L489.5,665.6 L492.9,665.6 Z" fill="#0c0c0e" stroke="#0c0c0e" stroke-width="0.7" stroke-linejoin="round"/>
<path d="M499.1,664.6 L501.8,666.3 L503.4,668.7 L501.4,671.2 L498.0,671.2 L496.1,669.1 L496.8,666.6 Z" fill="#0c0c0e" stroke="#0c0c0e" stroke-width="0.7" stroke-linejoin="round"/>
<path d="M507.6,673.0 L504.9,671.7 L503.4,669.2 L505.4,666.9 L508.5,667.0 L510.3,668.9 L510.4,671.6 Z" fill="#0c0c0e" stroke="#0c0c0e" stroke-width="0.7" stroke-linejoin="round"/>
<path d="M512.0,667.0 L514.5,665.2 L517.5,665.8 L519.6,668.0 L517.9,670.3 L515.2,670.9 L512.8,669.7 Z" fill="#0c0c0e" stroke="#0c0c0e" stroke-width="0.7" stroke-linejoin="round"/>
<path d="M526.2,670.6 L523.2,670.8 L521.6,668.6 L522.0,666.1 L524.6,664.4 L527.8,665.6 L528.3,668.6 Z" fill="#0c0c0e" stroke="#0c0c0e" stroke-width="0.7" stroke-linejoin="round"/>
<path d="M535.4,671.0 L532.9,671.6 L529.9,670.5 L530.0,667.6 L532.5,665.5 L535.3,666.8 L537.2,668.9 Z" fill="#0c0c0e" stroke="#0c0c0e" stroke-width="0.7" stroke-linejoin="round"/>
<path d="M539.6,672.5 L538.3,669.9 L538.5,667.3 L541.3,665.9 L544.4,667.0 L545.1,670.0 L543.1,672.2 Z" fill="#0c0c0e" stroke="#0c0c0e" stroke-width="0.7" stroke-linejoin="round"/>
<path d="M548.0,672.3 L546.3,669.8 L547.7,667.0 L550.9,666.6 L553.7,668.0 L553.9,671.0 L551.2,672.7 Z" fill="#0c0c0e" stroke="#0c0c0e" stroke-width="0.7" stroke-linejoin="round"/>
<path d="M555.1,667.0 L557.8,665.9 L560.8,666.2 L562.3,668.8 L560.5,671.4 L557.1,671.8 L555.1,669.7 Z" fill="#0c0c0e" stroke="#0c0c0e" stroke-width="0.7" stroke-linejoin="round"/>
<path d="M484.3,677.5 L485.3,674.9 L487.4,672.9 L490.0,674.3 L491.6,676.5 L490.0,678.8 L487.0,679.0 Z" fill="#0c0c0e" stroke="#0c0c0e" stroke-width="0.7" stroke-linejoin="round"/>
<path d="M493.2,673.8 L496.3,673.2 L498.7,674.5 L499.4,676.9 L497.7,679.1 L494.7,678.6 L493.0,676.6 Z" fill="#0c0c0e" stroke="#0c0c0e" stroke-width="0.7" stroke-linejoin="round"/>
<path d="M501.2,677.7 L502.0,674.9 L504.4,673.2 L507.1,674.3 L508.4,676.7 L507.1,679.3 L503.7,679.8 Z" fill="#0c0c0e" stroke="#0c0c0e" stroke-width="0.7" stroke-linejoin="round"/>
<path d="M510.2,674.4 L512.7,673.1 L515.6,673.6 L517.1,676.1 L515.4,678.7 L512.1,679.1 L509.4,677.2 Z" fill="#0c0c0e" stroke="#0c0c0e" stroke-width="0.7" stroke-linejoin="round"/>
<path d="M517.1,676.3 L517.5,673.9 L520.0,672.4 L522.9,673.2 L523.8,675.9 L522.0,678.0 L518.9,678.7 Z" fill="#0c0c0e" stroke="#0c0c0e" stroke-width="0.7" stroke-linejoin="round"/>
<path d="M532.7,677.2 L530.8,679.4 L528.0,678.1 L526.2,675.9 L527.8,673.5 L530.8,673.1 L533.5,674.6 Z" fill="#0c0c0e" stroke="#0c0c0e" stroke-width="0.7" stroke-linejoin="round"/>
<path d="M533.4,676.1 L533.1,673.4 L536.1,672.5 L538.7,673.5 L539.4,675.8 L538.1,678.2 L535.0,678.2 Z" fill="#0c0c0e" stroke="#0c0c0e" stroke-width="0.7" stroke-linejoin="round"/>
<path d="M547.3,673.1 L549.4,675.4 L548.6,678.0 L546.2,679.5 L543.5,678.4 L542.9,676.1 L544.0,673.7 Z" fill="#0c0c0e" stroke="#0c0c0e" stroke-width="0.7" stroke-linejoin="round"/>
<path d="M553.9,678.4 L551.1,677.1 L551.0,674.3 L553.2,672.4 L556.5,672.6 L557.8,675.2 L557.0,677.9 Z" fill="#0c0c0e" stroke="#0c0c0e" stroke-width="0.7" stroke-linejoin="round"/>
<path d="M566.5,673.9 L565.8,676.5 L563.7,678.3 L560.6,677.8 L559.0,675.2 L560.9,672.9 L563.9,672.2 Z" fill="#0c0c0e" stroke="#0c0c0e" stroke-width="0.7" stroke-linejoin="round"/>
<path d="M495.7,682.9 L495.5,685.7 L492.8,686.8 L489.7,686.4 L488.5,683.7 L490.3,681.3 L493.6,680.8 Z" fill="#0c0c0e" stroke="#0c0c0e" stroke-width="0.7" stroke-linejoin="round"/>
<path d="M503.4,683.8 L501.9,686.4 L498.9,687.6 L496.5,685.8 L495.5,683.1 L498.0,680.9 L501.1,681.6 Z" fill="#0c0c0e" stroke="#0c0c0e" stroke-width="0.7" stroke-linejoin="round"/>
<path d="M503.7,682.2 L506.1,680.4 L508.9,681.0 L511.2,682.8 L509.6,685.2 L507.0,686.7 L504.7,684.8 Z" fill="#0c0c0e" stroke="#0c0c0e" stroke-width="0.7" stroke-linejoin="round"/>
<path d="M518.2,686.1 L515.4,687.1 L512.8,685.5 L512.6,682.5 L515.3,680.8 L518.6,681.2 L519.7,683.9 Z" fill="#0c0c0e" stroke="#0c0c0e" stroke-width="0.7" stroke-linejoin="round"/>
<path d="M526.3,685.7 L523.5,684.8 L521.9,682.4 L523.5,679.9 L526.6,679.5 L529.3,681.2 L528.9,684.1 Z" fill="#0c0c0e" stroke="#0c0c0e" stroke-width="0.7" stroke-linejoin="round"/>
<path d="M535.0,680.3 L536.0,682.9 L535.4,685.7 L532.1,686.7 L529.6,684.7 L529.3,682.0 L531.8,680.4 Z" fill="#0c0c0e" stroke="#0c0c0e" stroke-width="0.7" stroke-linejoin="round"/>
<path d="M539.1,681.8 L541.4,679.8 L544.2,681.4 L544.9,684.0 L543.2,686.5 L539.9,686.3 L538.0,684.1 Z" fill="#0c0c0e" stroke="#0c0c0e" stroke-width="0.7" stroke-linejoin="round"/>
<path d="M546.7,681.8 L548.4,679.3 L551.9,679.4 L553.3,681.9 L552.8,684.5 L550.0,685.3 L547.3,684.4 Z" fill="#0c0c0e" stroke="#0c0c0e" stroke-width="0.7" stroke-linejoin="round"/>
<path d="M555.3,684.6 L556.3,682.3 L558.9,681.0 L562.0,682.2 L561.7,685.0 L560.0,687.4 L557.1,686.5 Z" fill="#0c0c0e" stroke="#0c0c0e" stroke-width="0.7" stroke-linejoin="round"/>
<path d="M485.6,687.4 L488.5,687.5 L490.5,689.6 L489.2,692.0 L486.7,693.5 L484.3,691.8 L483.4,689.3 Z" fill="#0c0c0e" stroke="#0c0c0e" stroke-width="0.7" stroke-linejoin="round"/>
<path d="M491.9,689.5 L493.7,687.4 L496.7,687.3 L498.8,689.3 L497.9,691.8 L495.4,692.9 L492.5,692.2 Z" fill="#0c0c0e" stroke="#0c0c0e" stroke-width="0.7" stroke-linejoin="round"/>
<path d="M506.6,688.1 L508.3,690.6 L506.5,692.9 L503.7,694.1 L500.9,692.4 L500.7,689.4 L503.5,687.9 Z" fill="#0c0c0e" stroke="#0c0c0e" stroke-width="0.7" stroke-linejoin="round"/>
<path d="M512.8,695.1 L509.5,694.2 L508.9,691.5 L510.0,689.2 L513.0,688.3 L515.0,690.3 L514.8,692.8 Z" fill="#0c0c0e" stroke="#0c0c0e" stroke-width="0.7" stroke-linejoin="round"/>
<path d="M522.1,687.8 L524.5,689.3 L524.7,692.1 L522.0,693.2 L519.3,692.7 L517.6,690.5 L518.9,687.7 Z" fill="#0c0c0e" stroke="#0c0c0e" stroke-width="0.7" stroke-linejoin="round"/>
<path d="M526.1,689.8 L527.8,687.4 L530.9,686.7 L532.9,688.8 L532.7,691.2 L530.5,692.6 L527.9,692.0 Z" fill="#0c0c0e" stroke="#0c0c0e" stroke-width="0.7" stroke-linejoin="round"/>
<path d="M534.5,689.6 L536.6,688.0 L539.4,688.5 L541.3,690.7 L540.0,693.5 L536.6,694.2 L534.6,692.0 Z" fill="#0c0c0e" stroke="#0c0c0e" stroke-width="0.7" stroke-linejoin="round"/>
<path d="M541.0,692.4 L542.1,689.8 L544.7,688.5 L547.5,689.6 L548.1,692.2 L546.4,694.5 L543.4,694.0 Z" fill="#0c0c0e" stroke="#0c0c0e" stroke-width="0.7" stroke-linejoin="round"/>
<path d="M555.8,694.2 L552.6,694.4 L550.9,692.0 L551.8,689.6 L554.4,688.6 L557.1,689.5 L557.3,692.0 Z" fill="#0c0c0e" stroke="#0c0c0e" stroke-width="0.7" stroke-linejoin="round"/>
<path d="M561.9,688.0 L565.1,688.6 L566.4,691.1 L565.5,693.7 L562.4,694.4 L559.4,693.1 L559.4,690.0 Z" fill="#0c0c0e" stroke="#0c0c0e" stroke-width="0.7" stroke-linejoin="round"/>
<path d="M491.0,695.4 L494.1,696.6 L494.5,699.4 L493.0,701.9 L489.5,702.0 L487.5,699.7 L488.0,696.8 Z" fill="#0c0c0e" stroke="#0c0c0e" stroke-width="0.7" stroke-linejoin="round"/>
<path d="M499.9,695.1 L502.7,695.6 L504.0,698.0 L502.2,700.0 L499.5,700.7 L497.0,699.1 L497.2,696.3 Z" fill="#0c0c0e" stroke="#0c0c0e" stroke-width="0.7" stroke-linejoin="round"/>
<path d="M506.0,696.3 L509.0,695.8 L511.1,697.9 L510.7,700.7 L507.9,701.9 L504.7,701.4 L504.0,698.4 Z" fill="#0c0c0e" stroke="#0c0c0e" stroke-width="0.7" stroke-linejoin="round"/>
<path d="M519.9,698.2 L519.6,700.8 L516.5,701.9 L514.1,700.1 L513.6,697.6 L515.8,696.0 L518.6,696.1 Z" fill="#0c0c0e" stroke="#0c0c0e" stroke-width="0.7" stroke-linejoin="round"/>
<path d="M524.5,700.7 L521.7,699.2 L521.1,696.5 L522.8,694.0 L526.1,694.3 L528.6,696.4 L527.4,699.2 Z" fill="#0c0c0e" stroke="#0c0c0e" stroke-width="0.7" stroke-linejoin="round"/>
<path d="M530.6,695.2 L533.5,694.5 L536.7,694.8 L536.9,697.6 L535.4,699.9 L532.5,699.8 L530.3,698.0 Z" fill="#0c0c0e" stroke="#0c0c0e" stroke-width="0.7" stroke-linejoin="round"/>
<path d="M544.9,696.1 L544.7,698.8 L542.1,700.3 L539.2,699.3 L538.3,696.8 L539.6,694.4 L542.8,694.1 Z" fill="#0c0c0e" stroke="#0c0c0e" stroke-width="0.7" stroke-linejoin="round"/>
<path d="M548.4,701.0 L546.2,699.5 L546.6,697.1 L548.8,695.7 L551.8,695.9 L552.7,698.6 L551.6,701.3 Z" fill="#0c0c0e" stroke="#0c0c0e" stroke-width="0.7" stroke-linejoin="round"/>
<path d="M562.5,696.8 L560.6,699.1 L557.9,700.6 L555.5,698.6 L555.2,696.0 L557.3,693.7 L560.4,694.7 Z" fill="#0c0c0e" stroke="#0c0c0e" stroke-width="0.7" stroke-linejoin="round"/>
<path d="M486.9,703.1 L490.2,703.5 L491.4,706.3 L489.7,708.8 L486.7,708.8 L484.1,707.4 L484.5,704.7 Z" fill="#0c0c0e" stroke="#0c0c0e" stroke-width="0.7" stroke-linejoin="round"/>
<path d="M492.1,703.9 L493.5,701.7 L496.7,701.4 L498.6,703.6 L497.9,706.1 L495.4,707.6 L492.6,706.4 Z" fill="#0c0c0e" stroke="#0c0c0e" stroke-width="0.7" stroke-linejoin="round"/>
<path d="M508.7,705.3 L507.1,707.9 L504.0,708.2 L501.8,706.6 L501.0,703.9 L503.7,702.1 L506.9,702.8 Z" fill="#0c0c0e" stroke="#0c0c0e" stroke-width="0.7" stroke-linejoin="round"/>
<path d="M510.7,701.9 L513.8,702.0 L515.8,704.2 L515.0,707.0 L512.0,707.7 L509.5,706.6 L508.2,703.9 Z" fill="#0c0c0e" stroke="#0c0c0e" stroke-width="0.7" stroke-linejoin="round"/>
<path d="M524.5,706.7 L522.9,708.7 L519.9,708.8 L517.9,706.7 L519.1,704.3 L521.6,702.9 L524.0,704.4 Z" fill="#0c0c0e" stroke="#0c0c0e" stroke-width="0.7" stroke-linejoin="round"/>
<path d="M524.7,704.6 L527.0,702.8 L530.0,703.0 L531.4,705.3 L530.6,707.7 L527.8,709.0 L524.9,707.6 Z" fill="#0c0c0e" stroke="#0c0c0e" stroke-width="0.7" stroke-linejoin="round"/>
<path d="M537.8,701.5 L540.1,703.5 L539.1,706.1 L536.7,707.6 L534.0,706.5 L532.6,704.0 L534.7,701.9 Z" fill="#0c0c0e" stroke="#0c0c0e" stroke-width="0.7" stroke-linejoin="round"/>
<path d="M544.3,709.1 L542.2,706.9 L542.8,704.0 L546.0,703.2 L548.6,704.5 L548.9,707.0 L547.5,709.5 Z" fill="#0c0c0e" stroke="#0c0c0e" stroke-width="0.7" stroke-linejoin="round"/>
<path d="M549.8,703.2 L552.0,701.3 L555.0,702.1 L556.9,704.3 L555.1,706.5 L552.5,707.3 L549.8,706.0 Z" fill="#0c0c0e" stroke="#0c0c0e" stroke-width="0.7" stroke-linejoin="round"/>
<path d="M560.8,701.6 L563.6,702.7 L564.5,705.1 L563.3,707.4 L560.3,708.1 L558.2,706.0 L558.6,703.5 Z" fill="#0c0c0e" stroke="#0c0c0e" stroke-width="0.7" stroke-linejoin="round"/>
<path d="M495.5,711.0 L495.7,714.1 L493.0,715.7 L489.8,715.5 L488.7,712.9 L489.8,710.5 L492.6,709.7 Z" fill="#0c0c0e" stroke="#0c0c0e" stroke-width="0.7" stroke-linejoin="round"/>
<path d="M500.8,716.4 L498.1,715.3 L497.4,712.8 L499.2,710.7 L502.2,710.6 L503.9,712.7 L503.6,715.4 Z" fill="#0c0c0e" stroke="#0c0c0e" stroke-width="0.7" stroke-linejoin="round"/>
<path d="M510.7,709.9 L512.0,712.3 L511.6,715.0 L508.4,716.2 L506.0,714.3 L505.9,711.8 L507.5,709.7 Z" fill="#0c0c0e" stroke="#0c0c0e" stroke-width="0.7" stroke-linejoin="round"/>
<path d="M520.2,712.0 L519.6,714.9 L516.6,715.5 L513.7,714.7 L512.8,711.9 L515.3,710.3 L518.0,710.3 Z" fill="#0c0c0e" stroke="#0c0c0e" stroke-width="0.7" stroke-linejoin="round"/>
<path d="M528.5,715.1 L525.7,716.2 L522.6,715.8 L521.6,713.1 L523.4,711.0 L526.3,710.7 L528.9,712.2 Z" fill="#0c0c0e" stroke="#0c0c0e" stroke-width="0.7" stroke-linejoin="round"/>
<path d="M530.5,715.0 L529.2,712.3 L531.5,710.1 L534.7,710.3 L536.7,712.4 L536.1,715.2 L533.1,716.5 Z" fill="#0c0c0e" stroke="#0c0c0e" stroke-width="0.7" stroke-linejoin="round"/>
<path d="M543.9,709.5 L546.1,711.7 L545.2,714.6 L542.1,715.9 L539.0,714.5 L538.3,711.5 L540.7,709.4 Z" fill="#0c0c0e" stroke="#0c0c0e" stroke-width="0.7" stroke-linejoin="round"/>
<path d="M550.9,710.1 L553.0,712.0 L552.5,714.5 L550.2,716.4 L546.9,715.6 L546.3,712.7 L548.0,710.6 Z" fill="#0c0c0e" stroke="#0c0c0e" stroke-width="0.7" stroke-linejoin="round"/>
<path d="M556.3,715.9 L554.6,713.5 L554.4,711.1 L556.8,709.7 L559.8,710.0 L561.3,712.6 L559.3,714.7 Z" fill="#0c0c0e" stroke="#0c0c0e" stroke-width="0.7" stroke-linejoin="round"/>
<path d="M483.2,718.0 L486.2,717.2 L488.8,717.8 L489.8,720.0 L488.5,722.2 L485.7,722.6 L483.1,721.0 Z" fill="#0c0c0e" stroke="#0c0c0e" stroke-width="0.7" stroke-linejoin="round"/>
<path d="M497.3,722.0 L494.5,721.8 L492.2,720.0 L493.4,717.4 L496.1,716.2 L499.1,717.3 L499.4,720.2 Z" fill="#0c0c0e" stroke="#0c0c0e" stroke-width="0.7" stroke-linejoin="round"/>
<path d="M506.5,719.1 L507.0,721.8 L504.9,724.1 L501.7,723.3 L500.4,720.9 L501.5,718.7 L504.2,717.1 Z" fill="#0c0c0e" stroke="#0c0c0e" stroke-width="0.7" stroke-linejoin="round"/>
<path d="M509.5,719.1 L511.4,717.1 L514.6,716.3 L516.6,718.8 L515.7,721.3 L513.2,722.3 L510.4,721.7 Z" fill="#0c0c0e" stroke="#0c0c0e" stroke-width="0.7" stroke-linejoin="round"/>
<path d="M519.6,717.3 L522.4,718.3 L523.6,720.5 L522.6,722.8 L519.7,723.3 L516.9,722.0 L517.2,719.2 Z" fill="#0c0c0e" stroke="#0c0c0e" stroke-width="0.7" stroke-linejoin="round"/>
<path d="M528.9,724.0 L526.6,722.4 L525.6,719.8 L528.2,718.4 L531.3,718.0 L533.2,720.5 L532.1,723.3 Z" fill="#0c0c0e" stroke="#0c0c0e" stroke-width="0.7" stroke-linejoin="round"/>
<path d="M535.8,716.7 L538.7,717.0 L540.0,719.5 L539.0,722.3 L535.6,722.6 L532.9,720.9 L533.5,718.1 Z" fill="#0c0c0e" stroke="#0c0c0e" stroke-width="0.7" stroke-linejoin="round"/>
<path d="M548.9,718.4 L549.8,721.0 L547.1,722.5 L544.2,722.4 L542.6,720.0 L544.0,717.7 L546.8,716.3 Z" fill="#0c0c0e" stroke="#0c0c0e" stroke-width="0.7" stroke-linejoin="round"/>
<path d="M556.5,720.9 L554.2,722.6 L551.1,722.1 L550.1,719.4 L551.3,716.9 L554.3,716.8 L556.7,718.3 Z" fill="#0c0c0e" stroke="#0c0c0e" stroke-width="0.7" stroke-linejoin="round"/>
<path d="M563.9,718.0 L565.1,720.4 L564.7,722.8 L561.9,724.2 L559.5,722.5 L558.6,720.0 L560.8,718.0 Z" fill="#0c0c0e" stroke="#0c0c0e" stroke-width="0.7" stroke-linejoin="round"/>
<path d="M491.6,725.5 L494.1,727.0 L493.5,729.7 L491.1,731.2 L488.1,730.5 L487.3,727.9 L488.7,725.7 Z" fill="#0c0c0e" stroke="#0c0c0e" stroke-width="0.7" stroke-linejoin="round"/>
<path d="M499.6,730.4 L496.6,729.5 L496.4,726.8 L498.1,724.3 L501.4,724.7 L503.4,726.9 L502.2,729.5 Z" fill="#0c0c0e" stroke="#0c0c0e" stroke-width="0.7" stroke-linejoin="round"/>
<path d="M510.8,728.5 L508.1,729.6 L505.5,727.9 L505.9,725.2 L508.0,723.4 L511.3,723.7 L512.5,726.3 Z" fill="#0c0c0e" stroke="#0c0c0e" stroke-width="0.7" stroke-linejoin="round"/>
<path d="M517.4,729.0 L514.6,729.6 L512.8,727.6 L512.2,724.8 L515.2,723.6 L518.1,724.4 L519.4,726.9 Z" fill="#0c0c0e" stroke="#0c0c0e" stroke-width="0.7" stroke-linejoin="round"/>
<path d="M522.8,729.8 L521.9,727.3 L523.9,725.5 L526.7,725.0 L529.0,727.0 L528.6,730.0 L525.5,731.2 Z" fill="#0c0c0e" stroke="#0c0c0e" stroke-width="0.7" stroke-linejoin="round"/>
<path d="M536.8,727.8 L535.2,730.0 L532.2,730.5 L530.5,728.3 L530.5,725.8 L533.0,724.3 L536.2,725.0 Z" fill="#0c0c0e" stroke="#0c0c0e" stroke-width="0.7" stroke-linejoin="round"/>
<path d="M544.1,730.3 L540.8,730.8 L538.7,728.5 L539.1,725.9 L541.6,724.3 L544.3,725.4 L545.8,727.7 Z" fill="#0c0c0e" stroke="#0c0c0e" stroke-width="0.7" stroke-linejoin="round"/>
<path d="M549.8,723.9 L552.7,725.0 L554.7,727.2 L553.0,729.8 L549.9,730.0 L547.9,728.4 L547.7,726.0 Z" fill="#0c0c0e" stroke="#0c0c0e" stroke-width="0.7" stroke-linejoin="round"/>
<path d="M556.2,730.7 L554.8,728.1 L555.5,725.5 L558.3,724.8 L561.5,725.5 L561.2,728.3 L559.7,730.8 Z" fill="#0c0c0e" stroke="#0c0c0e" stroke-width="0.7" stroke-linejoin="round"/>
<path d="M484.5,733.5 L486.4,731.3 L489.9,731.7 L491.5,734.4 L490.1,737.0 L487.1,737.4 L484.2,736.3 Z" fill="#0c0c0e" stroke="#0c0c0e" stroke-width="0.7" stroke-linejoin="round"/>
<path d="M495.6,738.5 L492.5,737.6 L492.2,734.8 L493.6,732.5 L496.6,732.8 L498.3,734.5 L498.0,736.9 Z" fill="#0c0c0e" stroke="#0c0c0e" stroke-width="0.7" stroke-linejoin="round"/>
<path d="M503.2,732.9 L506.3,732.2 L508.7,734.2 L508.0,736.9 L505.5,738.6 L502.4,737.8 L502.0,735.1 Z" fill="#0c0c0e" stroke="#0c0c0e" stroke-width="0.7" stroke-linejoin="round"/>
<path d="M513.9,736.8 L511.0,737.6 L508.9,735.7 L508.6,733.1 L511.1,731.6 L514.1,731.9 L515.2,734.4 Z" fill="#0c0c0e" stroke="#0c0c0e" stroke-width="0.7" stroke-linejoin="round"/>
<path d="M519.5,731.1 L522.6,730.3 L524.5,732.7 L523.9,735.4 L521.2,736.6 L518.2,735.7 L517.3,733.0 Z" fill="#0c0c0e" stroke="#0c0c0e" stroke-width="0.7" stroke-linejoin="round"/>
<path d="M525.4,735.3 L526.8,732.5 L530.0,731.6 L532.5,733.4 L532.8,736.1 L530.6,738.0 L527.3,737.9 Z" fill="#0c0c0e" stroke="#0c0c0e" stroke-width="0.7" stroke-linejoin="round"/>
<path d="M533.7,736.0 L534.3,733.2 L536.7,731.9 L539.8,732.0 L541.3,734.6 L539.7,737.2 L536.5,737.7 Z" fill="#0c0c0e" stroke="#0c0c0e" stroke-width="0.7" stroke-linejoin="round"/>
<path d="M543.5,732.6 L545.8,731.3 L548.6,732.0 L549.6,734.5 L547.9,736.7 L545.0,736.6 L542.5,735.1 Z" fill="#0c0c0e" stroke="#0c0c0e" stroke-width="0.7" stroke-linejoin="round"/>
<path d="M552.8,736.8 L550.8,734.9 L551.4,732.5 L553.6,730.5 L556.9,731.5 L557.7,734.4 L556.0,737.0 Z" fill="#0c0c0e" stroke="#0c0c0e" stroke-width="0.7" stroke-linejoin="round"/>
<path d="M562.7,738.4 L559.6,737.5 L558.0,734.9 L560.2,732.9 L563.1,731.8 L564.9,734.0 L565.2,736.6 Z" fill="#0c0c0e" stroke="#0c0c0e" stroke-width="0.7" stroke-linejoin="round"/>
<path d="M492.6,743.7 L489.9,742.7 L489.5,740.3 L490.6,737.7 L494.1,737.7 L495.8,740.0 L495.2,742.6 Z" fill="#0c0c0e" stroke="#0c0c0e" stroke-width="0.7" stroke-linejoin="round"/>
<path d="M504.0,741.6 L501.6,743.5 L498.6,743.8 L496.2,741.8 L496.8,738.7 L500.0,737.8 L502.5,739.0 Z" fill="#0c0c0e" stroke="#0c0c0e" stroke-width="0.7" stroke-linejoin="round"/>
<path d="M510.4,740.9 L511.6,743.5 L509.2,745.4 L506.2,745.4 L504.6,743.2 L504.7,740.4 L507.9,739.0 Z" fill="#0c0c0e" stroke="#0c0c0e" stroke-width="0.7" stroke-linejoin="round"/>
<path d="M517.3,745.3 L514.3,744.4 L512.8,742.5 L513.1,739.8 L516.2,739.1 L519.2,740.1 L519.7,743.1 Z" fill="#0c0c0e" stroke="#0c0c0e" stroke-width="0.7" stroke-linejoin="round"/>
<path d="M523.9,737.7 L527.1,738.5 L528.3,740.7 L527.5,743.1 L524.9,744.0 L522.0,742.9 L522.2,740.1 Z" fill="#0c0c0e" stroke="#0c0c0e" stroke-width="0.7" stroke-linejoin="round"/>
<path d="M530.5,738.3 L533.7,738.4 L536.0,740.3 L535.8,743.2 L532.8,744.5 L530.1,743.3 L529.1,740.9 Z" fill="#0c0c0e" stroke="#0c0c0e" stroke-width="0.7" stroke-linejoin="round"/>
<path d="M541.6,745.4 L539.5,743.5 L538.5,740.8 L541.3,739.2 L544.3,739.6 L545.8,742.0 L544.3,744.1 Z" fill="#0c0c0e" stroke="#0c0c0e" stroke-width="0.7" stroke-linejoin="round"/>
<path d="M549.9,744.8 L547.5,743.1 L546.7,740.7 L548.2,738.3 L551.3,738.8 L553.1,740.7 L552.7,743.4 Z" fill="#0c0c0e" stroke="#0c0c0e" stroke-width="0.7" stroke-linejoin="round"/>
<path d="M560.4,742.4 L559.8,744.9 L556.8,745.9 L554.4,744.1 L553.6,741.3 L556.3,739.6 L559.2,740.2 Z" fill="#0c0c0e" stroke="#0c0c0e" stroke-width="0.7" stroke-linejoin="round"/>
<path d="M485.2,751.9 L483.7,749.3 L485.4,746.9 L488.5,746.3 L491.2,747.9 L491.0,750.9 L488.4,752.5 Z" fill="#0c0c0e" stroke="#0c0c0e" stroke-width="0.7" stroke-linejoin="round"/>
<path d="M497.3,745.7 L500.0,746.9 L499.7,749.6 L497.6,751.4 L494.4,751.2 L492.8,748.6 L494.2,745.9 Z" fill="#0c0c0e" stroke="#0c0c0e" stroke-width="0.7" stroke-linejoin="round"/>
<path d="M504.2,752.2 L501.2,751.4 L500.5,749.0 L501.4,746.5 L504.6,745.9 L506.9,747.8 L507.1,750.7 Z" fill="#0c0c0e" stroke="#0c0c0e" stroke-width="0.7" stroke-linejoin="round"/>
<path d="M515.3,748.8 L513.6,751.0 L510.6,751.3 L508.6,749.4 L508.5,746.6 L511.4,745.7 L514.6,745.9 Z" fill="#0c0c0e" stroke="#0c0c0e" stroke-width="0.7" stroke-linejoin="round"/>
<path d="M521.7,746.4 L523.8,748.1 L523.8,750.6 L521.4,751.8 L518.7,751.4 L517.1,749.1 L518.7,746.7 Z" fill="#0c0c0e" stroke="#0c0c0e" stroke-width="0.7" stroke-linejoin="round"/>
<path d="M531.9,751.1 L528.9,752.1 L526.2,751.3 L525.4,749.0 L526.5,746.5 L529.8,746.0 L532.2,748.1 Z" fill="#0c0c0e" stroke="#0c0c0e" stroke-width="0.7" stroke-linejoin="round"/>
<path d="M534.3,751.1 L532.4,748.8 L534.6,746.7 L537.4,745.9 L540.0,747.6 L540.0,750.6 L537.0,751.7 Z" fill="#0c0c0e" stroke="#0c0c0e" stroke-width="0.7" stroke-linejoin="round"/>
<path d="M548.7,750.3 L547.2,752.8 L544.1,752.1 L542.1,750.2 L542.9,747.7 L545.6,746.5 L548.0,747.9 Z" fill="#0c0c0e" stroke="#0c0c0e" stroke-width="0.7" stroke-linejoin="round"/>
<path d="M553.3,746.7 L555.7,748.5 L556.1,751.0 L554.3,753.1 L551.3,752.6 L549.5,750.5 L550.0,747.7 Z" fill="#0c0c0e" stroke="#0c0c0e" stroke-width="0.7" stroke-linejoin="round"/>
<path d="M565.6,748.4 L564.1,750.7 L561.6,751.8 L558.8,750.5 L559.0,747.9 L560.8,746.0 L563.9,745.9 Z" fill="#0c0c0e" stroke="#0c0c0e" stroke-width="0.7" stroke-linejoin="round"/>
<path d="M495.0,754.5 L495.7,757.1 L494.2,759.6 L491.0,759.4 L488.6,757.5 L489.7,754.9 L492.2,753.6 Z" fill="#0c0c0e" stroke="#0c0c0e" stroke-width="0.7" stroke-linejoin="round"/>
<path d="M500.9,758.9 L498.1,759.2 L495.9,757.5 L496.5,754.9 L498.9,753.4 L502.2,754.0 L503.0,756.9 Z" fill="#0c0c0e" stroke="#0c0c0e" stroke-width="0.7" stroke-linejoin="round"/>
<path d="M506.6,757.6 L505.2,755.3 L507.3,753.2 L510.2,753.1 L511.8,755.0 L511.6,757.4 L509.1,758.7 Z" fill="#0c0c0e" stroke="#0c0c0e" stroke-width="0.7" stroke-linejoin="round"/>
<path d="M515.6,754.4 L518.4,754.9 L519.5,757.3 L518.8,760.0 L515.5,760.2 L512.8,758.7 L512.9,755.8 Z" fill="#0c0c0e" stroke="#0c0c0e" stroke-width="0.7" stroke-linejoin="round"/>
<path d="M524.1,758.2 L522.6,756.0 L522.5,753.3 L525.6,752.5 L528.6,753.3 L529.1,756.2 L526.9,757.9 Z" fill="#0c0c0e" stroke="#0c0c0e" stroke-width="0.7" stroke-linejoin="round"/>
<path d="M536.0,756.6 L534.4,758.8 L531.5,758.3 L529.6,756.4 L530.2,753.9 L533.0,752.7 L535.4,754.2 Z" fill="#0c0c0e" stroke="#0c0c0e" stroke-width="0.7" stroke-linejoin="round"/>
<path d="M541.2,752.7 L544.0,753.9 L545.1,756.1 L543.7,758.3 L540.7,759.1 L538.6,757.1 L538.8,754.4 Z" fill="#0c0c0e" stroke="#0c0c0e" stroke-width="0.7" stroke-linejoin="round"/>
<path d="M549.5,758.7 L547.4,757.0 L547.7,754.6 L549.9,753.2 L552.9,753.4 L554.1,756.0 L552.7,758.6 Z" fill="#0c0c0e" stroke="#0c0c0e" stroke-width="0.7" stroke-linejoin="round"/>
<path d="M557.0,752.9 L560.2,753.4 L562.6,755.1 L562.0,757.9 L559.2,759.6 L556.0,758.3 L555.7,755.5 Z" fill="#0c0c0e" stroke="#0c0c0e" stroke-width="0.7" stroke-linejoin="round"/>
<path d="M484.7,764.2 L485.0,761.7 L487.0,759.9 L489.9,760.5 L491.3,762.9 L489.9,765.2 L487.1,765.6 Z" fill="#0c0c0e" stroke="#0c0c0e" stroke-width="0.7" stroke-linejoin="round"/>
<path d="M497.5,766.5 L494.4,766.3 L492.6,764.5 L492.8,762.0 L495.3,760.6 L497.9,761.7 L499.2,764.1 Z" fill="#0c0c0e" stroke="#0c0c0e" stroke-width="0.7" stroke-linejoin="round"/>
<path d="M503.6,761.3 L506.4,761.3 L507.9,763.5 L506.6,765.8 L504.0,766.8 L501.9,765.2 L501.2,762.7 Z" fill="#0c0c0e" stroke="#0c0c0e" stroke-width="0.7" stroke-linejoin="round"/>
<path d="M511.1,766.2 L509.6,764.2 L510.0,761.7 L512.7,760.1 L515.5,761.7 L515.8,764.4 L514.1,766.6 Z" fill="#0c0c0e" stroke="#0c0c0e" stroke-width="0.7" stroke-linejoin="round"/>
<path d="M517.0,761.3 L520.2,760.6 L523.0,761.8 L524.0,764.6 L521.6,766.8 L518.3,766.5 L516.4,764.2 Z" fill="#0c0c0e" stroke="#0c0c0e" stroke-width="0.7" stroke-linejoin="round"/>
<path d="M528.2,766.9 L525.4,765.2 L525.6,762.4 L527.7,760.1 L530.6,761.3 L532.0,763.4 L531.2,765.9 Z" fill="#0c0c0e" stroke="#0c0c0e" stroke-width="0.7" stroke-linejoin="round"/>
<path d="M540.1,763.0 L539.3,765.4 L536.7,766.3 L533.8,765.3 L533.8,762.6 L535.8,760.9 L538.7,760.7 Z" fill="#0c0c0e" stroke="#0c0c0e" stroke-width="0.7" stroke-linejoin="round"/>
<path d="M541.7,763.3 L543.0,760.8 L546.1,760.0 L548.6,761.7 L549.0,764.5 L546.5,766.6 L543.4,765.6 Z" fill="#0c0c0e" stroke="#0c0c0e" stroke-width="0.7" stroke-linejoin="round"/>
<path d="M552.1,767.6 L550.0,765.4 L550.5,762.5 L553.4,760.9 L556.5,762.2 L556.7,765.0 L555.4,767.3 Z" fill="#0c0c0e" stroke="#0c0c0e" stroke-width="0.7" stroke-linejoin="round"/>
<path d="M559.9,766.0 L558.4,763.6 L560.2,761.2 L563.2,761.1 L565.2,762.8 L565.1,765.3 L562.7,766.6 Z" fill="#0c0c0e" stroke="#0c0c0e" stroke-width="0.7" stroke-linejoin="round"/>
<rect x="484.5" y="657" width="77" height="113" fill="none" stroke-width="1.4"/>
<rect x="434.0" y="695.0" width="133.0" height="5.2" stroke-width="1.59" fill="url(#hD)" />
<rect x="434.0" y="731.6" width="133.0" height="5.2" stroke-width="1.59" fill="url(#hD)" />
<rect x="561.2" y="657.8" width="5.8" height="111.0" stroke-width="1.59" fill="url(#hD)" />
<path d="M562.6,773.2 L799.1,897.9 L801.9,892.5 L565.4,767.8 Z" stroke-width="1.83" fill="url(#hW)" />
<path d="M557.2,1102.8 L801.7,988.4 L799.3,983.4 L554.8,1097.8 Z" stroke-width="1.83" fill="#0c0c0e" />
<line x1="556.0" y1="1100.3" x2="800.5" y2="985.9" stroke-width="4.6" stroke-dasharray="1.4 2.6"/>
<path d="M798.8,890.8 L854,890.8 L854,988.7 L798.8,988.7 L798.8,975 L804.6,975 L804.6,982.8 L848.2,982.8 L848.2,896.7 L804.6,896.7 L804.6,905 L798.8,905 Z" stroke-width="1.83" fill="url(#hD)" />
<path d="M800,905.5 Q789,940.7 800,976 Q810.5,940.7 800,905.5 Z" stroke-width="1.83" fill="url(#hC)" />
<path d="M837.6,910 Q837.6,907.3 840.9,907.3 Q844.3,907.3 844.3,910 L844.3,973 Q844.3,976 840.9,976 Q837.6,976 837.6,973 Z" stroke-width="1.59" fill="#19191c" />
<line x1="840.9" y1="912.0" x2="840.9" y2="950.0" stroke-width="1.22" />
<line x1="842.8" y1="930.0" x2="842.8" y2="972.0" stroke-width="1.22" />
<line x1="445.9" y1="818.8" x2="803.6" y2="938.3" stroke-width="1.4" stroke-dasharray="46 5 2.2 5.5" stroke-dashoffset="27"/>
<line x1="445.9" y1="1058.8" x2="803.6" y2="938.3" stroke-width="1.4" stroke-dasharray="46 5 2.2 5.5" stroke-dashoffset="27"/>
<line x1="803.6" y1="938.3" x2="852.0" y2="921.0" stroke-width="1.34" />
<line x1="803.6" y1="938.3" x2="852.0" y2="955.8" stroke-width="1.34" />
<line x1="852.0" y1="921.0" x2="1065.2" y2="847.5" stroke-width="1.4" stroke-dasharray="58 5 2.2 5" stroke-dashoffset="30"/>
<line x1="852.0" y1="955.8" x2="1065.2" y2="1030.6" stroke-width="1.4" stroke-dasharray="58 5 2.2 5" stroke-dashoffset="12"/>
<line x1="1065.2" y1="778.8" x2="1065.2" y2="1103.5" stroke-width="1.59" />
<path d="M446,1085 L567,1085 L564.5,1094" stroke-width="2.07" fill="none" />
<circle cx="633.6" cy="847.4" r="13.8" stroke-width="2.07" fill="#19191c" />
<path d="M633.4,836.0 L642.5,818.8 L652.2,824.0 L643.1,841.1 Z" stroke-width="1.83" fill="#19191c" />
<path d="M635.7,829.3 L641.5,818.3 L653.2,824.5 L647.4,835.5 Z" stroke-width="1.83" fill="#19191c" />
<path d="M630.1,812.3 L631.6,809.5 L666.1,827.7 L664.6,830.5 Z" stroke-width="1.59" fill="#19191c" />
<path d="M635.2,838.0 Q623.7,849.0 629.4,853.1 Q635.2,855.0 634.5,847.9 Q633.2,843.8 631.3,849.6" stroke-width="1.34" fill="none" />
<path d="M640.5,840.8 Q638.4,853.3 632.5,855.9" stroke-width="1.34" fill="none" />
<line x1="647.1" y1="817.6" x2="650.3" y2="811.5" stroke-width="1.83" />
<line x1="651.5" y1="820.0" x2="654.7" y2="813.9" stroke-width="1.83" />
<path d="M650.3,811.5 Q651.8,800 651.8,791" stroke-width="1.95" fill="none" />
<path d="M654.7,813.9 L659.6,805 L668.4,803.7 L668.4,737.8 L659,737.8" stroke-width="2.44" fill="none" />
<path d="M651.8,737.8 L660,733.6 L660,742 Z" stroke-width="1.22" fill="#f6f6f6" />
<line x1="640.8" y1="784.9" x2="662.4" y2="784.9" stroke-width="1.71" />
<line x1="648.0" y1="790.6" x2="655.7" y2="790.6" stroke-width="3.17" />
<line x1="651.8" y1="784.9" x2="651.8" y2="768.6" stroke-width="1.95" />
<circle cx="651.8" cy="766.0" r="2.4" stroke-width="1.59" fill="#19191c" />
<line x1="651.0" y1="763.2" x2="643.0" y2="735.0" stroke-width="1.83" />
<line x1="637.7" y1="728.8" x2="641.5" y2="741.9" stroke-width="3.17" />
<path d="M578,588 L654.7,588 L654.7,564" stroke-width="2.07" fill="none" />
<circle cx="654.7" cy="562.4" r="1.8" stroke-width="1.46" fill="#f6f6f6" />
<line x1="654.7" y1="562.4" x2="632.0" y2="521.0" stroke-width="1.83" />
<path d="M658,529.3 L677.8,529.3 L677.8,588 L691,588" stroke-width="2.07" fill="none" />
<path d="M654.2,529.3 L661.5,525.3 L661.5,533.3 Z" stroke-width="1.22" fill="#f6f6f6" />
<line x1="691.0" y1="573.0" x2="691.0" y2="603.0" stroke-width="1.83" />
<line x1="699.9" y1="573.0" x2="699.9" y2="603.0" stroke-width="1.83" />
<line x1="731.9" y1="573.0" x2="731.9" y2="603.0" stroke-width="1.83" />
<line x1="695.4" y1="584.0" x2="695.4" y2="593.0" stroke-width="3.29" />
<line x1="704.6" y1="584.0" x2="704.6" y2="593.0" stroke-width="3.29" />
<line x1="735.9" y1="584.0" x2="735.9" y2="593.0" stroke-width="3.29" />
<line x1="707.0" y1="588.0" x2="730.0" y2="588.0" stroke-width="2.07" stroke-dasharray="3.4 2.2"/>
<line x1="737.0" y1="588.0" x2="753.0" y2="588.0" stroke-width="2.07" />
<line x1="753.0" y1="577.0" x2="753.0" y2="600.0" stroke-width="1.83" />
<line x1="756.8" y1="580.0" x2="756.8" y2="597.0" stroke-width="1.71" />
<line x1="760.4" y1="583.0" x2="760.4" y2="594.0" stroke-width="1.59" />
<line x1="763.8" y1="586.0" x2="763.8" y2="591.0" stroke-width="1.46" />
<line x1="687.5" y1="564.0" x2="694.5" y2="564.0" stroke-width="1.59" />
<line x1="691.0" y1="560.5" x2="691.0" y2="567.5" stroke-width="1.59" />
<line x1="736.3" y1="561.0" x2="737.0" y2="569.5" stroke-width="1.46" />
<line x1="704.4" y1="595.0" x2="716.4" y2="617.4" stroke-width="1.46" />
<line x1="740.0" y1="588.0" x2="740.0" y2="588.0" stroke-width="0.0" />
<line x1="469.0" y1="1149.8" x2="469.0" y2="1157.7" stroke-width="1.0" opacity="0.9"/>
<line x1="471.3" y1="1149.5" x2="471.3" y2="1158.1" stroke-width="1.0" opacity="0.9"/>
<line x1="473.6" y1="1149.4" x2="473.6" y2="1157.2" stroke-width="1.0" opacity="0.9"/>
<line x1="475.9" y1="1146.2" x2="475.9" y2="1157.0" stroke-width="1.0" opacity="0.9"/>
<line x1="478.2" y1="1145.9" x2="478.2" y2="1157.0" stroke-width="1.0" opacity="0.9"/>
<line x1="480.5" y1="1140.4" x2="480.5" y2="1158.0" stroke-width="1.0" opacity="0.9"/>
<line x1="482.8" y1="1141.1" x2="482.8" y2="1157.8" stroke-width="1.0" opacity="0.9"/>
<line x1="485.1" y1="1140.0" x2="485.1" y2="1158.6" stroke-width="1.0" opacity="0.9"/>
<line x1="487.4" y1="1137.5" x2="487.4" y2="1159.0" stroke-width="1.0" opacity="0.9"/>
<line x1="489.7" y1="1122.4" x2="489.7" y2="1159.8" stroke-width="1.0" opacity="0.9"/>
<line x1="492.0" y1="1114.0" x2="492.0" y2="1160.2" stroke-width="1.0" opacity="0.9"/>
<line x1="494.3" y1="1111.6" x2="494.3" y2="1161.5" stroke-width="1.0" opacity="0.9"/>
<line x1="496.6" y1="1112.2" x2="496.6" y2="1162.6" stroke-width="1.0" opacity="0.9"/>
<line x1="498.9" y1="1114.7" x2="498.9" y2="1163.3" stroke-width="1.0" opacity="0.9"/>
<line x1="501.2" y1="1112.4" x2="501.2" y2="1165.3" stroke-width="1.0" opacity="0.9"/>
<line x1="503.5" y1="1113.6" x2="503.5" y2="1165.9" stroke-width="1.0" opacity="0.9"/>
<line x1="505.8" y1="1111.2" x2="505.8" y2="1167.6" stroke-width="1.0" opacity="0.9"/>
<line x1="508.1" y1="1114.2" x2="508.1" y2="1170.4" stroke-width="1.0" opacity="0.9"/>
<line x1="510.4" y1="1111.1" x2="510.4" y2="1172.7" stroke-width="1.0" opacity="0.9"/>
<line x1="512.7" y1="1114.4" x2="512.7" y2="1175.0" stroke-width="1.0" opacity="0.9"/>
<line x1="515.0" y1="1111.8" x2="515.0" y2="1177.9" stroke-width="1.0" opacity="0.9"/>
<line x1="517.3" y1="1110.9" x2="517.3" y2="1180.9" stroke-width="1.0" opacity="0.9"/>
<line x1="519.6" y1="1114.2" x2="519.6" y2="1186.2" stroke-width="1.0" opacity="0.9"/>
<line x1="521.9" y1="1112.4" x2="521.9" y2="1192.8" stroke-width="1.0" opacity="0.9"/>
<line x1="524.2" y1="1112.0" x2="524.2" y2="1196.4" stroke-width="1.0" opacity="0.9"/>
<line x1="526.5" y1="1113.5" x2="526.5" y2="1195.7" stroke-width="1.0" opacity="0.9"/>
<line x1="528.8" y1="1111.1" x2="528.8" y2="1195.8" stroke-width="1.0" opacity="0.9"/>
<line x1="531.1" y1="1111.0" x2="531.1" y2="1196.1" stroke-width="1.0" opacity="0.9"/>
<line x1="533.4" y1="1111.1" x2="533.4" y2="1195.9" stroke-width="1.0" opacity="0.9"/>
<line x1="377.0" y1="1108.3" x2="377.0" y2="1201.2" stroke-width="0.8" opacity="0.4"/>
<line x1="379.3" y1="1110.5" x2="379.3" y2="1199.9" stroke-width="0.8" opacity="0.4"/>
<line x1="381.6" y1="1112.8" x2="381.6" y2="1201.2" stroke-width="0.8" opacity="0.4"/>
<line x1="377.0" y1="1199.4" x2="377.0" y2="1262.0" stroke-width="1.0" opacity="0.85"/>
<line x1="379.3" y1="1199.0" x2="379.3" y2="1261.1" stroke-width="1.0" opacity="0.85"/>
<line x1="381.6" y1="1198.1" x2="381.6" y2="1259.8" stroke-width="1.0" opacity="0.85"/>
<line x1="383.9" y1="1196.4" x2="383.9" y2="1260.2" stroke-width="1.0" opacity="0.85"/>
<line x1="386.2" y1="1191.8" x2="386.2" y2="1261.7" stroke-width="1.0" opacity="0.85"/>
<line x1="388.5" y1="1193.3" x2="388.5" y2="1260.9" stroke-width="1.0" opacity="0.85"/>
<line x1="390.8" y1="1202.1" x2="390.8" y2="1261.1" stroke-width="1.0" opacity="0.85"/>
<line x1="393.1" y1="1203.2" x2="393.1" y2="1261.0" stroke-width="1.0" opacity="0.85"/>
<line x1="395.4" y1="1209.4" x2="395.4" y2="1261.7" stroke-width="1.0" opacity="0.85"/>
<line x1="397.7" y1="1207.9" x2="397.7" y2="1261.1" stroke-width="1.0" opacity="0.85"/>
<line x1="400.0" y1="1206.0" x2="400.0" y2="1260.5" stroke-width="1.0" opacity="0.85"/>
<line x1="402.3" y1="1207.1" x2="402.3" y2="1261.0" stroke-width="1.0" opacity="0.85"/>
<line x1="404.6" y1="1202.4" x2="404.6" y2="1261.6" stroke-width="1.0" opacity="0.85"/>
<line x1="412.0" y1="1198.3" x2="412.0" y2="1260.9" stroke-width="1.0" opacity="0.85"/>
<line x1="414.3" y1="1198.9" x2="414.3" y2="1261.0" stroke-width="1.0" opacity="0.85"/>
<line x1="416.6" y1="1201.1" x2="416.6" y2="1261.5" stroke-width="1.0" opacity="0.85"/>
<line x1="418.9" y1="1203.6" x2="418.9" y2="1261.1" stroke-width="1.0" opacity="0.85"/>
<line x1="421.2" y1="1206.9" x2="421.2" y2="1262.1" stroke-width="1.0" opacity="0.85"/>
<line x1="423.5" y1="1211.6" x2="423.5" y2="1261.9" stroke-width="1.0" opacity="0.85"/>
<line x1="425.8" y1="1216.4" x2="425.8" y2="1260.4" stroke-width="1.0" opacity="0.85"/>
<line x1="428.1" y1="1215.8" x2="428.1" y2="1262.1" stroke-width="1.0" opacity="0.85"/>
<line x1="430.4" y1="1220.5" x2="430.4" y2="1260.1" stroke-width="1.0" opacity="0.85"/>
<line x1="432.7" y1="1217.2" x2="432.7" y2="1260.9" stroke-width="1.0" opacity="0.85"/>
<line x1="435.0" y1="1219.2" x2="435.0" y2="1260.4" stroke-width="1.0" opacity="0.85"/>
<line x1="437.3" y1="1221.7" x2="437.3" y2="1261.4" stroke-width="1.0" opacity="0.85"/>
<line x1="439.6" y1="1229.8" x2="439.6" y2="1262.0" stroke-width="1.0" opacity="0.85"/>
<line x1="440.0" y1="1239.2" x2="440.0" y2="1261.2" stroke-width="1.0" opacity="0.85"/>
<line x1="442.3" y1="1243.0" x2="442.3" y2="1260.7" stroke-width="1.0" opacity="0.85"/>
<line x1="444.6" y1="1245.7" x2="444.6" y2="1261.4" stroke-width="1.0" opacity="0.85"/>
<line x1="446.9" y1="1245.5" x2="446.9" y2="1261.4" stroke-width="1.0" opacity="0.85"/>
<line x1="449.2" y1="1247.6" x2="449.2" y2="1261.0" stroke-width="1.0" opacity="0.85"/>
<line x1="451.5" y1="1250.8" x2="451.5" y2="1261.3" stroke-width="1.0" opacity="0.85"/>
<line x1="453.8" y1="1249.5" x2="453.8" y2="1260.9" stroke-width="1.0" opacity="0.85"/>
<line x1="456.1" y1="1251.6" x2="456.1" y2="1260.9" stroke-width="1.0" opacity="0.85"/>
<line x1="458.4" y1="1251.6" x2="458.4" y2="1260.8" stroke-width="1.0" opacity="0.85"/>
<line x1="460.7" y1="1254.0" x2="460.7" y2="1260.6" stroke-width="1.0" opacity="0.85"/>
<line x1="463.0" y1="1254.1" x2="463.0" y2="1260.9" stroke-width="1.0" opacity="0.85"/>
<line x1="465.3" y1="1253.1" x2="465.3" y2="1260.8" stroke-width="1.0" opacity="0.85"/>
<line x1="467.6" y1="1255.3" x2="467.6" y2="1261.0" stroke-width="1.0" opacity="0.85"/>
<line x1="469.9" y1="1254.0" x2="469.9" y2="1261.4" stroke-width="1.0" opacity="0.85"/>
<line x1="472.2" y1="1256.4" x2="472.2" y2="1261.4" stroke-width="1.0" opacity="0.85"/>
<line x1="474.5" y1="1254.4" x2="474.5" y2="1260.8" stroke-width="1.0" opacity="0.85"/>
<line x1="476.8" y1="1254.2" x2="476.8" y2="1261.3" stroke-width="1.0" opacity="0.85"/>
<line x1="479.1" y1="1254.8" x2="479.1" y2="1260.7" stroke-width="1.0" opacity="0.85"/>
<line x1="481.4" y1="1255.0" x2="481.4" y2="1261.4" stroke-width="1.0" opacity="0.85"/>
<line x1="483.7" y1="1255.8" x2="483.7" y2="1260.8" stroke-width="1.0" opacity="0.85"/>
<line x1="486.0" y1="1253.4" x2="486.0" y2="1261.4" stroke-width="1.0" opacity="0.85"/>
<line x1="488.3" y1="1254.1" x2="488.3" y2="1261.2" stroke-width="1.0" opacity="0.85"/>
<line x1="490.6" y1="1251.9" x2="490.6" y2="1260.6" stroke-width="1.0" opacity="0.85"/>
<line x1="492.9" y1="1252.9" x2="492.9" y2="1260.9" stroke-width="1.0" opacity="0.85"/>
<line x1="495.2" y1="1250.1" x2="495.2" y2="1261.4" stroke-width="1.0" opacity="0.85"/>
<line x1="497.5" y1="1250.7" x2="497.5" y2="1261.3" stroke-width="1.0" opacity="0.85"/>
<line x1="499.8" y1="1247.8" x2="499.8" y2="1261.3" stroke-width="1.0" opacity="0.85"/>
<circle cx="475.4" cy="1206.2" r="48.4" stroke-width="2.32" fill="#19191c" />
<circle cx="475.4" cy="1206.2" r="45.8" stroke-width="1.4" fill="none" />
<path d="M518.5,1206.2 A43.1,43.1 0 1 1 432.8,1199.4" stroke-width="1.4" fill="none" />
<path d="M434.9,1191.4 A43.1,43.1 0 0 1 517.7,1197.8" stroke-width="1.4" fill="none" />
<path d="M517.7,1197.8 A43.1,43.1 0 0 1 518.5,1206.2" stroke-width="1.4" fill="none" />
<path d="M515.8,1206.2 A40.4,40.4 0 1 1 435.6,1199.0" stroke-width="1.4" fill="none" />
<path d="M438.9,1188.8 A40.4,40.4 0 0 1 514.0,1194.1" stroke-width="1.4" fill="none" />
<path d="M515.2,1199.3 A40.4,40.4 0 0 1 515.8,1206.2" stroke-width="1.4" fill="none" />
<path d="M513.1,1206.2 A37.7,37.7 0 1 1 437.9,1202.7" stroke-width="1.4" fill="none" />
<path d="M440.4,1192.2 A37.7,37.7 0 0 1 510.1,1191.4" stroke-width="1.4" fill="none" />
<path d="M512.9,1202.5 A37.7,37.7 0 0 1 513.1,1206.2" stroke-width="1.4" fill="none" />
<path d="M510.4,1206.2 A35.0,35.0 0 0 1 440.5,1209.2" stroke-width="1.4" fill="none" />
<path d="M443.9,1190.9 A35.0,35.0 0 0 1 507.2,1191.6" stroke-width="1.4" fill="none" />
<path d="M507.7,1207.6 A32.3,32.3 0 0 1 443.1,1206.8" stroke-width="1.4" fill="none" />
<path d="M447.9,1189.2 A32.3,32.3 0 0 1 504.4,1191.9" stroke-width="1.4" fill="none" />
<path d="M504.9,1208.5 A29.6,29.6 0 0 1 446.3,1211.7" stroke-width="1.4" fill="none" />
<path d="M450.6,1190.1 A29.6,29.6 0 0 1 500.2,1190.0" stroke-width="1.4" fill="none" />
<path d="M501.5,1212.6 A26.9,26.9 0 0 1 449.0,1211.1" stroke-width="1.4" fill="none" />
<path d="M456.1,1187.5 A26.9,26.9 0 0 1 496.6,1189.7" stroke-width="1.4" fill="none" />
<path d="M498.5,1213.4 A24.2,24.2 0 0 1 451.8,1211.6" stroke-width="1.4" fill="none" />
<path d="M457.8,1189.6 A24.2,24.2 0 0 1 495.4,1192.6" stroke-width="1.4" fill="none" />
<path d="M495.3,1214.2 A21.5,21.5 0 0 1 455.5,1214.4" stroke-width="1.4" fill="none" />
<path d="M463.5,1188.3 A21.5,21.5 0 0 1 491.1,1191.5" stroke-width="1.4" fill="none" />
<path d="M491.8,1215.3 A18.8,18.8 0 0 1 457.8,1212.7" stroke-width="1.4" fill="none" />
<path d="M465.5,1190.2 A18.8,18.8 0 0 1 488.2,1192.5" stroke-width="1.4" fill="none" />
<path d="M490.2,1212.5 A16.1,16.1 0 0 1 460.3,1211.7" stroke-width="1.4" fill="none" />
<path d="M466.0,1193.2 A16.1,16.1 0 0 1 486.6,1194.6" stroke-width="1.4" fill="none" />
<path d="M487.2,1212.5 A13.4,13.4 0 0 1 463.6,1212.5" stroke-width="1.4" fill="none" />
<path d="M466.4,1196.2 A13.4,13.4 0 0 1 484.0,1195.9" stroke-width="1.4" fill="none" />
<path d="M484.7,1211.4 A10.7,10.7 0 0 1 465.7,1210.8" stroke-width="1.4" fill="none" />
<path d="M468.3,1198.2 A10.7,10.7 0 0 1 482.3,1198.0" stroke-width="1.4" fill="none" />
<circle cx="475.4" cy="1206.2" r="6.2" stroke-width="2.07" fill="#19191c" />
<circle cx="475.4" cy="1206.2" r="1.1" stroke-width="0.98" fill="#f6f6f6" />
<path d="M429.3,1150 L428.2,1185 Q427.6,1200 427.3,1209.2" stroke-width="1.95" fill="none" />
<circle cx="409.8" cy="1127.5" r="12.8" stroke-width="2.2" fill="#19191c" />
<circle cx="409.8" cy="1127.5" r="4.8" stroke-width="1.95" fill="#19191c" />
<circle cx="409.8" cy="1127.5" r="1.0" stroke-width="0.85" fill="#f6f6f6" />
<circle cx="443.2" cy="1127.5" r="12.8" stroke-width="2.2" fill="#19191c" />
<circle cx="443.2" cy="1127.5" r="4.8" stroke-width="1.95" fill="#19191c" />
<circle cx="443.2" cy="1127.5" r="1.0" stroke-width="0.85" fill="#f6f6f6" />
<path d="M409.8,1132.4 L409.8,1301" stroke-width="1.95" fill="none" />
<path d="M443.2,1132.4 L443.2,1153 L435.5,1153 L433.5,1157.4 L409.8,1157.4" stroke-width="1.95" fill="none" />
<circle cx="409.8" cy="1157.4" r="1.6" stroke-width="1.22" fill="#f6f6f6" />
<circle cx="427.6" cy="1158.5" r="1.4" stroke-width="1.22" fill="#f6f6f6" />
<line x1="380.6" y1="1301.0" x2="438.8" y2="1301.0" stroke-width="2.07" />
<circle cx="409.8" cy="1301.0" r="1.8" stroke-width="1.22" fill="#f6f6f6" />
<line x1="438.8" y1="1290.0" x2="438.8" y2="1312.0" stroke-width="1.95" />
<line x1="442.2" y1="1293.0" x2="442.2" y2="1309.0" stroke-width="1.71" />
<line x1="445.5" y1="1296.0" x2="445.5" y2="1306.0" stroke-width="1.59" />
<line x1="448.6" y1="1298.5" x2="448.6" y2="1303.5" stroke-width="1.46" />
<line x1="380.6" y1="1297.5" x2="380.6" y2="1326.0" stroke-width="1.95" />
<circle cx="380.6" cy="1328.2" r="2.2" stroke-width="1.46" fill="#19191c" />
<line x1="380.6" y1="1330.4" x2="380.6" y2="1340.0" stroke-width="1.95" />
<line x1="364.5" y1="1299.5" x2="379.5" y2="1326.0" stroke-width="1.59" stroke-dasharray="3.2 2.2"/>
<circle cx="380.6" cy="1340.0" r="2.0" stroke-width="1.22" fill="#f6f6f6" />
<path d="M359,1082.4 L318.8,1082.4 L318.8,1340 L690.6,1340 L690.6,1135.8 L678.8,1135.8 L675.3,1141.5 L671.5,1141.5 L668,1135.8 L649.4,1135.8" stroke-width="2.07" fill="none" />
<rect x="355" y="1080.3" width="58" height="4.4" fill="#19191c" stroke-width="1.3"/>
<line x1="413.0" y1="1078.5" x2="413.0" y2="1086.5" stroke-width="1.95" />
<rect x="552.0" y="1098.5" width="6.4" height="69.0" stroke-width="1.46" fill="url(#hD)" />
<path d="M558.4,1119 L573,1119 L573,1147 L558.4,1147 Z" stroke-width="1.71" fill="url(#hB)" />
<path d="M552.5,1139 L566,1128 M556,1128.5 L566,1141" stroke-width="1.59" fill="none" />
<path d="M558.4,1149.6 A3.4,3.4 0 0 1 558.4,1156.4" stroke-width="1.59" fill="none" />
<path d="M558.4,1157.1 A3.4,3.4 0 0 1 558.4,1163.9" stroke-width="1.59" fill="none" />
<path d="M567,1094.5 L574.6,1098.5 L579.5,1108.6 L675.3,1108.6 L675.3,1291.8 L649.4,1291.8" stroke-width="2.07" fill="none" />
<circle cx="618.9" cy="1108.6" r="2.0" stroke-width="1.22" fill="#f6f6f6" />
<line x1="618.9" y1="1108.6" x2="618.9" y2="1133.0" stroke-width="1.95" />
<circle cx="618.9" cy="1135.4" r="2.3" stroke-width="1.46" fill="#19191c" />
<line x1="613.7" y1="1129.5" x2="633.0" y2="1161.5" stroke-width="1.71" />
<circle cx="634.0" cy="1163.6" r="2.3" stroke-width="1.46" fill="#19191c" />
<line x1="634.0" y1="1166.0" x2="634.0" y2="1175.0" stroke-width="1.95" />
<line x1="629.4" y1="1175.6" x2="638.8" y2="1175.6" stroke-width="3.17" />
<line x1="621.0" y1="1182.6" x2="649.4" y2="1182.6" stroke-width="1.83" />
<line x1="634.0" y1="1186.0" x2="634.0" y2="1226.0" stroke-width="2.44" stroke-dasharray="3.6 2.4"/>
<line x1="629.4" y1="1228.2" x2="638.8" y2="1228.2" stroke-width="3.42" />
<line x1="621.0" y1="1235.4" x2="649.4" y2="1235.4" stroke-width="1.83" />
<line x1="629.4" y1="1240.4" x2="638.8" y2="1240.4" stroke-width="3.42" />
<line x1="621.0" y1="1246.0" x2="649.4" y2="1246.0" stroke-width="1.83" />
<line x1="634.0" y1="1246.0" x2="634.0" y2="1260.0" stroke-width="1.95" />
<circle cx="634.0" cy="1262.4" r="2.3" stroke-width="1.46" fill="#19191c" />
<line x1="633.0" y1="1264.5" x2="612.5" y2="1297.5" stroke-width="1.71" />
<circle cx="619.5" cy="1291.6" r="2.3" stroke-width="1.46" fill="#19191c" />
<line x1="619.5" y1="1294.0" x2="619.5" y2="1340.0" stroke-width="1.95" />
<circle cx="619.5" cy="1340.0" r="2.0" stroke-width="1.22" fill="#f6f6f6" />
<circle cx="647.0" cy="1135.8" r="2.3" stroke-width="1.46" fill="#19191c" />
<circle cx="647.0" cy="1291.8" r="2.3" stroke-width="1.46" fill="#19191c" />
<line x1="612.6" y1="1176.5" x2="612.6" y2="1185.5" stroke-width="1.46" />
<line x1="607.5" y1="1248.4" x2="616.0" y2="1248.4" stroke-width="1.46" />
<line x1="611.8" y1="1244.0" x2="611.8" y2="1253.0" stroke-width="1.46" />
<path d="M811.2,212 L816,211 L819,208.5 L824,211.5 L828.2,210.8 L828.2,234 L826.6,749.6 L826.6,776.4 L822,775.5 L817,777 L812,775.8 L809.1,776.6 Z" stroke-width="2.2" fill="url(#hA2)" />
<path d="M828.2,234 L889,234 L889,246.5 L875,246.5 L875,261.4 L863.2,261.4 L861.6,723.2 L889.6,723.2 L889.6,749.4 L826.6,749.4 Z" stroke-width="2.07" fill="url(#hR2)" />
<path d="M863.2,261.4 L869.8,261.4 L868.2,723 L861.6,723 Z" fill="url(#hD)" stroke-width="1.2"/>
<path d="M877.2,246.5 L883,246.5 L881.3,723 L875.4,723 Z" fill="url(#hD)" stroke-width="1.2"/>
<path d="M886.6,246.5 L897.4,246.5 L896.8,748.5 L888.4,748.5 L888.4,723 L885.2,723 Z" fill="url(#hD)" stroke-width="1.3"/>
<line x1="890.6" y1="250.0" x2="889.3" y2="745.0" stroke-width="1.22" stroke-dasharray="1.5 2" opacity="0.8"/>
<path d="M849,229 L903.8,229 L903.8,246.5 L897.3,246.5 L897.3,233.6 L849,233.6 Z" stroke-width="1.71" fill="#19191c" />
<path d="M845.7,754 L903.4,754 L903.4,735 L897,735 L897,749.4 L845.7,749.4 Z" stroke-width="1.71" fill="#19191c" />
<path d="M852.3,229 A5,4.6 0 0 1 862.3,229" stroke-width="1.71" fill="none" />
<path d="M872.7,229 A5,4.6 0 0 1 882.7,229" stroke-width="1.71" fill="none" />
<path d="M850.8,754 A5,4.6 0 0 0 860.8,754" stroke-width="1.71" fill="none" />
<path d="M871.8,754 A5,4.6 0 0 0 881.8,754" stroke-width="1.71" fill="none" />
<path d="M766.4,218.8 L766.4,322.4 L802.5,322.4" stroke-width="2.07" fill="none" />
<rect x="802.3" y="320" width="61.5" height="4.8" fill="#19191c" stroke-width="1.3"/>
<line x1="864.2" y1="316.5" x2="864.2" y2="328.0" stroke-width="1.83" />
<path d="M989.4,222.8 L1008.2,222.8 L1008.2,268.2 L989.4,268.2 Z" stroke-width="1.83" fill="url(#hB)" />
<path d="M989.2,750.6 L1008,750.6 L1008,774 L989.2,774 Z" stroke-width="1.83" fill="url(#hB)" />
<rect x="990.5" y="248" width="9" height="20" fill="url(#hC)" stroke="none" opacity="0.9"/>
<rect x="990.3" y="752" width="9" height="18" fill="url(#hC)" stroke="none" opacity="0.9"/>
<line x1="989.5" y1="268.0" x2="989.2" y2="751.0" stroke-width="1.59" />
<line x1="1008.2" y1="268.0" x2="1008.0" y2="751.0" stroke-width="2.44" />
<line x1="993.6" y1="268.0" x2="993.3" y2="751.0" stroke-width="1.46" stroke-dasharray="2 1.6"/>
<line x1="996.4" y1="268.0" x2="996.1" y2="751.0" stroke-width="1.34" />
<line x1="999.4" y1="268.0" x2="999.1" y2="751.0" stroke-width="1.83" />
<text transform="translate(364.0,214.0) rotate(-80) skewX(-10)" font-size="22.5" class="lb">35</text>
<text transform="translate(405.1,213.0) rotate(-80) skewX(-10)" font-size="22.5" class="lb">34</text>
<text transform="translate(469.9,213.0) rotate(-80) skewX(-10)" font-size="22.5" class="lb">22</text>
<text transform="translate(421.5,307.0) rotate(-80) skewX(-10)" font-size="22.5" class="lb">33</text>
<text transform="translate(522.8,336.5) rotate(-80) skewX(-10)" font-size="22.5" class="lb">32</text>
<text transform="translate(342.8,409.4) rotate(-80) skewX(-10)" font-size="22.5" class="lb">25a</text>
<text transform="translate(489.9,412.0) rotate(-78) skewX(-10)" font-size="22.5" class="lb">25b</text>
<text transform="translate(402.8,558.8) rotate(-80) skewX(-10)" font-size="22.5" class="lb">40</text>
<text transform="translate(412.2,620.0) rotate(-80) skewX(-10)" font-size="22.5" class="lb">31</text>
<text transform="translate(493.4,589.4) rotate(-80) skewX(-10)" font-size="22.5" class="lb">29</text>
<text transform="translate(472.2,676.5) rotate(-80) skewX(-10)" font-size="22.5" class="lb">27</text>
<text transform="translate(472.2,715.3) rotate(-80) skewX(-10)" font-size="22.5" class="lb">27</text>
<text transform="translate(472.2,754.0) rotate(-80) skewX(-10)" font-size="22.5" class="lb">27</text>
<text transform="translate(411.0,716.5) rotate(-80) skewX(-10)" font-size="22.5" class="lb">22</text>
<text transform="translate(621.5,671.8) rotate(-80) skewX(-10)" font-size="22.5" class="lb">30</text>
<text transform="translate(593.4,723.5) rotate(-80) skewX(-10)" font-size="22.5" class="lb">28</text>
<text transform="translate(629.9,771.8) rotate(-80) skewX(-10)" font-size="22.5" class="lb">42</text>
<text transform="translate(658.0,702.5) rotate(-80) skewX(-10)" font-size="22.5" class="lb">43</text>
<text transform="translate(493.4,810.6) rotate(-80) skewX(-10)" font-size="22.5" class="lb">16</text>
<text transform="translate(493.4,861.0) rotate(-80) skewX(-10)" font-size="22.5" class="lb">15</text>
<text transform="translate(342.8,893.0) rotate(-80) skewX(-10)" font-size="22.5" class="lb">2</text>
<text transform="translate(474.5,898.8) rotate(-80) skewX(-10)" font-size="22.5" class="lb">2</text>
<text transform="translate(493.4,978.8) rotate(-80) skewX(-10)" font-size="22.5" class="lb">19</text>
<text transform="translate(478.1,1011.8) rotate(-80) skewX(-10)" font-size="22.5" class="lb">14</text>
<text transform="translate(536.9,1060.0) rotate(-80) skewX(-10)" font-size="22.5" class="lb">18</text>
<text transform="translate(605.1,835.3) rotate(-80) skewX(-10)" font-size="22.5" class="lb">41</text>
<text transform="translate(649.5,953.0) rotate(-80) skewX(-10)" font-size="22.5" class="lb">11</text>
<text transform="translate(351.0,1118.8) rotate(-80) skewX(-10)" font-size="22.5" class="lb">23</text>
<text transform="translate(346.3,1184.7) rotate(-80) skewX(-10)" font-size="22.5" class="lb">20</text>
<text transform="translate(399.3,1171.8) rotate(-80) skewX(-10)" font-size="22.5" class="lb">22</text>
<text transform="translate(480.5,1123.5) rotate(-80) skewX(-10)" font-size="22.5" class="lb">23</text>
<text transform="translate(412.2,1320.0) rotate(-80) skewX(-10)" font-size="22.5" class="lb">36</text>
<text transform="translate(469.9,1317.6) rotate(-80) skewX(-10)" font-size="22.5" class="lb">24</text>
<text transform="translate(524.0,1300.0) rotate(-80) skewX(-10)" font-size="22.5" class="lb">21</text>
<text transform="translate(602.8,1137.6) rotate(-80) skewX(-10)" font-size="22.5" class="lb">38</text>
<text transform="translate(598.1,1200.0) rotate(-80) skewX(-10)" font-size="22.5" class="lb">17</text>
<text transform="translate(591.0,1273.0) rotate(-80) skewX(-10)" font-size="22.5" class="lb">37</text>
<text transform="translate(773.5,908.0) rotate(-80) skewX(-10)" font-size="22.5" class="lb">12</text>
<text transform="translate(856.9,1030.6) rotate(-80) skewX(-10)" font-size="22.5" class="lb">13</text>
<text transform="translate(1048.5,818.8) rotate(-80) skewX(-10)" font-size="22.5" class="lb">10</text>
<text transform="translate(752.2,286.0) rotate(-80) skewX(-10)" font-size="22.5" class="lb">20</text>
<text transform="translate(928.5,255.3) rotate(-80) skewX(-10)" font-size="22.5" class="lb">26</text>
<text transform="translate(922.5,492.0) rotate(-80) skewX(-10)" font-size="22.5" class="lb">22</text>
<text transform="translate(925.1,551.8) rotate(-80) skewX(-10)" font-size="22.5" class="lb">15</text>
<text transform="translate(925.1,618.8) rotate(-80) skewX(-10)" font-size="22.5" class="lb">14</text>
<text transform="translate(925.1,658.8) rotate(-80) skewX(-10)" font-size="22.5" class="lb">19</text>
<text transform="translate(927.5,786.0) rotate(-80) skewX(-10)" font-size="22.5" class="lb">26</text>
<text transform="translate(1029.5,538.8) rotate(-80) skewX(-10)" font-size="22.5" class="lb">100</text>
<text transform="translate(966.3,715.0) rotate(-80) skewX(-10)" font-size="22.5" class="lb">101</text>
<text transform="translate(985.1,793.0) rotate(-80) skewX(-10)" font-size="22.5" class="lb">102</text>
<text transform="translate(719.5,634.0) rotate(-70) skewX(-10)" font-size="22.5" class="lb">39</text>
<line x1="497.5" y1="583.0" x2="497.5" y2="596.0" stroke-width="1.59" />
<line x1="653.5" y1="944.0" x2="653.5" y2="962.0" stroke-width="1.59" />
<text transform="translate(327.0,766.5) rotate(-90) skewX(-18)" font-size="33" class="lb" style="font-weight:normal;stroke-width:0.5" textLength="104" lengthAdjust="spacingAndGlyphs">Fig. 1</text>
<text transform="translate(781.0,446.5) rotate(-90) skewX(-18)" font-size="33" class="lb" style="font-weight:normal;stroke-width:0.5" textLength="85" lengthAdjust="spacingAndGlyphs">Fig. 2</text>
<text transform="translate(972.0,496.0) rotate(-90) skewX(-18)" font-size="33" class="lb" style="font-weight:normal;stroke-width:0.5" textLength="86" lengthAdjust="spacingAndGlyphs">Fig. 3</text>
<path d="M811.0,1306.0 C811.6,1305.5 814.5,1304.0 814.7,1302.7 C814.9,1301.4 813.7,1299.3 812.1,1298.3 C810.6,1297.3 807.7,1296.0 805.5,1296.6 C803.3,1297.3 800.4,1299.4 798.8,1302.1 C797.3,1304.9 796.1,1309.7 796.4,1313.2 C796.7,1316.7 798.3,1321.0 800.5,1323.2 C802.7,1325.4 806.0,1326.7 809.4,1326.5 C812.7,1326.3 817.6,1324.3 820.4,1322.1 C823.3,1319.9 825.1,1317.3 826.5,1313.2 C828.0,1309.2 828.2,1300.2 829.1,1297.7 C830.0,1295.2 831.3,1296.4 832.1,1298.3 C832.8,1300.1 833.7,1304.5 833.5,1308.8 C833.3,1313.0 831.1,1321.3 830.6,1323.7" stroke-width="2.7" fill="none" stroke-linecap="round" stroke-linejoin="round"/>
<path d="M830.6,1323.7 C831.1,1322.6 832.1,1318.5 833.2,1317.1 C834.2,1315.7 836.0,1314.9 837.0,1315.2 C838.1,1315.5 838.9,1317.5 839.3,1318.8 C839.7,1320.0 838.7,1322.7 839.5,1322.6 C840.3,1322.5 843.5,1319.6 844.2,1318.2 C844.9,1316.9 844.2,1314.7 843.7,1314.6 C843.1,1314.4 841.2,1315.8 840.9,1317.1 C840.6,1318.4 840.9,1321.8 842.0,1322.6 C843.1,1323.5 846.0,1323.3 847.6,1322.1 C849.1,1320.9 850.4,1315.8 851.4,1315.4 C852.5,1315.1 853.9,1318.5 853.9,1319.9 C853.9,1321.3 852.3,1323.3 851.4,1323.7 C850.6,1324.2 849.1,1322.8 848.7,1322.6" stroke-width="2.7" fill="none" stroke-linecap="round" stroke-linejoin="round"/>
<path d="M851.4,1323.7 C852.4,1323.6 855.1,1323.3 857.0,1322.6 C858.8,1322.0 861.0,1321.4 862.5,1319.9 C864.1,1318.3 865.7,1314.3 866.4,1313.2" stroke-width="2.7" fill="none" stroke-linecap="round" stroke-linejoin="round"/>
<path d="M867.5,1301.0 C867.4,1303.1 866.9,1309.7 866.7,1313.2 C866.5,1316.7 865.8,1320.8 866.4,1322.1 C867.0,1323.4 869.1,1322.0 870.3,1321.2 C871.5,1320.4 873.3,1318.2 873.6,1317.1 C873.9,1316.0 872.5,1314.1 871.9,1314.3 C871.3,1314.6 869.9,1317.3 870.0,1318.8 C870.2,1320.2 871.5,1322.8 873.0,1323.2 C874.6,1323.6 877.6,1322.2 879.1,1321.0 C880.7,1319.7 881.5,1316.3 882.5,1315.7 C883.4,1315.0 884.2,1316.1 884.7,1317.1 C885.2,1318.1 884.5,1320.8 885.6,1321.9 C886.6,1322.9 888.6,1323.4 890.8,1323.2 C892.9,1323.0 897.2,1321.2 898.5,1320.8" stroke-width="2.7" fill="none" stroke-linecap="round" stroke-linejoin="round"/>
<path d="M860.3,1305.0 C861.8,1304.9 866.4,1304.4 869.2,1304.1 C871.9,1303.9 875.6,1303.8 876.9,1303.7" stroke-width="2.7" fill="none" stroke-linecap="round" stroke-linejoin="round"/>
<path d="M906.8,1306.1 C908.1,1307.7 912.1,1312.4 914.6,1315.4 C917.0,1318.5 920.0,1324.3 921.4,1324.3 C922.9,1324.3 922.9,1318.2 923.4,1315.4 C924.0,1312.6 924.5,1308.8 924.8,1307.5" stroke-width="2.6" fill="none" stroke-linecap="round" stroke-linejoin="round"/>
<path d="M906.8,1306.1 C909.6,1305.9 917.9,1305.0 923.4,1304.6 C929.0,1304.2 937.3,1303.8 940.0,1303.7" stroke-width="2.7" fill="none" stroke-linecap="round" stroke-linejoin="round"/>
<path d="M925.6,1314.6 C926.7,1314.4 931.2,1314.0 932.3,1313.9" stroke-width="2.7" fill="none" stroke-linecap="round" stroke-linejoin="round"/>
<circle cx="933.4" cy="1321.9" r="1.6" fill="#f6f6f6" stroke="none"/>
<path d="M965.7,1309.9 C966.1,1309.3 968.4,1307.7 968.2,1306.4 C968.0,1305.0 966.1,1302.7 964.3,1301.7 C962.6,1300.7 959.9,1300.0 957.7,1300.5 C955.5,1300.9 952.7,1302.4 951.0,1304.4 C949.4,1306.3 947.7,1309.5 947.7,1312.1 C947.7,1314.7 949.2,1317.9 951.0,1319.9 C952.9,1321.8 956.0,1323.6 958.8,1323.9 C961.6,1324.1 965.2,1322.4 967.7,1321.2 C970.1,1320.0 972.2,1317.9 973.7,1316.5 C975.3,1315.2 975.8,1313.6 977.1,1313.2 C978.3,1312.8 980.8,1313.2 981.2,1314.1 C981.5,1315.0 980.3,1317.7 979.3,1318.8 C978.2,1319.8 975.7,1320.7 974.9,1320.5 C974.0,1320.3 973.6,1318.6 974.1,1317.7 C974.5,1316.7 976.3,1315.1 977.6,1314.6 C978.9,1314.0 981.3,1313.5 982.0,1314.6 C982.8,1315.6 981.5,1319.7 982.0,1321.0 C982.6,1322.2 984.1,1322.8 985.4,1322.1 C986.7,1321.3 988.7,1317.8 989.8,1316.5 C990.9,1315.3 991.3,1314.6 992.0,1314.6 C992.8,1314.6 993.7,1315.4 994.2,1316.5 C994.8,1317.7 994.2,1320.3 995.3,1321.2 C996.4,1322.1 999.2,1323.4 1000.9,1322.1 C1002.5,1320.8 1004.2,1317.1 1005.3,1313.2 C1006.4,1309.4 1006.7,1301.6 1007.5,1299.0 C1008.3,1296.5 1009.5,1296.6 1010.3,1297.7 C1011.0,1298.8 1011.8,1302.0 1011.9,1305.5 C1012.1,1309.0 1010.8,1316.1 1011.2,1318.8 C1011.6,1321.4 1013.0,1321.6 1014.4,1321.2 C1015.8,1320.8 1018.4,1317.0 1019.7,1316.5 C1021.0,1316.1 1021.6,1317.5 1022.1,1318.3 C1022.7,1319.2 1023.4,1320.9 1022.8,1321.6 C1022.2,1322.4 1019.8,1322.7 1018.6,1322.7 C1017.3,1322.7 1015.8,1321.8 1015.3,1321.6" stroke-width="2.7" fill="none" stroke-linecap="round" stroke-linejoin="round"/>
<path d="M1018.6,1322.7 C1019.7,1322.5 1023.4,1322.4 1025.2,1321.5 C1027.1,1320.7 1028.2,1318.4 1029.7,1317.7 C1031.1,1316.9 1033.1,1316.6 1034.1,1317.0 C1035.1,1317.4 1035.9,1319.2 1035.4,1320.1 C1034.9,1321.0 1032.2,1322.3 1031.0,1322.3 C1029.8,1322.3 1028.0,1320.6 1028.3,1319.9 C1028.7,1319.2 1031.3,1318.3 1033.0,1318.1 C1034.7,1317.9 1036.9,1318.9 1038.5,1318.8 C1040.2,1318.6 1041.8,1317.0 1043.0,1317.2 C1044.1,1317.4 1044.7,1320.0 1045.4,1320.1 C1046.1,1320.2 1046.3,1318.2 1047.4,1317.7 C1048.5,1317.1 1050.7,1316.6 1051.8,1317.0 C1053.0,1317.4 1052.4,1319.5 1054.3,1319.9 C1056.1,1320.3 1059.4,1319.7 1062.9,1319.4 C1066.4,1319.1 1073.0,1318.4 1075.1,1318.2" stroke-width="2.7" fill="none" stroke-linecap="round" stroke-linejoin="round"/>
<path d="M365.9,224.7 C369.0,227.5 381.6,238.8 384.7,241.6" stroke-width="1.52" fill="none" stroke-linecap="round"/>
<path d="M411.5,220.5 C413.2,222.8 419.5,230.5 422.0,234.3 C424.5,238.1 425.5,240.1 426.4,243.2 C427.3,246.3 427.3,251.4 427.5,253.0" stroke-width="1.52" fill="none" stroke-linecap="round"/>
<path d="M429.2,207.0 C428.9,206.0 427.0,202.6 427.5,201.0 C428.0,199.4 430.1,197.5 432.0,197.2 C433.9,196.9 436.4,198.0 438.6,199.4 C440.8,200.8 443.4,204.1 445.2,205.5 C447.0,206.9 448.9,207.3 449.7,207.7" stroke-width="1.52" fill="none" stroke-linecap="round"/>
<path d="M422.5,309.6 C424.1,311.6 430.4,319.8 432.0,321.8" stroke-width="1.52" fill="none" stroke-linecap="round"/>
<path d="M437.5,322.9 C438.6,323.2 442.9,323.7 444.1,324.6 C445.3,325.5 445.4,327.5 444.7,328.4 C444.0,329.3 440.5,329.7 439.7,330.0" stroke-width="1.52" fill="none" stroke-linecap="round"/>
<path d="M522.4,351.8 C527.5,360.8 547.9,396.9 553.0,405.9" stroke-width="1.52" fill="none" stroke-linecap="round"/>
<path d="M347.0,404.7 C349.5,404.2 356.9,402.8 362.0,402.0 C367.1,401.2 372.2,401.7 377.6,400.0 C383.0,398.3 391.4,393.2 394.1,391.8" stroke-width="1.52" fill="none" stroke-linecap="round"/>
<path d="M347.0,404.7 C349.8,406.9 355.6,411.3 363.5,417.6 C371.4,423.9 389.0,438.3 394.1,442.4" stroke-width="1.52" fill="none" stroke-linecap="round"/>
<path d="M466.0,382.6 C467.5,383.2 472.7,384.1 475.0,386.0 C477.3,387.9 479.0,392.7 479.8,394.0" stroke-width="1.52" fill="none" stroke-linecap="round"/>
<path d="M464.3,446.0 C466.1,444.2 473.5,437.2 475.4,435.4" stroke-width="1.52" fill="none" stroke-linecap="round"/>
<path d="M396.5,541.2 C397.1,539.8 399.2,534.4 400.0,532.5 C400.8,530.6 400.7,529.4 401.5,530.0 C402.3,530.6 404.2,535.0 404.7,536.0" stroke-width="1.52" fill="none" stroke-linecap="round"/>
<path d="M415.3,597.6 C417.2,597.4 422.7,594.8 427.0,596.5 C431.3,598.2 437.0,604.9 441.2,608.0 C445.4,611.1 448.5,614.2 452.0,615.0 C455.5,615.8 460.7,613.3 462.4,613.0" stroke-width="1.52" fill="none" stroke-linecap="round"/>
<path d="M415.3,602.0 C417.4,602.2 423.9,600.8 428.0,603.0 C432.1,605.2 436.3,611.8 440.0,615.0 C443.7,618.2 446.7,621.2 450.0,622.0 C453.3,622.8 458.3,620.3 460.0,620.0" stroke-width="1.52" fill="none" stroke-linecap="round"/>
<path d="M415.3,606.5 C417.1,606.9 422.6,606.8 426.0,609.0 C429.4,611.2 434.3,618.2 436.0,620.0" stroke-width="1.52" fill="none" stroke-linecap="round"/>
<path d="M411.8,713.0 C413.2,714.0 417.3,717.6 420.0,718.8 C422.7,720.0 426.8,719.8 428.2,720.0" stroke-width="1.52" fill="none" stroke-linecap="round"/>
<path d="M616.5,657.6 C614.3,654.5 607.2,644.7 603.5,638.8 C599.8,632.9 595.6,625.1 594.0,622.4" stroke-width="1.52" fill="none" stroke-linecap="round"/>
<path d="M582.0,738.0 C580.7,738.1 576.5,739.3 574.0,738.5 C571.5,737.7 568.2,733.9 567.0,733.0" stroke-width="1.52" fill="none" stroke-linecap="round"/>
<path d="M584.0,749.0 C582.5,749.2 577.8,750.7 575.0,750.0 C572.2,749.3 568.3,745.8 567.0,745.0" stroke-width="1.52" fill="none" stroke-linecap="round"/>
<path d="M629.8,780.7 C631.3,782.0 637.3,787.0 638.8,788.3" stroke-width="1.52" fill="none" stroke-linecap="round"/>
<path d="M650.2,720.4 C650.3,721.6 651.1,725.2 650.9,727.4 C650.7,729.6 649.1,732.6 648.8,733.6" stroke-width="1.52" fill="none" stroke-linecap="round"/>
<path d="M473.0,815.3 C470.8,813.9 464.5,809.8 460.0,807.0 C455.5,804.2 448.2,800.2 445.9,798.8" stroke-width="1.52" fill="none" stroke-linecap="round"/>
<path d="M474.0,869.4 C472.1,868.4 467.1,866.2 462.4,863.5 C457.7,860.8 448.6,854.8 445.9,853.0" stroke-width="1.52" fill="none" stroke-linecap="round"/>
<path d="M468.2,977.6 C465.3,976.2 456.7,972.3 450.6,969.4 C444.5,966.5 437.3,961.2 431.8,960.0 C426.3,958.8 420.0,962.0 417.6,962.4" stroke-width="1.52" fill="none" stroke-linecap="round"/>
<path d="M465.9,1027.0 C464.1,1026.0 458.6,1023.4 455.3,1021.2 C452.0,1019.0 447.5,1015.2 445.9,1014.0" stroke-width="1.52" fill="none" stroke-linecap="round"/>
<path d="M525.9,1070.6 C526.1,1072.9 526.8,1082.3 527.0,1084.7" stroke-width="1.52" fill="none" stroke-linecap="round"/>
<path d="M607.0,836.3 C609.2,837.6 618.1,842.7 620.3,844.0" stroke-width="1.52" fill="none" stroke-linecap="round"/>
<path d="M347.0,1105.9 C349.4,1106.3 356.1,1106.1 361.2,1108.2 C366.3,1110.3 371.7,1115.5 377.6,1118.8 C383.5,1122.1 393.4,1126.6 396.5,1128.2" stroke-width="1.52" fill="none" stroke-linecap="round"/>
<path d="M335.3,1210.6 C333.7,1210.0 328.4,1208.6 325.9,1207.0 C323.3,1205.4 321.0,1202.2 320.0,1201.2" stroke-width="1.52" fill="none" stroke-linecap="round"/>
<path d="M403.5,1165.9 C404.7,1166.1 407.1,1165.0 410.6,1167.0 C414.1,1169.0 422.4,1175.8 424.7,1177.6" stroke-width="1.52" fill="none" stroke-linecap="round"/>
<path d="M468.2,1138.8 C467.2,1138.6 464.5,1138.8 462.4,1137.6 C460.2,1136.4 456.5,1132.8 455.3,1131.8" stroke-width="1.52" fill="none" stroke-linecap="round"/>
<path d="M508.2,1287.0 C506.8,1285.2 503.3,1283.8 500.0,1276.5 C496.7,1269.2 492.2,1255.1 488.2,1243.5 C484.2,1231.9 478.0,1213.1 476.0,1207.0" stroke-width="1.52" fill="none" stroke-linecap="round"/>
<path d="M448.2,1323.5 C445.5,1322.7 437.3,1323.5 431.8,1318.8 C426.3,1314.1 419.0,1300.8 415.3,1295.3 C411.6,1289.8 410.4,1287.5 409.4,1285.9" stroke-width="1.52" fill="none" stroke-linecap="round"/>
<path d="M390.6,1316.5 C389.2,1317.2 383.8,1320.2 382.4,1321.0" stroke-width="1.52" fill="none" stroke-linecap="round"/>
<path d="M603.5,1140.0 C605.5,1141.4 612.3,1147.0 615.3,1148.2 C618.2,1149.4 620.2,1147.2 621.2,1147.0" stroke-width="1.52" fill="none" stroke-linecap="round"/>
<path d="M597.6,1216.5 C600.5,1218.8 612.3,1228.2 615.3,1230.6" stroke-width="1.52" fill="none" stroke-linecap="round"/>
<path d="M593.0,1262.4 C594.8,1263.6 599.6,1266.9 603.5,1269.4 C607.4,1271.9 614.3,1276.2 616.5,1277.6" stroke-width="1.52" fill="none" stroke-linecap="round"/>
<path d="M750.6,274.1 C752.2,274.9 757.6,277.2 760.0,278.8 C762.4,280.4 763.9,282.7 764.7,283.5" stroke-width="1.52" fill="none" stroke-linecap="round"/>
<path d="M913.0,270.6 C911.6,269.6 907.3,267.2 904.7,264.7 C902.1,262.1 898.8,256.9 897.6,255.3" stroke-width="1.52" fill="none" stroke-linecap="round"/>
<path d="M902.4,507.0 C900.8,506.2 896.3,503.4 893.0,502.4 C889.7,501.4 884.2,501.4 882.4,501.2" stroke-width="1.52" fill="none" stroke-linecap="round"/>
<path d="M910.6,571.8 C909.6,571.4 906.9,571.0 904.7,569.4 C902.5,567.8 898.8,563.6 897.6,562.4" stroke-width="1.52" fill="none" stroke-linecap="round"/>
<path d="M914.0,630.6 C912.5,629.8 907.4,627.7 904.7,625.9 C902.0,624.1 898.8,621.0 897.6,620.0" stroke-width="1.52" fill="none" stroke-linecap="round"/>
<path d="M909.4,676.5 C907.8,675.9 904.7,676.0 900.0,673.0 C895.3,670.0 885.9,661.8 881.2,658.8 C876.5,655.8 873.4,655.9 871.8,655.3" stroke-width="1.52" fill="none" stroke-linecap="round"/>
<path d="M883.0,748.0 C886.3,752.9 899.7,772.3 903.0,777.2" stroke-width="1.52" fill="none" stroke-linecap="round"/>
<path d="M1021.2,571.8 C1020.0,571.6 1017.3,573.0 1014.0,570.6 C1010.7,568.2 1003.3,559.8 1001.2,557.6" stroke-width="1.52" fill="none" stroke-linecap="round"/>
<path d="M971.8,724.7 C975.3,729.4 989.5,748.3 993.0,753.0" stroke-width="1.52" fill="none" stroke-linecap="round"/>
<path d="M978.8,774.1 C979.4,773.1 980.6,769.2 982.4,768.2 C984.2,767.2 988.2,768.2 989.4,768.2" stroke-width="1.52" fill="none" stroke-linecap="round"/>
<path d="M1044.7,813.0 C1046.2,813.4 1050.9,814.1 1054.0,815.3 C1057.1,816.5 1061.9,819.2 1063.5,820.0" stroke-width="1.52" fill="none" stroke-linecap="round"/>
<path d="M776.5,910.6 C779.6,913.0 792.2,922.4 795.3,924.7" stroke-width="1.52" fill="none" stroke-linecap="round"/>
<path d="M837.5,967.9 C837.1,973.2 834.6,991.6 835.0,1000.0 C835.4,1008.4 839.2,1015.0 840.0,1018.0" stroke-width="1.52" fill="none" stroke-linecap="round"/>
<path d="M516.5,613.0 C515.1,609.5 508.5,598.7 508.2,592.0 C507.9,585.3 513.5,576.2 514.5,573.0" stroke-width="1.71" fill="none" stroke-linecap="round"/>
<path d="M517.8,566.5 L510.8,573 L517.6,576.5 Z" stroke-width="1.22" fill="#f6f6f6" />
<line x1="326.0" y1="942.4" x2="344.7" y2="942.4" stroke-width="2.44" />
<line x1="335.8" y1="942.4" x2="335.8" y2="914.0" stroke-width="1.83" />
<path d="M335.8,906.5 L332.6,916.5 L339,916.5 Z" stroke-width="1.22" fill="#f6f6f6" />
<line x1="346.5" y1="942.4" x2="348.5" y2="942.4" stroke-width="1.83" />
<line x1="350.5" y1="942.4" x2="352.0" y2="942.4" stroke-width="1.83" />
<line x1="458.0" y1="942.4" x2="476.5" y2="942.4" stroke-width="2.44" />
<line x1="464.7" y1="942.4" x2="464.7" y2="920.0" stroke-width="1.83" />
<path d="M464.7,912 L461.5,922 L467.9,922 Z" stroke-width="1.22" fill="#f6f6f6" />
<line x1="453.5" y1="942.4" x2="455.5" y2="942.4" stroke-width="1.83" />
</g>
</svg>
</body></html>
